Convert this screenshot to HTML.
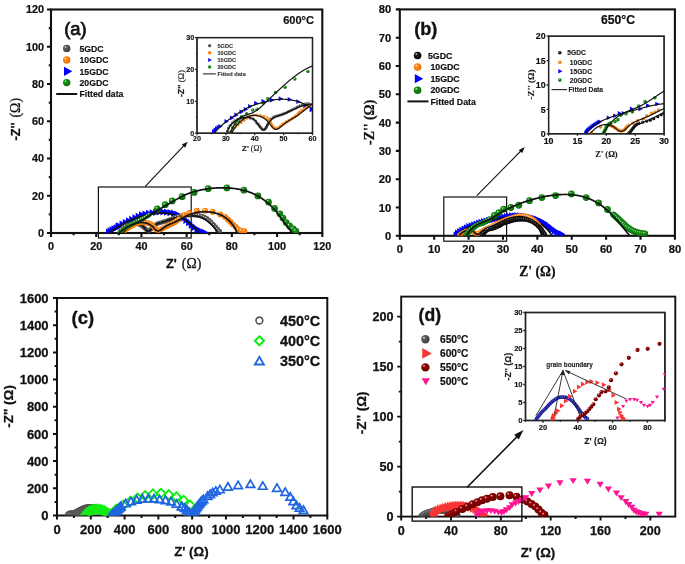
<!DOCTYPE html>
<html><head><meta charset="utf-8"><title>Figure</title>
<style>html,body{margin:0;padding:0;background:#fff;}svg{display:block;will-change:transform;}text{stroke:currentColor;}</style>
</head><body>
<svg width="685" height="564" viewBox="0 0 685 564">
<defs>
<radialGradient id="gGrey" cx="0.42" cy="0.42" r="0.62" fx="0.32" fy="0.3"><stop offset="0" stop-color="#f0f0f0"/><stop offset="0.28" stop-color="#5e5e5e"/><stop offset="1" stop-color="#3a3a3a"/></radialGradient>
<radialGradient id="gOr" cx="0.42" cy="0.42" r="0.62" fx="0.32" fy="0.3"><stop offset="0" stop-color="#fff0e0"/><stop offset="0.28" stop-color="#ff8a1a"/><stop offset="1" stop-color="#ea7000"/></radialGradient>
<radialGradient id="gGr" cx="0.42" cy="0.42" r="0.62" fx="0.32" fy="0.3"><stop offset="0" stop-color="#d8f0d8"/><stop offset="0.28" stop-color="#159015"/><stop offset="1" stop-color="#0a6e0a"/></radialGradient>
<radialGradient id="gBk" cx="0.42" cy="0.42" r="0.62" fx="0.32" fy="0.3"><stop offset="0" stop-color="#e8e8e8"/><stop offset="0.28" stop-color="#1e1e1e"/><stop offset="1" stop-color="#000"/></radialGradient>
<radialGradient id="gDR" cx="0.42" cy="0.42" r="0.62" fx="0.32" fy="0.3"><stop offset="0" stop-color="#f8d8d8"/><stop offset="0.28" stop-color="#8e0000"/><stop offset="1" stop-color="#640000"/></radialGradient>
<clipPath id="cA"><rect x="51" y="9.5" width="271.3" height="223.5"/></clipPath>
<clipPath id="cB"><rect x="399.8" y="9.4" width="275.1" height="226.4"/></clipPath>
<clipPath id="cC"><rect x="57" y="298" width="270.3" height="217.5"/></clipPath>
<clipPath id="cD"><rect x="401.2" y="296.6" width="274.1" height="220"/></clipPath>
</defs>
<rect width="685" height="564" fill="#fff"/>
<rect x="51" y="9.5" width="271.3" height="223.5" fill="none" stroke="#111" stroke-width="2.1"/>
<path d="M51 233V237M96.22 233V237M141.43 233V237M186.65 233V237M231.87 233V237M277.08 233V237M322.3 233V237M73.61 233V235.2M118.83 233V235.2M164.04 233V235.2M209.26 233V235.2M254.47 233V235.2M299.69 233V235.2M51 233H47M51 195.75H47M51 158.5H47M51 121.25H47M51 84H47M51 46.75H47M51 9.5H47M51 214.38H48.8M51 177.12H48.8M51 139.88H48.8M51 102.62H48.8M51 65.38H48.8M51 28.12H48.8" stroke="#111" stroke-width="2.1" fill="none"/>
<text x="51" y="249.6" font-size="10.8" font-weight="bold" font-family='"Liberation Sans", sans-serif' text-anchor="middle" fill="#111" color="#111" stroke-width="0.22">0</text>
<text x="96.22" y="249.6" font-size="10.8" font-weight="bold" font-family='"Liberation Sans", sans-serif' text-anchor="middle" fill="#111" color="#111" stroke-width="0.22">20</text>
<text x="141.43" y="249.6" font-size="10.8" font-weight="bold" font-family='"Liberation Sans", sans-serif' text-anchor="middle" fill="#111" color="#111" stroke-width="0.22">40</text>
<text x="186.65" y="249.6" font-size="10.8" font-weight="bold" font-family='"Liberation Sans", sans-serif' text-anchor="middle" fill="#111" color="#111" stroke-width="0.22">60</text>
<text x="231.87" y="249.6" font-size="10.8" font-weight="bold" font-family='"Liberation Sans", sans-serif' text-anchor="middle" fill="#111" color="#111" stroke-width="0.22">80</text>
<text x="277.08" y="249.6" font-size="10.8" font-weight="bold" font-family='"Liberation Sans", sans-serif' text-anchor="middle" fill="#111" color="#111" stroke-width="0.22">100</text>
<text x="322.3" y="249.6" font-size="10.8" font-weight="bold" font-family='"Liberation Sans", sans-serif' text-anchor="middle" fill="#111" color="#111" stroke-width="0.22">120</text>
<text x="43.9" y="236.89" font-size="10.8" font-weight="bold" font-family='"Liberation Sans", sans-serif' text-anchor="end" fill="#111" color="#111" stroke-width="0.22">0</text>
<text x="43.9" y="199.64" font-size="10.8" font-weight="bold" font-family='"Liberation Sans", sans-serif' text-anchor="end" fill="#111" color="#111" stroke-width="0.22">20</text>
<text x="43.9" y="162.39" font-size="10.8" font-weight="bold" font-family='"Liberation Sans", sans-serif' text-anchor="end" fill="#111" color="#111" stroke-width="0.22">40</text>
<text x="43.9" y="125.14" font-size="10.8" font-weight="bold" font-family='"Liberation Sans", sans-serif' text-anchor="end" fill="#111" color="#111" stroke-width="0.22">60</text>
<text x="43.9" y="87.89" font-size="10.8" font-weight="bold" font-family='"Liberation Sans", sans-serif' text-anchor="end" fill="#111" color="#111" stroke-width="0.22">80</text>
<text x="43.9" y="50.64" font-size="10.8" font-weight="bold" font-family='"Liberation Sans", sans-serif' text-anchor="end" fill="#111" color="#111" stroke-width="0.22">100</text>
<text x="43.9" y="13.39" font-size="10.8" font-weight="bold" font-family='"Liberation Sans", sans-serif' text-anchor="end" fill="#111" color="#111" stroke-width="0.22">120</text>
<rect x="98.4" y="187" width="92.8" height="51" fill="none" stroke="#111" stroke-width="1.2"/>
<g clip-path="url(#cA)">
<path d="M105.91 228.6L112.51 232.23L105.91 235.86Z" fill="#0000ff"/>
<path d="M107.6 227.19L114.2 230.82L107.6 234.45Z" fill="#0000ff"/>
<path d="M109.52 226.13L116.12 229.76L109.52 233.39Z" fill="#0000ff"/>
<path d="M111.53 225.23L118.13 228.86L111.53 232.49Z" fill="#0000ff"/>
<path d="M113.51 224.29L120.11 227.92L113.51 231.55Z" fill="#0000ff"/>
<path d="M115.36 223.09L121.96 226.72L115.36 230.35Z" fill="#0000ff"/>
</g>
<g clip-path="url(#cA)">
<path d="M116.31 222.2L122.91 225.83L116.31 229.46Z" fill="#0000ff"/>
<path d="M119.54 220.62L126.14 224.25L119.54 227.88Z" fill="#0000ff"/>
<path d="M122.74 218.97L129.34 222.6L122.74 226.23Z" fill="#0000ff"/>
<path d="M125.96 217.37L132.56 221L125.96 224.63Z" fill="#0000ff"/>
<path d="M129.24 215.87L135.84 219.5L129.24 223.13Z" fill="#0000ff"/>
<path d="M132.49 214.32L139.09 217.95L132.49 221.58Z" fill="#0000ff"/>
<path d="M135.69 212.69L142.29 216.32L135.69 219.95Z" fill="#0000ff"/>
<path d="M139.03 211.34L145.63 214.97L139.03 218.6Z" fill="#0000ff"/>
<path d="M142.52 210.48L149.12 214.11L142.52 217.74Z" fill="#0000ff"/>
<path d="M146.07 209.86L152.67 213.49L146.07 217.12Z" fill="#0000ff"/>
<path d="M149.61 209.23L156.21 212.86L149.61 216.49Z" fill="#0000ff"/>
<path d="M153.17 208.68L159.77 212.31L153.17 215.94Z" fill="#0000ff"/>
<path d="M156.75 208.33L163.35 211.96L156.75 215.59Z" fill="#0000ff"/>
<path d="M160.35 208.27L166.95 211.9L160.35 215.53Z" fill="#0000ff"/>
<path d="M163.94 208.52L170.54 212.15L163.94 215.78Z" fill="#0000ff"/>
<path d="M167.52 208.94L174.12 212.57L167.52 216.2Z" fill="#0000ff"/>
<path d="M171.07 209.53L177.67 213.16L171.07 216.79Z" fill="#0000ff"/>
<path d="M174.46 210.71L181.06 214.34L174.46 217.97Z" fill="#0000ff"/>
<path d="M177.56 212.52L184.16 216.15L177.56 219.78Z" fill="#0000ff"/>
<path d="M180.53 214.56L187.13 218.19L180.53 221.82Z" fill="#0000ff"/>
<path d="M183.4 216.73L190 220.36L183.4 223.99Z" fill="#0000ff"/>
<path d="M186.1 219.11L192.7 222.74L186.1 226.37Z" fill="#0000ff"/>
<path d="M188.76 221.54L195.36 225.17L188.76 228.8Z" fill="#0000ff"/>
<path d="M191.55 223.81L198.15 227.44L191.55 231.07Z" fill="#0000ff"/>
<path d="M194.56 225.79L201.16 229.42L194.56 233.05Z" fill="#0000ff"/>
<path d="M197.79 227.37L204.39 231L197.79 234.63Z" fill="#0000ff"/>
<path d="M201.21 228.47L207.81 232.1L201.21 235.73Z" fill="#0000ff"/>
</g>
<path d="M109.78 233 L109.96 232.82 L110.14 232.63 L110.32 232.45 L110.5 232.28 L110.68 232.1 L110.87 231.93 L111.06 231.76 L111.24 231.6 L111.43 231.43 L111.63 231.27 L111.82 231.11 L112.01 230.95 L112.21 230.79 L112.41 230.64 L112.6 230.48 L112.8 230.33 L113.01 230.18 L113.21 230.03 L113.41 229.89 L113.62 229.74 L113.82 229.6 L114.03 229.46 L114.24 229.32 L114.44 229.18 L114.65 229.04 L114.87 228.91 L115.08 228.77 L115.29 228.64 L115.5 228.51 L115.72 228.38 L115.93 228.25 L116.15 228.12 L116.36 227.99 L116.58 227.86 L116.79 227.74 L117.01 227.61 L117.23 227.49 L117.45 227.36 L117.67 227.24 L117.89 227.12 L118.11 226.99 L118.33 226.87 L118.55 226.75 L118.77 226.63 L118.99 226.51 L119.21 226.39 L119.43 226.27 L119.65 226.15 L119.87 226.03 L120.09 225.9 L120.31 225.78 L120.54 225.66 L120.76 225.54 L120.98 225.42 L121.2 225.3 L121.42 225.18 L121.64 225.06 L121.86 224.94 L122.08 224.82 L122.3 224.69 L122.52 224.57 L122.74 224.45 L122.96 224.33 L123.18 224.21 L123.4 224.08 L123.62 223.96 L123.84 223.84 L124.06 223.72 L124.28 223.6 L124.5 223.48 L124.72 223.35 L124.94 223.23 L125.16 223.11 L125.38 222.99 L125.6 222.87 L125.82 222.75 L126.04 222.63 L126.26 222.51 L126.48 222.39 L126.7 222.27 L126.92 222.16 L127.14 222.04 L127.37 221.92 L127.59 221.8 L127.81 221.69 L128.03 221.57 L128.26 221.46 L128.48 221.34 L128.7 221.23 L128.93 221.12 L129.15 221 L129.38 220.89 L129.6 220.78 L129.83 220.67 L130.06 220.56 L130.28 220.45 L130.51 220.34 L130.74 220.24 L130.97 220.13 L131.2 220.03 L131.42 219.92 L131.65 219.82 L131.88 219.71 L132.11 219.61 L132.34 219.51 L132.57 219.41 L132.81 219.31 L133.04 219.21 L133.27 219.11 L133.5 219.02 L133.73 218.92 L133.97 218.83 L134.2 218.73 L134.43 218.64 L134.67 218.55 L134.9 218.45 L135.14 218.36 L135.37 218.27 L135.61 218.19 L135.84 218.1 L136.08 218.01 L136.32 217.93 L136.55 217.84 L136.79 217.76 L137.03 217.68 L137.27 217.59 L137.5 217.51 L137.74 217.43 L137.98 217.36 L138.22 217.28 L138.46 217.2 L138.7 217.13 L138.94 217.05 L139.18 216.98 L139.42 216.91 L139.66 216.84 L139.9 216.77 L140.14 216.7 L140.38 216.63 L140.63 216.57 L140.87 216.5 L141.11 216.44 L141.35 216.37 L141.6 216.31 L141.84 216.25 L142.08 216.19 L142.33 216.13 L142.57 216.07 L142.81 216.01 L143.06 215.95 L143.3 215.89 L143.55 215.83 L143.79 215.78 L144.04 215.72 L144.28 215.67 L144.53 215.61 L144.77 215.56 L145.02 215.5 L145.26 215.45 L145.51 215.4 L145.75 215.35 L146 215.29 L146.25 215.24 L146.49 215.19 L146.74 215.14 L146.98 215.09 L147.23 215.04 L147.48 214.99 L147.72 214.94 L147.97 214.89 L148.22 214.84 L148.47 214.79 L148.71 214.74 L148.96 214.69 L149.21 214.64 L149.45 214.59 L149.7 214.54 L149.95 214.49 L150.19 214.43 L150.44 214.38 L150.69 214.33 L150.94 214.28 L151.18 214.24 L151.43 214.19 L151.68 214.14 L151.92 214.09 L152.17 214.04 L152.42 213.99 L152.67 213.94 L152.91 213.9 L153.16 213.85 L153.41 213.81 L153.66 213.76 L153.91 213.72 L154.15 213.67 L154.4 213.63 L154.65 213.59 L154.9 213.55 L155.15 213.51 L155.39 213.47 L155.64 213.44 L155.89 213.4 L156.14 213.37 L156.39 213.33 L156.64 213.3 L156.89 213.27 L157.14 213.24 L157.38 213.21 L157.63 213.19 L157.88 213.16 L158.13 213.14 L158.38 213.12 L158.63 213.1 L158.88 213.08 L159.13 213.07 L159.38 213.05 L159.63 213.04 L159.88 213.03 L160.13 213.02 L160.38 213.02 L160.63 213.01 L160.88 213.01 L161.13 213.01 L161.39 213.01 L161.64 213.01 L161.89 213.02 L162.14 213.02 L162.39 213.03 L162.64 213.04 L162.89 213.05 L163.14 213.06 L163.39 213.07 L163.65 213.09 L163.9 213.11 L164.15 213.12 L164.4 213.14 L164.65 213.16 L164.9 213.18 L165.15 213.21 L165.4 213.23 L165.65 213.26 L165.91 213.28 L166.16 213.31 L166.41 213.34 L166.66 213.37 L166.91 213.4 L167.16 213.43 L167.41 213.47 L167.66 213.5 L167.91 213.53 L168.16 213.57 L168.41 213.61 L168.66 213.64 L168.91 213.68 L169.16 213.72 L169.41 213.76 L169.66 213.8 L169.91 213.85 L170.16 213.89 L170.4 213.94 L170.65 213.98 L170.9 214.03 L171.15 214.08 L171.39 214.13 L171.64 214.18 L171.89 214.23 L172.13 214.28 L172.38 214.34 L172.63 214.39 L172.87 214.45 L173.12 214.51 L173.36 214.57 L173.6 214.63 L173.85 214.7 L174.09 214.76 L174.33 214.83 L174.57 214.9 L174.81 214.97 L175.05 215.04 L175.29 215.12 L175.53 215.19 L175.77 215.27 L176.01 215.35 L176.25 215.43 L176.48 215.51 L176.72 215.6 L176.95 215.69 L177.19 215.78 L177.42 215.87 L177.65 215.96 L177.88 216.06 L178.12 216.16 L178.35 216.26 L178.58 216.36 L178.8 216.46 L179.03 216.57 L179.26 216.67 L179.49 216.78 L179.71 216.89 L179.94 217 L180.16 217.12 L180.39 217.23 L180.61 217.35 L180.83 217.47 L181.06 217.59 L181.28 217.71 L181.5 217.83 L181.72 217.95 L181.94 218.08 L182.15 218.21 L182.37 218.33 L182.59 218.46 L182.8 218.59 L183.02 218.72 L183.23 218.86 L183.45 218.99 L183.66 219.12 L183.87 219.26 L184.09 219.39 L184.3 219.53 L184.51 219.67 L184.72 219.81 L184.93 219.95 L185.14 220.09 L185.34 220.23 L185.55 220.37 L185.76 220.51 L185.96 220.65 L186.17 220.8 L186.38 220.94 L186.58 221.09 L186.78 221.24 L186.99 221.38 L187.19 221.53 L187.39 221.68 L187.6 221.83 L187.8 221.98 L188 222.13 L188.2 222.28 L188.4 222.43 L188.6 222.58 L188.8 222.73 L189 222.89 L189.2 223.04 L189.39 223.2 L189.59 223.35 L189.79 223.51 L189.99 223.66 L190.18 223.82 L190.38 223.98 L190.58 224.14 L190.77 224.29 L190.97 224.45 L191.16 224.61 L191.36 224.77 L191.55 224.93 L191.75 225.09 L191.94 225.25 L192.13 225.41 L192.33 225.58 L192.52 225.74 L192.71 225.9 L192.9 226.07 L193.09 226.24 L193.28 226.4 L193.47 226.57 L193.66 226.74 L193.84 226.91 L194.03 227.08 L194.21 227.25 L194.39 227.43 L194.57 227.6 L194.75 227.78 L194.93 227.96 L195.1 228.13 L195.28 228.32 L195.45 228.5 L195.62 228.68 L195.79 228.87 L195.95 229.05 L196.12 229.24 L196.28 229.43 L196.44 229.63 L196.6 229.82 L196.75 230.02 L196.9 230.22 L197.05 230.42 L197.2 230.62 L197.35 230.82 L197.49 231.03 L197.63 231.24 L197.76 231.45 L197.9 231.66 L198.03 231.88 L198.16 232.1 L198.28 232.32 L198.4 232.54 L198.52 232.77 L198.63 233" fill="none" stroke="#111" stroke-width="1.7" stroke-linejoin="round" clip-path="url(#cA)"/>
<g clip-path="url(#cA)">
<circle cx="119.96" cy="231.7" r="2.4" fill="url(#gGrey)"/>
<circle cx="121.44" cy="229.57" r="2.4" fill="url(#gGrey)"/>
<circle cx="123.28" cy="227.73" r="2.4" fill="url(#gGrey)"/>
<circle cx="125.39" cy="226.23" r="2.4" fill="url(#gGrey)"/>
<circle cx="127.73" cy="225.09" r="2.4" fill="url(#gGrey)"/>
<circle cx="130.22" cy="224.34" r="2.4" fill="url(#gGrey)"/>
<circle cx="132.78" cy="223.94" r="2.4" fill="url(#gGrey)"/>
<circle cx="135.38" cy="223.86" r="2.4" fill="url(#gGrey)"/>
<circle cx="137.97" cy="224.08" r="2.4" fill="url(#gGrey)"/>
<circle cx="140.42" cy="224.9" r="2.4" fill="url(#gGrey)"/>
<circle cx="142.53" cy="226.42" r="2.4" fill="url(#gGrey)"/>
<circle cx="144.5" cy="228.11" r="2.4" fill="url(#gGrey)"/>
<circle cx="146.54" cy="229.73" r="2.4" fill="url(#gGrey)"/>
<circle cx="148.86" cy="230.75" r="2.4" fill="url(#gGrey)"/>
<circle cx="150.89" cy="229.23" r="2.4" fill="url(#gGrey)"/>
<circle cx="152.49" cy="227.18" r="2.4" fill="url(#gGrey)"/>
<circle cx="154.4" cy="225.43" r="2.4" fill="url(#gGrey)"/>
<circle cx="156.64" cy="224.1" r="2.4" fill="url(#gGrey)"/>
<circle cx="159.01" cy="223.05" r="2.4" fill="url(#gGrey)"/>
<circle cx="161.49" cy="222.28" r="2.4" fill="url(#gGrey)"/>
<circle cx="164.02" cy="221.65" r="2.4" fill="url(#gGrey)"/>
<circle cx="166.49" cy="220.85" r="2.4" fill="url(#gGrey)"/>
<circle cx="168.94" cy="219.99" r="2.4" fill="url(#gGrey)"/>
<circle cx="171.38" cy="219.08" r="2.4" fill="url(#gGrey)"/>
<circle cx="173.77" cy="218.06" r="2.4" fill="url(#gGrey)"/>
<circle cx="176.2" cy="217.14" r="2.4" fill="url(#gGrey)"/>
<circle cx="178.72" cy="216.49" r="2.4" fill="url(#gGrey)"/>
<circle cx="181.27" cy="216" r="2.4" fill="url(#gGrey)"/>
<circle cx="183.84" cy="215.61" r="2.4" fill="url(#gGrey)"/>
<circle cx="186.43" cy="215.33" r="2.4" fill="url(#gGrey)"/>
<circle cx="189.02" cy="215.16" r="2.4" fill="url(#gGrey)"/>
<circle cx="191.62" cy="215.11" r="2.4" fill="url(#gGrey)"/>
<circle cx="194.22" cy="215.13" r="2.4" fill="url(#gGrey)"/>
<circle cx="196.82" cy="215.26" r="2.4" fill="url(#gGrey)"/>
<circle cx="199.4" cy="215.57" r="2.4" fill="url(#gGrey)"/>
<circle cx="201.93" cy="216.16" r="2.4" fill="url(#gGrey)"/>
<circle cx="204.36" cy="217.07" r="2.4" fill="url(#gGrey)"/>
<circle cx="206.63" cy="218.34" r="2.4" fill="url(#gGrey)"/>
<circle cx="208.67" cy="219.95" r="2.4" fill="url(#gGrey)"/>
<circle cx="210.55" cy="221.74" r="2.4" fill="url(#gGrey)"/>
<circle cx="212.39" cy="223.58" r="2.4" fill="url(#gGrey)"/>
<circle cx="214.23" cy="225.41" r="2.4" fill="url(#gGrey)"/>
<circle cx="216" cy="227.32" r="2.4" fill="url(#gGrey)"/>
<circle cx="217.69" cy="229.29" r="2.4" fill="url(#gGrey)"/>
<circle cx="219.56" cy="231.1" r="2.4" fill="url(#gGrey)"/>
</g>
<path d="M119.96 233 L120.08 232.74 L120.22 232.48 L120.36 232.23 L120.5 231.98 L120.65 231.73 L120.8 231.49 L120.96 231.24 L121.12 231.01 L121.28 230.77 L121.45 230.54 L121.62 230.31 L121.8 230.08 L121.98 229.86 L122.16 229.64 L122.35 229.42 L122.54 229.21 L122.74 229 L122.94 228.8 L123.14 228.59 L123.35 228.39 L123.56 228.2 L123.77 228.01 L123.98 227.82 L124.2 227.63 L124.43 227.45 L124.65 227.28 L124.88 227.1 L125.11 226.93 L125.34 226.77 L125.58 226.61 L125.82 226.45 L126.06 226.29 L126.3 226.14 L126.55 226 L126.8 225.86 L127.05 225.72 L127.31 225.59 L127.56 225.46 L127.82 225.33 L128.08 225.21 L128.34 225.09 L128.6 224.98 L128.87 224.87 L129.14 224.77 L129.41 224.67 L129.68 224.58 L129.95 224.49 L130.22 224.4 L130.5 224.32 L130.78 224.25 L131.05 224.18 L131.33 224.11 L131.61 224.05 L131.89 223.99 L132.18 223.94 L132.46 223.89 L132.74 223.84 L133.03 223.8 L133.31 223.77 L133.6 223.74 L133.88 223.71 L134.17 223.69 L134.45 223.68 L134.74 223.66 L135.02 223.66 L135.31 223.65 L135.6 223.65 L135.88 223.66 L136.17 223.67 L136.45 223.69 L136.74 223.71 L137.02 223.73 L137.3 223.76 L137.59 223.8 L137.87 223.84 L138.15 223.89 L138.42 223.94 L138.7 224 L138.98 224.07 L139.25 224.14 L139.52 224.23 L139.79 224.32 L140.06 224.42 L140.33 224.53 L140.59 224.64 L140.85 224.77 L141.11 224.91 L141.37 225.06 L141.62 225.21 L141.87 225.38 L142.12 225.56 L142.36 225.75 L142.6 225.96 L142.84 226.17 L143.07 226.39 L143.3 226.63 L143.53 226.87 L143.76 227.12 L143.98 227.37 L144.2 227.62 L144.41 227.88 L144.63 228.14 L144.84 228.39 L145.05 228.65 L145.26 228.89 L145.47 229.14 L145.67 229.37 L145.87 229.6 L146.08 229.82 L146.28 230.02 L146.48 230.22 L146.68 230.4 L146.87 230.56 L147.07 230.71 L147.27 230.83 L147.46 230.94 L147.66 231.03 L147.86 231.09 L148.05 231.13 L148.25 231.14 L148.44 231.12 L148.64 231.08 L148.84 231.02 L149.04 230.93 L149.23 230.82 L149.43 230.69 L149.63 230.55 L149.83 230.38 L150.03 230.2 L150.24 230.01 L150.44 229.8 L150.64 229.58 L150.85 229.36 L151.06 229.12 L151.27 228.87 L151.48 228.62 L151.69 228.37 L151.9 228.11 L152.12 227.85 L152.33 227.59 L152.55 227.33 L152.77 227.08 L153 226.82 L153.22 226.58 L153.45 226.34 L153.68 226.11 L153.91 225.88 L154.14 225.67 L154.38 225.47 L154.62 225.28 L154.86 225.1 L155.1 224.92 L155.35 224.76 L155.6 224.6 L155.85 224.45 L156.1 224.31 L156.35 224.18 L156.6 224.05 L156.86 223.93 L157.12 223.81 L157.37 223.7 L157.63 223.59 L157.89 223.49 L158.16 223.39 L158.42 223.29 L158.68 223.2 L158.95 223.11 L159.21 223.02 L159.48 222.94 L159.75 222.85 L160.01 222.77 L160.28 222.69 L160.55 222.6 L160.82 222.52 L161.08 222.43 L161.35 222.35 L161.62 222.26 L161.89 222.18 L162.16 222.09 L162.43 222 L162.7 221.91 L162.97 221.83 L163.24 221.74 L163.51 221.65 L163.78 221.56 L164.05 221.47 L164.32 221.38 L164.59 221.29 L164.86 221.2 L165.13 221.11 L165.4 221.02 L165.67 220.93 L165.94 220.84 L166.21 220.75 L166.48 220.66 L166.75 220.57 L167.02 220.48 L167.3 220.39 L167.57 220.29 L167.84 220.2 L168.11 220.11 L168.38 220.02 L168.65 219.93 L168.93 219.84 L169.2 219.75 L169.47 219.66 L169.74 219.57 L170.01 219.48 L170.29 219.39 L170.56 219.3 L170.83 219.22 L171.1 219.13 L171.38 219.04 L171.65 218.95 L171.92 218.86 L172.19 218.78 L172.47 218.69 L172.74 218.61 L173.01 218.52 L173.29 218.44 L173.56 218.35 L173.83 218.27 L174.11 218.19 L174.38 218.11 L174.65 218.03 L174.93 217.95 L175.2 217.87 L175.47 217.79 L175.75 217.71 L176.02 217.63 L176.3 217.56 L176.57 217.48 L176.85 217.41 L177.12 217.34 L177.4 217.27 L177.68 217.2 L177.95 217.13 L178.23 217.06 L178.5 216.99 L178.78 216.92 L179.06 216.86 L179.34 216.8 L179.61 216.73 L179.89 216.67 L180.17 216.61 L180.45 216.56 L180.73 216.5 L181.01 216.44 L181.29 216.39 L181.57 216.34 L181.85 216.29 L182.13 216.24 L182.41 216.19 L182.69 216.14 L182.97 216.1 L183.25 216.06 L183.53 216.02 L183.82 215.98 L184.1 215.94 L184.38 215.9 L184.67 215.87 L184.95 215.84 L185.23 215.81 L185.52 215.78 L185.8 215.75 L186.08 215.73 L186.37 215.7 L186.65 215.68 L186.94 215.66 L187.22 215.64 L187.51 215.63 L187.79 215.62 L188.08 215.6 L188.37 215.59 L188.65 215.59 L188.94 215.58 L189.22 215.58 L189.51 215.58 L189.79 215.58 L190.08 215.58 L190.37 215.59 L190.65 215.59 L190.94 215.6 L191.22 215.61 L191.51 215.63 L191.8 215.64 L192.08 215.66 L192.37 215.68 L192.65 215.71 L192.94 215.73 L193.23 215.76 L193.51 215.79 L193.8 215.82 L194.08 215.86 L194.37 215.9 L194.65 215.94 L194.93 215.98 L195.22 216.02 L195.5 216.07 L195.78 216.12 L196.06 216.17 L196.34 216.23 L196.63 216.29 L196.91 216.35 L197.18 216.41 L197.46 216.48 L197.74 216.54 L198.02 216.62 L198.29 216.69 L198.57 216.77 L198.84 216.85 L199.12 216.93 L199.39 217.01 L199.66 217.1 L199.93 217.19 L200.2 217.29 L200.47 217.38 L200.73 217.48 L201 217.59 L201.26 217.69 L201.53 217.8 L201.79 217.91 L202.05 218.03 L202.31 218.15 L202.56 218.27 L202.82 218.39 L203.07 218.52 L203.33 218.65 L203.58 218.78 L203.83 218.91 L204.08 219.05 L204.33 219.19 L204.58 219.33 L204.82 219.47 L205.07 219.62 L205.31 219.77 L205.55 219.92 L205.8 220.07 L206.04 220.23 L206.28 220.39 L206.51 220.55 L206.75 220.71 L206.99 220.87 L207.22 221.03 L207.45 221.2 L207.69 221.37 L207.92 221.54 L208.15 221.71 L208.38 221.88 L208.61 222.06 L208.83 222.24 L209.06 222.41 L209.29 222.59 L209.51 222.77 L209.73 222.95 L209.96 223.14 L210.18 223.32 L210.4 223.51 L210.62 223.7 L210.83 223.89 L211.05 224.08 L211.26 224.27 L211.47 224.46 L211.68 224.66 L211.89 224.86 L212.09 225.06 L212.29 225.26 L212.49 225.46 L212.69 225.67 L212.88 225.88 L213.08 226.09 L213.27 226.3 L213.45 226.51 L213.64 226.73 L213.82 226.95 L213.99 227.17 L214.17 227.39 L214.34 227.62 L214.5 227.85 L214.67 228.08 L214.83 228.31 L214.98 228.55 L215.13 228.79 L215.28 229.03 L215.43 229.27 L215.56 229.52 L215.7 229.77 L215.83 230.02 L215.96 230.28 L216.08 230.54 L216.19 230.8 L216.31 231.06 L216.41 231.33 L216.51 231.6 L216.61 231.87 L216.7 232.15 L216.79 232.43 L216.87 232.71 L216.95 233" fill="none" stroke="#111" stroke-width="1.7" stroke-linejoin="round" clip-path="url(#cA)"/>
<g clip-path="url(#cA)">
<circle cx="122.67" cy="232.44" r="2.8" fill="url(#gOr)"/>
<circle cx="124.46" cy="230.56" r="2.8" fill="url(#gOr)"/>
<circle cx="126.53" cy="229" r="2.8" fill="url(#gOr)"/>
<circle cx="128.72" cy="227.59" r="2.8" fill="url(#gOr)"/>
<circle cx="130.92" cy="226.2" r="2.8" fill="url(#gOr)"/>
<circle cx="133.2" cy="224.96" r="2.8" fill="url(#gOr)"/>
<circle cx="135.55" cy="223.86" r="2.8" fill="url(#gOr)"/>
<circle cx="137.97" cy="222.9" r="2.8" fill="url(#gOr)"/>
<circle cx="140.52" cy="222.42" r="2.8" fill="url(#gOr)"/>
<circle cx="143.12" cy="222.41" r="2.8" fill="url(#gOr)"/>
<circle cx="145.7" cy="222.69" r="2.8" fill="url(#gOr)"/>
<circle cx="148.27" cy="223.1" r="2.8" fill="url(#gOr)"/>
<circle cx="150.72" cy="223.94" r="2.8" fill="url(#gOr)"/>
<circle cx="152.73" cy="225.57" r="2.8" fill="url(#gOr)"/>
<circle cx="154.35" cy="227.61" r="2.8" fill="url(#gOr)"/>
<circle cx="156.15" cy="229.47" r="2.8" fill="url(#gOr)"/>
<circle cx="158.58" cy="230.18" r="2.8" fill="url(#gOr)"/>
<circle cx="160.99" cy="229.25" r="2.8" fill="url(#gOr)"/>
<circle cx="163.26" cy="227.97" r="2.8" fill="url(#gOr)"/>
<circle cx="165.58" cy="226.8" r="2.8" fill="url(#gOr)"/>
<circle cx="167.92" cy="225.67" r="2.8" fill="url(#gOr)"/>
<circle cx="170.27" cy="224.56" r="2.8" fill="url(#gOr)"/>
<circle cx="172.63" cy="223.47" r="2.8" fill="url(#gOr)"/>
<circle cx="174.85" cy="222.13" r="2.8" fill="url(#gOr)"/>
<circle cx="176.91" cy="220.54" r="2.8" fill="url(#gOr)"/>
<circle cx="179.09" cy="219.12" r="2.8" fill="url(#gOr)"/>
</g>
<g clip-path="url(#cA)">
<circle cx="184.39" cy="215.12" r="3" fill="url(#gOr)"/>
<circle cx="189.14" cy="213.07" r="3" fill="url(#gOr)"/>
<circle cx="196.82" cy="210.84" r="3" fill="url(#gOr)"/>
<circle cx="204.96" cy="210.65" r="3" fill="url(#gOr)"/>
<circle cx="212.65" cy="211.77" r="3" fill="url(#gOr)"/>
<circle cx="220.34" cy="214.38" r="3" fill="url(#gOr)"/>
<circle cx="225.08" cy="216.98" r="3" fill="url(#gOr)"/>
<circle cx="228.02" cy="219.4" r="3" fill="url(#gOr)"/>
<circle cx="230.51" cy="222.01" r="3" fill="url(#gOr)"/>
<circle cx="233" cy="224.43" r="3" fill="url(#gOr)"/>
<circle cx="235.71" cy="227.04" r="3" fill="url(#gOr)"/>
<circle cx="238.2" cy="229.46" r="3" fill="url(#gOr)"/>
<circle cx="241.59" cy="230.76" r="3" fill="url(#gOr)"/>
<circle cx="244.3" cy="231.32" r="3" fill="url(#gOr)"/>
</g>
<path d="M123.35 233 L123.52 232.7 L123.7 232.41 L123.88 232.13 L124.07 231.84 L124.26 231.57 L124.46 231.29 L124.66 231.03 L124.87 230.76 L125.08 230.5 L125.29 230.25 L125.51 230 L125.74 229.75 L125.97 229.51 L126.2 229.27 L126.44 229.04 L126.68 228.81 L126.92 228.59 L127.17 228.37 L127.42 228.15 L127.68 227.94 L127.93 227.73 L128.2 227.53 L128.46 227.33 L128.73 227.13 L129 226.94 L129.28 226.75 L129.55 226.57 L129.83 226.39 L130.11 226.21 L130.4 226.04 L130.69 225.87 L130.98 225.7 L131.27 225.54 L131.56 225.38 L131.86 225.22 L132.16 225.07 L132.46 224.92 L132.76 224.78 L133.06 224.64 L133.37 224.5 L133.68 224.36 L133.98 224.23 L134.29 224.11 L134.6 223.98 L134.92 223.86 L135.23 223.74 L135.55 223.63 L135.86 223.52 L136.18 223.42 L136.5 223.32 L136.82 223.23 L137.14 223.14 L137.47 223.06 L137.79 222.98 L138.11 222.9 L138.44 222.84 L138.77 222.78 L139.1 222.72 L139.43 222.67 L139.76 222.63 L140.09 222.59 L140.43 222.56 L140.76 222.54 L141.1 222.52 L141.43 222.51 L141.77 222.5 L142.1 222.51 L142.44 222.52 L142.78 222.53 L143.11 222.55 L143.45 222.58 L143.78 222.62 L144.12 222.66 L144.45 222.7 L144.78 222.76 L145.11 222.82 L145.44 222.88 L145.76 222.95 L146.09 223.03 L146.41 223.12 L146.73 223.21 L147.04 223.3 L147.35 223.4 L147.66 223.51 L147.97 223.63 L148.27 223.75 L148.58 223.87 L148.87 224.01 L149.17 224.15 L149.46 224.3 L149.75 224.45 L150.04 224.62 L150.32 224.79 L150.6 224.96 L150.88 225.15 L151.16 225.35 L151.43 225.55 L151.7 225.76 L151.97 225.98 L152.24 226.21 L152.5 226.45 L152.77 226.7 L153.03 226.95 L153.28 227.22 L153.54 227.48 L153.79 227.75 L154.05 228.03 L154.3 228.3 L154.55 228.56 L154.8 228.83 L155.06 229.08 L155.31 229.33 L155.56 229.56 L155.81 229.78 L156.07 229.98 L156.33 230.17 L156.58 230.33 L156.85 230.48 L157.11 230.6 L157.37 230.69 L157.64 230.75 L157.91 230.79 L158.19 230.79 L158.47 230.77 L158.75 230.72 L159.03 230.65 L159.32 230.55 L159.61 230.43 L159.9 230.3 L160.19 230.14 L160.49 229.97 L160.78 229.79 L161.08 229.6 L161.38 229.39 L161.68 229.18 L161.98 228.96 L162.28 228.73 L162.59 228.5 L162.89 228.27 L163.19 228.04 L163.5 227.81 L163.8 227.59 L164.11 227.37 L164.41 227.15 L164.71 226.95 L165.02 226.75 L165.32 226.55 L165.62 226.36 L165.93 226.18 L166.23 226 L166.53 225.83 L166.83 225.66 L167.13 225.5 L167.43 225.34 L167.73 225.19 L168.03 225.04 L168.33 224.89 L168.63 224.75 L168.93 224.61 L169.23 224.47 L169.53 224.33 L169.83 224.2 L170.13 224.07 L170.42 223.94 L170.72 223.81 L171.02 223.69 L171.31 223.56 L171.61 223.44 L171.91 223.31 L172.2 223.19 L172.5 223.07 L172.79 222.94 L173.09 222.82 L173.38 222.69 L173.68 222.57 L173.97 222.44 L174.27 222.31 L174.56 222.18 L174.85 222.05 L175.15 221.92 L175.44 221.78 L175.73 221.64 L176.02 221.5 L176.32 221.36 L176.61 221.21 L176.9 221.06 L177.19 220.91 L177.48 220.76 L177.77 220.61 L178.06 220.46 L178.35 220.3 L178.65 220.14 L178.94 219.98 L179.23 219.82 L179.52 219.66 L179.81 219.5 L180.1 219.34 L180.39 219.18 L180.69 219.02 L180.98 218.85 L181.27 218.69 L181.56 218.53 L181.86 218.37 L182.15 218.2 L182.45 218.04 L182.74 217.88 L183.04 217.72 L183.33 217.56 L183.63 217.4 L183.92 217.24 L184.22 217.08 L184.52 216.93 L184.82 216.77 L185.12 216.62 L185.42 216.47 L185.72 216.32 L186.02 216.17 L186.32 216.02 L186.62 215.88 L186.93 215.74 L187.23 215.6 L187.54 215.46 L187.84 215.32 L188.15 215.19 L188.46 215.06 L188.77 214.93 L189.08 214.81 L189.39 214.69 L189.7 214.56 L190.01 214.45 L190.33 214.33 L190.64 214.22 L190.95 214.11 L191.27 214 L191.59 213.89 L191.9 213.79 L192.22 213.69 L192.54 213.59 L192.86 213.49 L193.18 213.4 L193.5 213.3 L193.82 213.22 L194.14 213.13 L194.46 213.05 L194.78 212.96 L195.11 212.89 L195.43 212.81 L195.75 212.74 L196.08 212.66 L196.41 212.6 L196.73 212.53 L197.06 212.47 L197.39 212.41 L197.72 212.35 L198.04 212.29 L198.37 212.24 L198.7 212.19 L199.03 212.14 L199.36 212.1 L199.69 212.06 L200.02 212.02 L200.36 211.98 L200.69 211.94 L201.02 211.91 L201.35 211.88 L201.68 211.86 L202.02 211.83 L202.35 211.81 L202.68 211.79 L203.02 211.78 L203.35 211.76 L203.68 211.75 L204.02 211.74 L204.35 211.74 L204.68 211.74 L205.02 211.74 L205.35 211.74 L205.68 211.74 L206.02 211.75 L206.35 211.76 L206.68 211.77 L207.02 211.79 L207.35 211.81 L207.68 211.83 L208.02 211.85 L208.35 211.88 L208.68 211.9 L209.01 211.94 L209.34 211.97 L209.67 212.01 L210 212.04 L210.33 212.09 L210.67 212.13 L210.99 212.18 L211.32 212.23 L211.65 212.28 L211.98 212.34 L212.31 212.39 L212.64 212.45 L212.97 212.52 L213.29 212.58 L213.62 212.65 L213.95 212.73 L214.27 212.8 L214.6 212.88 L214.92 212.96 L215.24 213.04 L215.57 213.13 L215.89 213.22 L216.21 213.31 L216.53 213.4 L216.85 213.5 L217.17 213.6 L217.49 213.7 L217.81 213.81 L218.13 213.92 L218.44 214.03 L218.76 214.14 L219.07 214.26 L219.39 214.38 L219.7 214.5 L220.01 214.63 L220.32 214.76 L220.62 214.9 L220.93 215.03 L221.23 215.17 L221.53 215.32 L221.83 215.46 L222.13 215.61 L222.43 215.76 L222.72 215.92 L223.02 216.08 L223.31 216.24 L223.59 216.41 L223.88 216.58 L224.16 216.76 L224.45 216.93 L224.72 217.11 L225 217.3 L225.27 217.49 L225.54 217.68 L225.81 217.87 L226.08 218.07 L226.34 218.27 L226.6 218.48 L226.86 218.69 L227.12 218.9 L227.37 219.11 L227.62 219.33 L227.87 219.55 L228.12 219.77 L228.37 220 L228.61 220.22 L228.85 220.46 L229.09 220.69 L229.33 220.92 L229.56 221.16 L229.8 221.4 L230.03 221.64 L230.26 221.88 L230.49 222.13 L230.72 222.38 L230.94 222.63 L231.16 222.88 L231.39 223.13 L231.61 223.38 L231.82 223.64 L232.04 223.89 L232.26 224.15 L232.47 224.41 L232.68 224.67 L232.89 224.93 L233.1 225.2 L233.3 225.46 L233.5 225.73 L233.7 226 L233.89 226.28 L234.08 226.55 L234.26 226.83 L234.44 227.11 L234.62 227.39 L234.79 227.67 L234.95 227.96 L235.11 228.25 L235.26 228.54 L235.41 228.84 L235.55 229.14 L235.68 229.44 L235.81 229.74 L235.93 230.05 L236.04 230.36 L236.14 230.68 L236.23 231 L236.32 231.32 L236.4 231.65 L236.47 231.98 L236.53 232.32 L236.57 232.66 L236.61 233" fill="none" stroke="#111" stroke-width="1.7" stroke-linejoin="round" clip-path="url(#cA)"/>
<g clip-path="url(#cA)">
<circle cx="119.73" cy="232.44" r="2.4" fill="url(#gGr)"/>
<circle cx="121.4" cy="230.87" r="2.4" fill="url(#gGr)"/>
<circle cx="123.21" cy="229.44" r="2.4" fill="url(#gGr)"/>
<circle cx="125.09" cy="228.13" r="2.4" fill="url(#gGr)"/>
<circle cx="127.02" cy="226.87" r="2.4" fill="url(#gGr)"/>
<circle cx="128.98" cy="225.67" r="2.4" fill="url(#gGr)"/>
<circle cx="130.97" cy="224.51" r="2.4" fill="url(#gGr)"/>
<circle cx="132.99" cy="223.41" r="2.4" fill="url(#gGr)"/>
<circle cx="135.04" cy="222.37" r="2.4" fill="url(#gGr)"/>
<circle cx="137.12" cy="221.38" r="2.4" fill="url(#gGr)"/>
<circle cx="139.21" cy="220.42" r="2.4" fill="url(#gGr)"/>
<circle cx="141.29" cy="219.45" r="2.4" fill="url(#gGr)"/>
<circle cx="143.36" cy="218.45" r="2.4" fill="url(#gGr)"/>
<circle cx="145.39" cy="217.36" r="2.4" fill="url(#gGr)"/>
<circle cx="147.36" cy="216.17" r="2.4" fill="url(#gGr)"/>
<circle cx="149.23" cy="214.84" r="2.4" fill="url(#gGr)"/>
</g>
<g clip-path="url(#cA)">
<circle cx="157.26" cy="208.79" r="3.4" fill="url(#gGr)"/>
<circle cx="165.17" cy="204.69" r="3.4" fill="url(#gGr)"/>
<circle cx="172.18" cy="200.97" r="3.4" fill="url(#gGr)"/>
<circle cx="182.13" cy="196.68" r="3.4" fill="url(#gGr)"/>
<circle cx="194.11" cy="192.4" r="3.4" fill="url(#gGr)"/>
<circle cx="208.13" cy="188.67" r="3.4" fill="url(#gGr)"/>
<circle cx="226.89" cy="187.93" r="3.4" fill="url(#gGr)"/>
<circle cx="243.85" cy="190.16" r="3.4" fill="url(#gGr)"/>
<circle cx="257.87" cy="195.94" r="3.4" fill="url(#gGr)"/>
<circle cx="268.49" cy="202.08" r="3.4" fill="url(#gGr)"/>
<circle cx="274.6" cy="208.41" r="3.4" fill="url(#gGr)"/>
<circle cx="279.8" cy="213.82" r="3.4" fill="url(#gGr)"/>
<circle cx="282.96" cy="218.1" r="3.4" fill="url(#gGr)"/>
<circle cx="286.13" cy="222.57" r="3.4" fill="url(#gGr)"/>
<circle cx="289.52" cy="225.92" r="3.4" fill="url(#gGr)"/>
<circle cx="293.14" cy="228.9" r="3.4" fill="url(#gGr)"/>
<circle cx="295.85" cy="231.14" r="3.4" fill="url(#gGr)"/>
</g>
<path d="M118.83 233 L119.2 232.66 L119.58 232.32 L119.97 231.99 L120.35 231.66 L120.75 231.34 L121.14 231.03 L121.54 230.71 L121.95 230.41 L122.35 230.11 L122.76 229.81 L123.18 229.52 L123.6 229.23 L124.02 228.95 L124.44 228.67 L124.87 228.39 L125.3 228.13 L125.74 227.86 L126.18 227.6 L126.62 227.35 L127.06 227.1 L127.51 226.86 L127.95 226.62 L128.41 226.39 L128.86 226.16 L129.32 225.93 L129.77 225.72 L130.24 225.5 L130.7 225.29 L131.16 225.09 L131.63 224.89 L132.1 224.69 L132.57 224.49 L133.04 224.3 L133.51 224.11 L133.99 223.92 L134.46 223.73 L134.93 223.55 L135.4 223.36 L135.88 223.17 L136.35 222.98 L136.82 222.79 L137.29 222.6 L137.76 222.41 L138.22 222.21 L138.69 222.01 L139.15 221.81 L139.61 221.6 L140.07 221.38 L140.52 221.17 L140.98 220.94 L141.42 220.71 L141.87 220.48 L142.31 220.23 L142.75 219.98 L143.19 219.73 L143.62 219.47 L144.05 219.21 L144.48 218.94 L144.91 218.66 L145.33 218.39 L145.75 218.11 L146.17 217.83 L146.59 217.54 L147.01 217.25 L147.43 216.96 L147.85 216.67 L148.26 216.38 L148.68 216.08 L149.09 215.79 L149.51 215.49 L149.93 215.2 L150.34 214.91 L150.76 214.61 L151.18 214.32 L151.59 214.03 L152.01 213.75 L152.44 213.46 L152.86 213.18 L153.28 212.9 L153.71 212.62 L154.14 212.35 L154.56 212.07 L154.99 211.81 L155.43 211.54 L155.86 211.27 L156.29 211.01 L156.73 210.75 L157.16 210.49 L157.6 210.23 L158.04 209.98 L158.48 209.72 L158.91 209.47 L159.35 209.21 L159.79 208.96 L160.23 208.71 L160.67 208.46 L161.12 208.21 L161.56 207.96 L162 207.71 L162.44 207.46 L162.88 207.21 L163.32 206.96 L163.76 206.71 L164.2 206.46 L164.64 206.21 L165.08 205.96 L165.52 205.71 L165.96 205.45 L166.4 205.2 L166.84 204.95 L167.28 204.69 L167.72 204.44 L168.16 204.19 L168.6 203.93 L169.03 203.68 L169.47 203.42 L169.91 203.17 L170.35 202.91 L170.79 202.66 L171.23 202.41 L171.67 202.15 L172.11 201.9 L172.54 201.64 L172.98 201.39 L173.42 201.14 L173.86 200.88 L174.3 200.63 L174.74 200.38 L175.19 200.13 L175.63 199.87 L176.07 199.62 L176.51 199.37 L176.95 199.12 L177.4 198.87 L177.84 198.63 L178.28 198.38 L178.73 198.14 L179.18 197.89 L179.62 197.65 L180.07 197.41 L180.52 197.18 L180.97 196.94 L181.42 196.71 L181.87 196.48 L182.33 196.25 L182.78 196.02 L183.24 195.8 L183.69 195.58 L184.15 195.37 L184.61 195.15 L185.07 194.94 L185.54 194.74 L186 194.54 L186.47 194.34 L186.93 194.14 L187.4 193.95 L187.87 193.77 L188.35 193.58 L188.82 193.41 L189.3 193.23 L189.77 193.06 L190.25 192.89 L190.73 192.73 L191.21 192.57 L191.7 192.41 L192.18 192.26 L192.67 192.11 L193.15 191.96 L193.64 191.82 L194.13 191.67 L194.62 191.54 L195.11 191.4 L195.6 191.27 L196.09 191.14 L196.58 191.01 L197.08 190.89 L197.57 190.77 L198.06 190.65 L198.56 190.53 L199.05 190.42 L199.55 190.31 L200.05 190.2 L200.54 190.09 L201.04 189.99 L201.54 189.88 L202.04 189.78 L202.54 189.69 L203.04 189.59 L203.53 189.5 L204.03 189.4 L204.53 189.31 L205.03 189.23 L205.53 189.14 L206.04 189.06 L206.54 188.98 L207.04 188.9 L207.54 188.83 L208.04 188.76 L208.54 188.69 L209.05 188.62 L209.55 188.56 L210.05 188.49 L210.56 188.43 L211.06 188.38 L211.56 188.32 L212.07 188.27 L212.57 188.22 L213.08 188.17 L213.58 188.13 L214.09 188.09 L214.59 188.05 L215.1 188.01 L215.61 187.98 L216.11 187.95 L216.62 187.92 L217.12 187.9 L217.63 187.88 L218.14 187.86 L218.65 187.84 L219.15 187.82 L219.66 187.81 L220.17 187.8 L220.67 187.79 L221.18 187.79 L221.69 187.79 L222.2 187.79 L222.7 187.79 L223.21 187.8 L223.72 187.8 L224.23 187.81 L224.74 187.83 L225.24 187.84 L225.75 187.86 L226.26 187.88 L226.77 187.9 L227.27 187.92 L227.78 187.95 L228.29 187.98 L228.8 188.01 L229.3 188.04 L229.81 188.08 L230.32 188.12 L230.82 188.16 L231.33 188.21 L231.84 188.25 L232.34 188.3 L232.85 188.36 L233.35 188.41 L233.86 188.47 L234.36 188.53 L234.86 188.59 L235.37 188.66 L235.87 188.73 L236.37 188.81 L236.87 188.88 L237.38 188.96 L237.88 189.05 L238.38 189.14 L238.88 189.23 L239.38 189.32 L239.87 189.42 L240.37 189.52 L240.87 189.62 L241.36 189.73 L241.86 189.84 L242.35 189.96 L242.85 190.08 L243.34 190.21 L243.83 190.33 L244.32 190.47 L244.81 190.6 L245.3 190.74 L245.79 190.89 L246.27 191.03 L246.76 191.19 L247.24 191.34 L247.73 191.5 L248.21 191.66 L248.69 191.83 L249.17 192 L249.64 192.18 L250.12 192.36 L250.59 192.54 L251.07 192.73 L251.54 192.92 L252.01 193.12 L252.47 193.32 L252.94 193.52 L253.4 193.73 L253.87 193.94 L254.33 194.16 L254.78 194.38 L255.24 194.6 L255.69 194.83 L256.14 195.07 L256.59 195.3 L257.04 195.54 L257.49 195.79 L257.93 196.04 L258.37 196.29 L258.81 196.54 L259.24 196.8 L259.68 197.07 L260.11 197.34 L260.54 197.61 L260.97 197.88 L261.39 198.16 L261.81 198.44 L262.23 198.73 L262.65 199.02 L263.07 199.31 L263.48 199.61 L263.89 199.9 L264.3 200.21 L264.71 200.51 L265.11 200.82 L265.51 201.13 L265.91 201.45 L266.31 201.76 L266.71 202.08 L267.1 202.41 L267.49 202.73 L267.88 203.06 L268.26 203.39 L268.65 203.73 L269.03 204.06 L269.41 204.4 L269.78 204.74 L270.16 205.09 L270.53 205.43 L270.9 205.78 L271.26 206.14 L271.63 206.49 L271.99 206.85 L272.35 207.21 L272.7 207.57 L273.06 207.93 L273.41 208.3 L273.75 208.67 L274.1 209.04 L274.44 209.42 L274.78 209.8 L275.12 210.18 L275.45 210.56 L275.78 210.94 L276.11 211.33 L276.44 211.72 L276.76 212.11 L277.08 212.5 L277.39 212.9 L277.71 213.3 L278.02 213.7 L278.32 214.1 L278.63 214.51 L278.93 214.91 L279.23 215.32 L279.53 215.73 L279.83 216.14 L280.13 216.55 L280.42 216.96 L280.72 217.38 L281.01 217.79 L281.31 218.2 L281.6 218.62 L281.89 219.03 L282.18 219.45 L282.48 219.86 L282.77 220.28 L283.06 220.69 L283.35 221.11 L283.65 221.52 L283.94 221.93 L284.24 222.34 L284.54 222.76 L284.83 223.17 L285.13 223.58 L285.43 223.98 L285.73 224.39 L286.03 224.8 L286.34 225.21 L286.64 225.62 L286.94 226.02 L287.24 226.43 L287.54 226.84 L287.84 227.25 L288.15 227.66 L288.45 228.06 L288.75 228.47 L289.05 228.88 L289.35 229.29 L289.65 229.7 L289.95 230.11 L290.24 230.52 L290.54 230.93 L290.84 231.34 L291.13 231.75 L291.42 232.17 L291.71 232.58 L292 233" fill="none" stroke="#111" stroke-width="1.7" stroke-linejoin="round" clip-path="url(#cA)"/>
<path d="M145.3 186.4L184.6 144.8" stroke="#111" stroke-width="1.1" fill="none"/>
<path d="M187.6 141.8L181.8 144.6L185.2 147.7Z" fill="#111"/>
<rect x="197" y="37.6" width="115.5" height="95.6" fill="#fff" stroke="#222" stroke-width="1.3"/>
<rect x="197" y="37.6" width="115.5" height="95.6" fill="none" stroke="#222" stroke-width="1.3"/>
<path d="M197 133.2V135.2M225.88 133.2V135.2M254.75 133.2V135.2M283.62 133.2V135.2M312.5 133.2V135.2M211.44 133.2V134.3M240.31 133.2V134.3M269.19 133.2V134.3M298.06 133.2V134.3M197 133.2H195M197 101.33H195M197 69.47H195M197 37.6H195M197 117.27H195.9M197 85.4H195.9M197 53.53H195.9" stroke="#222" stroke-width="1.3" fill="none"/>
<text x="197" y="141.4" font-size="7.2" font-weight="bold" font-family='"Liberation Sans", sans-serif' text-anchor="middle" fill="#111" color="#111" stroke-width="0.14">20</text>
<text x="225.88" y="141.4" font-size="7.2" font-weight="bold" font-family='"Liberation Sans", sans-serif' text-anchor="middle" fill="#111" color="#111" stroke-width="0.14">30</text>
<text x="254.75" y="141.4" font-size="7.2" font-weight="bold" font-family='"Liberation Sans", sans-serif' text-anchor="middle" fill="#111" color="#111" stroke-width="0.14">40</text>
<text x="283.62" y="141.4" font-size="7.2" font-weight="bold" font-family='"Liberation Sans", sans-serif' text-anchor="middle" fill="#111" color="#111" stroke-width="0.14">50</text>
<text x="312.5" y="141.4" font-size="7.2" font-weight="bold" font-family='"Liberation Sans", sans-serif' text-anchor="middle" fill="#111" color="#111" stroke-width="0.14">60</text>
<text x="194.2" y="135.79" font-size="7.2" font-weight="bold" font-family='"Liberation Sans", sans-serif' text-anchor="end" fill="#111" color="#111" stroke-width="0.14">0</text>
<text x="194.2" y="103.93" font-size="7.2" font-weight="bold" font-family='"Liberation Sans", sans-serif' text-anchor="end" fill="#111" color="#111" stroke-width="0.14">10</text>
<text x="194.2" y="72.06" font-size="7.2" font-weight="bold" font-family='"Liberation Sans", sans-serif' text-anchor="end" fill="#111" color="#111" stroke-width="0.14">20</text>
<text x="194.2" y="40.19" font-size="7.2" font-weight="bold" font-family='"Liberation Sans", sans-serif' text-anchor="end" fill="#111" color="#111" stroke-width="0.14">30</text>
<clipPath id="cIA"><rect x="197" y="37.6" width="115.5" height="95.6"/></clipPath>
<g clip-path="url(#cIA)">
<path d="M212.15 128.98L216.35 131.29L212.15 133.6Z" fill="#0000ff"/>
<path d="M213.48 127.49L217.68 129.8L213.48 132.11Z" fill="#0000ff"/>
<path d="M214.97 126.16L219.17 128.47L214.97 130.78Z" fill="#0000ff"/>
<path d="M216.6 125L220.8 127.31L216.6 129.62Z" fill="#0000ff"/>
<path d="M218.35 124.02L222.55 126.33L218.35 128.64Z" fill="#0000ff"/>
<path d="M224.47 118.99L228.87 121.41L224.47 123.83Z" fill="#0000ff"/>
<path d="M229.96 115.48L234.36 117.9L229.96 120.32Z" fill="#0000ff"/>
<path d="M234.29 112.62L238.69 115.04L234.29 117.46Z" fill="#0000ff"/>
<path d="M239.49 109.43L243.89 111.85L239.49 114.27Z" fill="#0000ff"/>
<path d="M243.82 106.88L248.22 109.3L243.82 111.72Z" fill="#0000ff"/>
<path d="M248.15 104.01L252.55 106.43L248.15 108.85Z" fill="#0000ff"/>
<path d="M254.21 100.83L258.61 103.25L254.21 105.67Z" fill="#0000ff"/>
<path d="M261.43 98.91L265.83 101.33L261.43 103.75Z" fill="#0000ff"/>
<path d="M270.09 97.64L274.5 100.06L270.09 102.48Z" fill="#0000ff"/>
<path d="M278.76 96.36L283.16 98.78L278.76 101.2Z" fill="#0000ff"/>
<path d="M287.71 97L292.11 99.42L287.71 101.84Z" fill="#0000ff"/>
<path d="M296.37 99.23L300.77 101.65L296.37 104.07Z" fill="#0000ff"/>
<path d="M303.3 103.69L307.7 106.11L303.3 108.53Z" fill="#0000ff"/>
<path d="M309.65 107.52L314.05 109.94L309.65 112.36Z" fill="#0000ff"/>
<circle cx="227.32" cy="130.97" r="1.5" fill="url(#gGrey)"/>
<circle cx="228.5" cy="128" r="1.5" fill="url(#gGrey)"/>
<circle cx="230.17" cy="125.28" r="1.5" fill="url(#gGrey)"/>
<circle cx="232.28" cy="122.87" r="1.5" fill="url(#gGrey)"/>
<circle cx="234.76" cy="120.86" r="1.5" fill="url(#gGrey)"/>
<circle cx="237.57" cy="119.33" r="1.5" fill="url(#gGrey)"/>
<circle cx="240.59" cy="118.29" r="1.5" fill="url(#gGrey)"/>
<circle cx="243.73" cy="117.69" r="1.5" fill="url(#gGrey)"/>
<circle cx="246.93" cy="117.55" r="1.5" fill="url(#gGrey)"/>
<circle cx="250.1" cy="117.95" r="1.5" fill="url(#gGrey)"/>
<circle cx="253.1" cy="119.05" r="1.5" fill="url(#gGrey)"/>
<circle cx="255.6" cy="121" r="1.5" fill="url(#gGrey)"/>
<circle cx="257.06" cy="123.32" r="1.5" fill="url(#gGrey)"/>
<circle cx="258.57" cy="124.58" r="1.5" fill="url(#gGrey)"/>
<circle cx="259.8" cy="126.16" r="1.5" fill="url(#gGrey)"/>
<circle cx="261.03" cy="127.73" r="1.5" fill="url(#gGrey)"/>
<circle cx="262.43" cy="129.16" r="1.5" fill="url(#gGrey)"/>
<circle cx="264.27" cy="129.62" r="1.5" fill="url(#gGrey)"/>
<circle cx="265.68" cy="128.24" r="1.5" fill="url(#gGrey)"/>
<circle cx="266.65" cy="126.49" r="1.5" fill="url(#gGrey)"/>
<circle cx="267.5" cy="124.68" r="1.5" fill="url(#gGrey)"/>
<circle cx="268.35" cy="122.87" r="1.5" fill="url(#gGrey)"/>
<circle cx="269.32" cy="121.12" r="1.5" fill="url(#gGrey)"/>
<circle cx="270.49" cy="119.51" r="1.5" fill="url(#gGrey)"/>
<circle cx="271.92" cy="118.11" r="1.5" fill="url(#gGrey)"/>
<circle cx="273.61" cy="117.04" r="1.5" fill="url(#gGrey)"/>
<circle cx="275.47" cy="116.31" r="1.5" fill="url(#gGrey)"/>
<circle cx="277.4" cy="115.78" r="1.5" fill="url(#gGrey)"/>
<circle cx="279.33" cy="115.26" r="1.5" fill="url(#gGrey)"/>
<circle cx="281.24" cy="114.66" r="1.5" fill="url(#gGrey)"/>
<circle cx="283.11" cy="113.97" r="1.5" fill="url(#gGrey)"/>
<circle cx="284.96" cy="113.2" r="1.5" fill="url(#gGrey)"/>
<circle cx="286.79" cy="112.39" r="1.5" fill="url(#gGrey)"/>
<circle cx="288.6" cy="111.55" r="1.5" fill="url(#gGrey)"/>
<circle cx="290.41" cy="110.69" r="1.5" fill="url(#gGrey)"/>
<circle cx="292.2" cy="109.8" r="1.5" fill="url(#gGrey)"/>
<circle cx="293.96" cy="108.86" r="1.5" fill="url(#gGrey)"/>
<circle cx="295.71" cy="107.88" r="1.5" fill="url(#gGrey)"/>
<circle cx="297.45" cy="106.91" r="1.5" fill="url(#gGrey)"/>
<circle cx="299.23" cy="105.99" r="1.5" fill="url(#gGrey)"/>
<circle cx="301.05" cy="105.17" r="1.5" fill="url(#gGrey)"/>
<circle cx="302.93" cy="104.48" r="1.5" fill="url(#gGrey)"/>
<circle cx="304.86" cy="103.96" r="1.5" fill="url(#gGrey)"/>
<circle cx="306.84" cy="103.68" r="1.5" fill="url(#gGrey)"/>
<circle cx="308.84" cy="103.67" r="1.5" fill="url(#gGrey)"/>
<circle cx="230.78" cy="132.56" r="1.6" fill="url(#gOr)"/>
<circle cx="232.67" cy="129.51" r="1.6" fill="url(#gOr)"/>
<circle cx="235.15" cy="126.9" r="1.6" fill="url(#gOr)"/>
<circle cx="237.95" cy="124.64" r="1.6" fill="url(#gOr)"/>
<circle cx="240.86" cy="122.52" r="1.6" fill="url(#gOr)"/>
<circle cx="243.71" cy="120.32" r="1.6" fill="url(#gOr)"/>
<circle cx="246.55" cy="118.12" r="1.6" fill="url(#gOr)"/>
<circle cx="249.62" cy="116.24" r="1.6" fill="url(#gOr)"/>
<circle cx="253.04" cy="115.17" r="1.6" fill="url(#gOr)"/>
<circle cx="256.63" cy="115.01" r="1.6" fill="url(#gOr)"/>
<circle cx="260.19" cy="115.53" r="1.6" fill="url(#gOr)"/>
<circle cx="263.65" cy="116.54" r="1.6" fill="url(#gOr)"/>
<circle cx="266.88" cy="117.9" r="1.6" fill="url(#gOr)"/>
<circle cx="268.27" cy="119.04" r="1.6" fill="url(#gOr)"/>
<circle cx="269.36" cy="120.47" r="1.6" fill="url(#gOr)"/>
<circle cx="270.2" cy="122.06" r="1.6" fill="url(#gOr)"/>
<circle cx="270.95" cy="123.69" r="1.6" fill="url(#gOr)"/>
<circle cx="271.79" cy="125.29" r="1.6" fill="url(#gOr)"/>
<circle cx="272.85" cy="126.73" r="1.6" fill="url(#gOr)"/>
<circle cx="274.22" cy="127.89" r="1.6" fill="url(#gOr)"/>
<circle cx="275.91" cy="128.45" r="1.6" fill="url(#gOr)"/>
<circle cx="277.64" cy="128.02" r="1.6" fill="url(#gOr)"/>
<circle cx="279.17" cy="127.07" r="1.6" fill="url(#gOr)"/>
<circle cx="280.6" cy="125.98" r="1.6" fill="url(#gOr)"/>
<circle cx="282.05" cy="124.91" r="1.6" fill="url(#gOr)"/>
<circle cx="283.54" cy="123.9" r="1.6" fill="url(#gOr)"/>
<circle cx="285.05" cy="122.93" r="1.6" fill="url(#gOr)"/>
<circle cx="286.57" cy="121.96" r="1.6" fill="url(#gOr)"/>
<circle cx="288.08" cy="120.98" r="1.6" fill="url(#gOr)"/>
<circle cx="289.59" cy="120" r="1.6" fill="url(#gOr)"/>
<circle cx="291.11" cy="119.05" r="1.6" fill="url(#gOr)"/>
<circle cx="292.65" cy="118.12" r="1.6" fill="url(#gOr)"/>
<circle cx="294.19" cy="117.17" r="1.6" fill="url(#gOr)"/>
<circle cx="295.66" cy="116.14" r="1.6" fill="url(#gOr)"/>
<circle cx="297.03" cy="114.97" r="1.6" fill="url(#gOr)"/>
<circle cx="298.28" cy="113.68" r="1.6" fill="url(#gOr)"/>
<circle cx="299.52" cy="112.38" r="1.6" fill="url(#gOr)"/>
<circle cx="300.87" cy="111.19" r="1.6" fill="url(#gOr)"/>
<circle cx="302.34" cy="110.15" r="1.6" fill="url(#gOr)"/>
<circle cx="303.87" cy="109.2" r="1.6" fill="url(#gOr)"/>
<circle cx="305.41" cy="108.27" r="1.6" fill="url(#gOr)"/>
<circle cx="306.92" cy="107.29" r="1.6" fill="url(#gOr)"/>
<circle cx="308.35" cy="106.2" r="1.6" fill="url(#gOr)"/>
<circle cx="309.64" cy="104.95" r="1.6" fill="url(#gOr)"/>
<circle cx="230.78" cy="131.93" r="1.7" fill="url(#gGr)"/>
<circle cx="232.81" cy="127.46" r="1.7" fill="url(#gGr)"/>
<circle cx="235.4" cy="123.96" r="1.7" fill="url(#gGr)"/>
<circle cx="238.87" cy="121.41" r="1.7" fill="url(#gGr)"/>
<circle cx="241.47" cy="116.63" r="1.7" fill="url(#gGr)"/>
<circle cx="246.67" cy="113.76" r="1.7" fill="url(#gGr)"/>
<circle cx="252.73" cy="109.94" r="1.7" fill="url(#gGr)"/>
<circle cx="257.06" cy="109.3" r="1.7" fill="url(#gGr)"/>
<circle cx="263.41" cy="102.93" r="1.7" fill="url(#gGr)"/>
<circle cx="267.74" cy="98.78" r="1.7" fill="url(#gGr)"/>
<circle cx="275.54" cy="92.41" r="1.7" fill="url(#gGr)"/>
<circle cx="285.07" cy="87.31" r="1.7" fill="url(#gGr)"/>
<circle cx="294.89" cy="79.03" r="1.7" fill="url(#gGr)"/>
<circle cx="307.88" cy="71.38" r="1.7" fill="url(#gGr)"/>
<path d="M214.32 133.2 L214.5 132.98 L214.67 132.75 L214.84 132.53 L215.02 132.31 L215.2 132.09 L215.37 131.87 L215.55 131.65 L215.73 131.44 L215.92 131.22 L216.1 131.01 L216.28 130.8 L216.47 130.58 L216.65 130.37 L216.84 130.16 L217.03 129.96 L217.22 129.75 L217.41 129.54 L217.6 129.34 L217.79 129.13 L217.99 128.93 L218.18 128.73 L218.38 128.52 L218.57 128.32 L218.77 128.12 L218.97 127.93 L219.17 127.73 L219.37 127.53 L219.57 127.33 L219.77 127.14 L219.98 126.95 L220.18 126.75 L220.38 126.56 L220.59 126.37 L220.8 126.18 L221 125.99 L221.21 125.8 L221.42 125.61 L221.63 125.42 L221.84 125.24 L222.05 125.05 L222.26 124.87 L222.47 124.68 L222.69 124.5 L222.9 124.31 L223.11 124.13 L223.33 123.95 L223.54 123.77 L223.76 123.59 L223.98 123.41 L224.19 123.23 L224.41 123.05 L224.63 122.88 L224.85 122.7 L225.07 122.52 L225.29 122.35 L225.51 122.17 L225.73 122 L225.95 121.83 L226.17 121.65 L226.39 121.48 L226.62 121.31 L226.84 121.14 L227.06 120.97 L227.29 120.8 L227.51 120.63 L227.73 120.46 L227.96 120.29 L228.18 120.12 L228.41 119.95 L228.63 119.79 L228.86 119.62 L229.09 119.45 L229.31 119.29 L229.54 119.12 L229.77 118.96 L229.99 118.79 L230.22 118.63 L230.45 118.47 L230.68 118.3 L230.91 118.14 L231.14 117.98 L231.36 117.82 L231.59 117.65 L231.82 117.49 L232.05 117.33 L232.28 117.17 L232.52 117.01 L232.75 116.85 L232.98 116.69 L233.21 116.54 L233.44 116.38 L233.67 116.22 L233.91 116.06 L234.14 115.9 L234.37 115.75 L234.6 115.59 L234.84 115.43 L235.07 115.28 L235.31 115.12 L235.54 114.97 L235.78 114.81 L236.01 114.66 L236.25 114.5 L236.48 114.35 L236.72 114.19 L236.95 114.04 L237.19 113.89 L237.42 113.73 L237.66 113.58 L237.9 113.43 L238.13 113.28 L238.37 113.12 L238.61 112.97 L238.85 112.82 L239.08 112.67 L239.32 112.52 L239.56 112.37 L239.8 112.21 L240.04 112.06 L240.28 111.91 L240.52 111.76 L240.76 111.62 L241 111.47 L241.24 111.32 L241.48 111.17 L241.72 111.02 L241.96 110.88 L242.2 110.73 L242.44 110.58 L242.69 110.44 L242.93 110.29 L243.17 110.15 L243.41 110.01 L243.66 109.87 L243.9 109.72 L244.15 109.58 L244.39 109.44 L244.64 109.3 L244.88 109.17 L245.13 109.03 L245.37 108.89 L245.62 108.76 L245.87 108.62 L246.12 108.49 L246.36 108.36 L246.61 108.22 L246.86 108.09 L247.11 107.96 L247.36 107.84 L247.61 107.71 L247.86 107.58 L248.11 107.46 L248.37 107.34 L248.62 107.21 L248.87 107.09 L249.13 106.97 L249.38 106.86 L249.64 106.74 L249.89 106.63 L250.15 106.51 L250.4 106.4 L250.66 106.29 L250.92 106.18 L251.18 106.07 L251.43 105.97 L251.69 105.86 L251.95 105.76 L252.22 105.66 L252.48 105.56 L252.74 105.46 L253 105.36 L253.26 105.27 L253.53 105.17 L253.79 105.08 L254.06 104.99 L254.32 104.9 L254.59 104.81 L254.85 104.73 L255.12 104.64 L255.39 104.56 L255.66 104.47 L255.92 104.39 L256.19 104.31 L256.46 104.23 L256.73 104.15 L257 104.07 L257.27 103.99 L257.54 103.92 L257.81 103.84 L258.08 103.77 L258.35 103.69 L258.62 103.62 L258.9 103.55 L259.17 103.47 L259.44 103.4 L259.71 103.33 L259.99 103.26 L260.26 103.19 L260.53 103.12 L260.8 103.05 L261.08 102.98 L261.35 102.91 L261.62 102.84 L261.9 102.78 L262.17 102.71 L262.45 102.64 L262.72 102.57 L262.99 102.5 L263.27 102.44 L263.54 102.37 L263.82 102.3 L264.09 102.23 L264.37 102.17 L264.64 102.1 L264.91 102.03 L265.19 101.96 L265.46 101.89 L265.74 101.82 L266.01 101.75 L266.28 101.68 L266.56 101.61 L266.83 101.54 L267.1 101.48 L267.38 101.41 L267.65 101.34 L267.93 101.27 L268.2 101.2 L268.47 101.13 L268.75 101.06 L269.02 101 L269.29 100.93 L269.57 100.86 L269.84 100.8 L270.12 100.73 L270.39 100.67 L270.66 100.6 L270.94 100.54 L271.21 100.48 L271.49 100.41 L271.76 100.35 L272.04 100.29 L272.31 100.24 L272.59 100.18 L272.86 100.12 L273.14 100.07 L273.41 100.01 L273.69 99.96 L273.96 99.91 L274.24 99.86 L274.51 99.81 L274.79 99.76 L275.07 99.72 L275.34 99.68 L275.62 99.63 L275.9 99.59 L276.17 99.56 L276.45 99.52 L276.73 99.48 L277.01 99.45 L277.28 99.42 L277.56 99.39 L277.84 99.36 L278.12 99.34 L278.4 99.32 L278.68 99.3 L278.96 99.28 L279.24 99.26 L279.52 99.24 L279.8 99.23 L280.08 99.22 L280.36 99.21 L280.64 99.2 L280.92 99.2 L281.2 99.19 L281.48 99.19 L281.77 99.19 L282.05 99.19 L282.33 99.19 L282.61 99.19 L282.89 99.2 L283.17 99.21 L283.45 99.22 L283.74 99.23 L284.02 99.24 L284.3 99.25 L284.58 99.27 L284.86 99.28 L285.14 99.3 L285.43 99.32 L285.71 99.34 L285.99 99.36 L286.27 99.39 L286.55 99.41 L286.83 99.44 L287.12 99.47 L287.4 99.5 L287.68 99.53 L287.96 99.56 L288.24 99.59 L288.52 99.63 L288.8 99.66 L289.08 99.7 L289.36 99.73 L289.64 99.77 L289.92 99.81 L290.2 99.85 L290.48 99.9 L290.76 99.94 L291.04 99.98 L291.32 100.03 L291.6 100.08 L291.87 100.13 L292.15 100.18 L292.43 100.23 L292.71 100.28 L292.98 100.33 L293.26 100.39 L293.54 100.44 L293.81 100.5 L294.09 100.56 L294.36 100.62 L294.64 100.68 L294.91 100.75 L295.18 100.81 L295.46 100.88 L295.73 100.95 L296 101.02 L296.27 101.09 L296.55 101.16 L296.82 101.24 L297.09 101.31 L297.36 101.39 L297.63 101.47 L297.89 101.55 L298.16 101.64 L298.43 101.72 L298.7 101.81 L298.96 101.9 L299.23 101.99 L299.49 102.08 L299.76 102.17 L300.02 102.27 L300.28 102.36 L300.55 102.46 L300.81 102.56 L301.07 102.67 L301.33 102.77 L301.59 102.88 L301.85 102.99 L302.11 103.1 L302.37 103.21 L302.62 103.32 L302.88 103.43 L303.13 103.55 L303.39 103.67 L303.65 103.78 L303.9 103.9 L304.15 104.02 L304.41 104.15 L304.66 104.27 L304.91 104.39 L305.16 104.52 L305.42 104.65 L305.67 104.78 L305.92 104.9 L306.17 105.03 L306.42 105.16 L306.67 105.3 L306.91 105.43 L307.16 105.56 L307.41 105.7 L307.66 105.83 L307.9 105.97 L308.15 106.1 L308.4 106.24 L308.64 106.38 L308.89 106.52 L309.14 106.66 L309.38 106.79 L309.63 106.93 L309.87 107.07 L310.11 107.21 L310.36 107.36 L310.6 107.5 L310.84 107.64 L311.09 107.78 L311.33 107.92 L311.57 108.06 L311.82 108.2 L312.06 108.35 L312.3 108.49 L312.54 108.63 L312.78 108.77 L313.03 108.91 L313.27 109.05 L313.51 109.2 L313.75 109.34 L313.99 109.48 L314.23 109.62" fill="none" stroke="#111" stroke-width="1.2" stroke-linejoin="round"/>
<path d="M227.32 132.56 L227.38 132.27 L227.44 131.99 L227.51 131.71 L227.58 131.43 L227.65 131.15 L227.73 130.88 L227.81 130.61 L227.9 130.34 L227.99 130.07 L228.09 129.81 L228.19 129.55 L228.29 129.29 L228.39 129.04 L228.5 128.79 L228.62 128.54 L228.74 128.29 L228.86 128.05 L228.98 127.81 L229.11 127.57 L229.24 127.33 L229.38 127.1 L229.51 126.87 L229.66 126.64 L229.8 126.42 L229.95 126.2 L230.1 125.98 L230.25 125.76 L230.41 125.55 L230.57 125.34 L230.74 125.13 L230.9 124.92 L231.07 124.72 L231.25 124.52 L231.42 124.32 L231.6 124.13 L231.78 123.93 L231.96 123.74 L232.15 123.56 L232.34 123.37 L232.53 123.19 L232.73 123.01 L232.92 122.83 L233.12 122.66 L233.32 122.49 L233.53 122.32 L233.74 122.15 L233.94 121.99 L234.16 121.83 L234.37 121.67 L234.58 121.51 L234.8 121.36 L235.02 121.21 L235.24 121.06 L235.47 120.92 L235.69 120.77 L235.92 120.63 L236.15 120.5 L236.38 120.36 L236.62 120.23 L236.85 120.1 L237.09 119.97 L237.33 119.85 L237.57 119.72 L237.81 119.6 L238.05 119.49 L238.3 119.37 L238.54 119.26 L238.79 119.15 L239.04 119.04 L239.29 118.94 L239.54 118.84 L239.8 118.74 L240.05 118.64 L240.31 118.54 L240.56 118.45 L240.82 118.36 L241.08 118.28 L241.34 118.19 L241.6 118.11 L241.86 118.03 L242.12 117.96 L242.38 117.89 L242.65 117.82 L242.91 117.75 L243.17 117.69 L243.44 117.63 L243.7 117.58 L243.97 117.53 L244.23 117.48 L244.5 117.44 L244.76 117.4 L245.03 117.37 L245.29 117.34 L245.56 117.31 L245.82 117.29 L246.09 117.27 L246.35 117.26 L246.62 117.25 L246.88 117.25 L247.14 117.25 L247.41 117.26 L247.67 117.27 L247.93 117.29 L248.19 117.32 L248.45 117.35 L248.71 117.38 L248.96 117.42 L249.22 117.47 L249.48 117.52 L249.73 117.57 L249.98 117.64 L250.24 117.71 L250.49 117.78 L250.74 117.86 L250.98 117.95 L251.23 118.04 L251.48 118.14 L251.72 118.25 L251.97 118.36 L252.21 118.48 L252.45 118.61 L252.69 118.74 L252.92 118.88 L253.16 119.02 L253.39 119.18 L253.62 119.34 L253.85 119.5 L254.08 119.68 L254.31 119.86 L254.53 120.05 L254.75 120.24 L254.97 120.44 L255.19 120.65 L255.41 120.87 L255.62 121.1 L255.83 121.33 L256.04 121.57 L256.25 121.82 L256.46 122.07 L256.66 122.33 L256.86 122.59 L257.06 122.85 L257.26 123.12 L257.45 123.4 L257.65 123.67 L257.84 123.95 L258.03 124.22 L258.22 124.5 L258.4 124.78 L258.59 125.06 L258.77 125.33 L258.95 125.6 L259.13 125.87 L259.31 126.14 L259.49 126.41 L259.66 126.66 L259.84 126.92 L260.01 127.17 L260.18 127.41 L260.35 127.65 L260.52 127.87 L260.69 128.09 L260.85 128.3 L261.02 128.51 L261.18 128.7 L261.34 128.88 L261.5 129.05 L261.66 129.21 L261.82 129.36 L261.98 129.49 L262.14 129.61 L262.29 129.72 L262.45 129.81 L262.6 129.89 L262.75 129.95 L262.91 129.99 L263.06 130.02 L263.21 130.03 L263.36 130.02 L263.51 129.99 L263.66 129.95 L263.81 129.88 L263.96 129.8 L264.1 129.7 L264.25 129.59 L264.4 129.46 L264.54 129.32 L264.69 129.16 L264.84 128.99 L264.99 128.81 L265.13 128.62 L265.28 128.41 L265.43 128.2 L265.58 127.97 L265.73 127.74 L265.88 127.5 L266.03 127.25 L266.18 127 L266.33 126.74 L266.49 126.47 L266.64 126.2 L266.8 125.93 L266.95 125.65 L267.11 125.37 L267.27 125.09 L267.43 124.81 L267.6 124.53 L267.76 124.24 L267.93 123.96 L268.1 123.69 L268.27 123.41 L268.44 123.14 L268.61 122.87 L268.79 122.61 L268.97 122.35 L269.15 122.1 L269.33 121.85 L269.52 121.61 L269.71 121.38 L269.9 121.16 L270.09 120.94 L270.29 120.73 L270.49 120.52 L270.69 120.32 L270.89 120.12 L271.09 119.93 L271.3 119.75 L271.51 119.57 L271.72 119.4 L271.93 119.23 L272.14 119.06 L272.36 118.9 L272.57 118.75 L272.79 118.6 L273.01 118.45 L273.23 118.31 L273.46 118.17 L273.68 118.03 L273.91 117.9 L274.13 117.77 L274.36 117.64 L274.59 117.52 L274.82 117.39 L275.05 117.27 L275.29 117.16 L275.52 117.04 L275.76 116.93 L275.99 116.82 L276.23 116.71 L276.46 116.6 L276.7 116.49 L276.94 116.39 L277.18 116.28 L277.42 116.18 L277.66 116.07 L277.9 115.97 L278.14 115.87 L278.39 115.76 L278.63 115.66 L278.87 115.56 L279.11 115.46 L279.36 115.35 L279.6 115.25 L279.85 115.15 L280.09 115.05 L280.34 114.95 L280.58 114.84 L280.83 114.74 L281.07 114.64 L281.32 114.54 L281.56 114.44 L281.81 114.34 L282.06 114.24 L282.3 114.14 L282.55 114.03 L282.8 113.93 L283.05 113.83 L283.29 113.73 L283.54 113.63 L283.79 113.53 L284.04 113.43 L284.29 113.33 L284.54 113.23 L284.78 113.13 L285.03 113.02 L285.28 112.92 L285.53 112.82 L285.78 112.72 L286.03 112.62 L286.28 112.52 L286.52 112.41 L286.77 112.31 L287.02 112.21 L287.27 112.11 L287.52 112 L287.77 111.9 L288.01 111.8 L288.26 111.69 L288.51 111.59 L288.76 111.48 L289.01 111.38 L289.25 111.27 L289.5 111.17 L289.75 111.06 L289.99 110.96 L290.24 110.85 L290.49 110.75 L290.73 110.64 L290.98 110.53 L291.23 110.43 L291.47 110.32 L291.72 110.21 L291.96 110.11 L292.21 110 L292.46 109.89 L292.7 109.79 L292.95 109.68 L293.19 109.57 L293.44 109.47 L293.68 109.36 L293.93 109.25 L294.18 109.15 L294.42 109.04 L294.67 108.94 L294.91 108.83 L295.16 108.73 L295.4 108.62 L295.65 108.52 L295.9 108.41 L296.14 108.31 L296.39 108.21 L296.63 108.1 L296.88 108 L297.13 107.9 L297.37 107.8 L297.62 107.7 L297.87 107.6 L298.11 107.5 L298.36 107.4 L298.61 107.31 L298.86 107.21 L299.11 107.11 L299.35 107.02 L299.6 106.93 L299.85 106.83 L300.1 106.74 L300.35 106.65 L300.6 106.56 L300.85 106.47 L301.1 106.38 L301.35 106.29 L301.6 106.21 L301.85 106.12 L302.1 106.04 L302.35 105.95 L302.61 105.87 L302.86 105.79 L303.11 105.71 L303.36 105.63 L303.62 105.56 L303.87 105.48 L304.13 105.41 L304.38 105.33 L304.64 105.26 L304.89 105.19 L305.15 105.13 L305.41 105.06 L305.66 104.99 L305.92 104.93 L306.18 104.87 L306.44 104.81 L306.7 104.75 L306.96 104.69 L307.22 104.63 L307.48 104.58 L307.74 104.53 L308 104.48 L308.27 104.43 L308.53 104.38 L308.79 104.34 L309.06 104.3 L309.32 104.25 L309.59 104.22 L309.86 104.18 L310.12 104.14 L310.39 104.11 L310.66 104.08 L310.93 104.05 L311.2 104.03 L311.47 104 L311.74 103.98 L312.02 103.96 L312.29 103.94 L312.56 103.93 L312.84 103.91 L313.11 103.9 L313.39 103.89 L313.67 103.89 L313.94 103.88" fill="none" stroke="#111" stroke-width="1.2" stroke-linejoin="round"/>
<path d="M231.65 133.2 L231.77 132.97 L231.88 132.74 L232 132.51 L232.12 132.29 L232.25 132.06 L232.37 131.83 L232.49 131.61 L232.62 131.38 L232.75 131.16 L232.88 130.93 L233.01 130.71 L233.14 130.49 L233.27 130.26 L233.41 130.04 L233.54 129.82 L233.68 129.6 L233.82 129.38 L233.96 129.17 L234.1 128.95 L234.24 128.73 L234.38 128.52 L234.53 128.3 L234.68 128.09 L234.82 127.87 L234.97 127.66 L235.12 127.45 L235.27 127.24 L235.43 127.03 L235.58 126.82 L235.74 126.62 L235.9 126.41 L236.06 126.21 L236.22 126 L236.38 125.8 L236.54 125.6 L236.7 125.4 L236.87 125.2 L237.04 125 L237.21 124.8 L237.37 124.61 L237.55 124.41 L237.72 124.22 L237.89 124.03 L238.07 123.84 L238.24 123.65 L238.42 123.46 L238.6 123.28 L238.78 123.09 L238.96 122.91 L239.15 122.72 L239.33 122.54 L239.52 122.36 L239.71 122.19 L239.9 122.01 L240.09 121.84 L240.28 121.66 L240.47 121.49 L240.66 121.32 L240.86 121.15 L241.06 120.99 L241.26 120.82 L241.46 120.66 L241.66 120.5 L241.86 120.34 L242.06 120.18 L242.27 120.02 L242.48 119.87 L242.68 119.71 L242.89 119.56 L243.11 119.41 L243.32 119.27 L243.53 119.12 L243.75 118.98 L243.96 118.83 L244.18 118.69 L244.4 118.56 L244.62 118.42 L244.84 118.29 L245.07 118.15 L245.29 118.02 L245.52 117.9 L245.74 117.77 L245.97 117.65 L246.2 117.52 L246.44 117.4 L246.67 117.29 L246.9 117.17 L247.14 117.06 L247.38 116.95 L247.61 116.84 L247.85 116.74 L248.09 116.64 L248.33 116.54 L248.58 116.44 L248.82 116.35 L249.07 116.26 L249.31 116.18 L249.56 116.09 L249.81 116.02 L250.05 115.94 L250.3 115.87 L250.55 115.8 L250.8 115.74 L251.06 115.68 L251.31 115.63 L251.56 115.58 L251.82 115.53 L252.07 115.49 L252.33 115.45 L252.58 115.42 L252.84 115.39 L253.1 115.37 L253.35 115.35 L253.61 115.34 L253.87 115.33 L254.13 115.33 L254.39 115.33 L254.65 115.34 L254.91 115.35 L255.17 115.37 L255.43 115.39 L255.69 115.42 L255.95 115.45 L256.2 115.48 L256.46 115.52 L256.72 115.56 L256.98 115.61 L257.24 115.66 L257.49 115.71 L257.75 115.77 L258 115.83 L258.26 115.9 L258.51 115.96 L258.76 116.04 L259.01 116.11 L259.26 116.19 L259.51 116.27 L259.76 116.36 L260.01 116.44 L260.25 116.53 L260.49 116.63 L260.73 116.72 L260.97 116.82 L261.21 116.92 L261.45 117.03 L261.68 117.13 L261.91 117.24 L262.15 117.35 L262.37 117.46 L262.6 117.58 L262.82 117.7 L263.05 117.82 L263.27 117.94 L263.49 118.06 L263.7 118.19 L263.92 118.32 L264.13 118.45 L264.34 118.59 L264.55 118.72 L264.76 118.86 L264.97 119.01 L265.17 119.15 L265.38 119.3 L265.58 119.45 L265.78 119.61 L265.98 119.77 L266.18 119.93 L266.37 120.1 L266.57 120.26 L266.76 120.44 L266.96 120.61 L267.15 120.79 L267.34 120.97 L267.53 121.16 L267.71 121.35 L267.9 121.54 L268.09 121.74 L268.27 121.94 L268.46 122.14 L268.64 122.35 L268.82 122.56 L269.01 122.78 L269.19 123 L269.37 123.23 L269.55 123.45 L269.72 123.69 L269.9 123.92 L270.08 124.16 L270.26 124.39 L270.43 124.63 L270.61 124.87 L270.79 125.11 L270.96 125.34 L271.14 125.58 L271.32 125.81 L271.49 126.05 L271.67 126.27 L271.85 126.5 L272.03 126.72 L272.2 126.93 L272.38 127.15 L272.56 127.35 L272.74 127.55 L272.92 127.74 L273.1 127.92 L273.28 128.1 L273.47 128.27 L273.65 128.42 L273.83 128.57 L274.02 128.71 L274.21 128.84 L274.39 128.95 L274.58 129.06 L274.78 129.15 L274.97 129.23 L275.16 129.29 L275.36 129.34 L275.56 129.38 L275.75 129.4 L275.96 129.4 L276.16 129.4 L276.36 129.37 L276.57 129.34 L276.77 129.29 L276.98 129.23 L277.19 129.16 L277.4 129.08 L277.62 128.98 L277.83 128.88 L278.05 128.77 L278.26 128.65 L278.48 128.51 L278.7 128.37 L278.92 128.23 L279.13 128.07 L279.36 127.91 L279.58 127.75 L279.8 127.58 L280.02 127.4 L280.24 127.22 L280.47 127.03 L280.69 126.84 L280.92 126.65 L281.14 126.45 L281.37 126.26 L281.59 126.06 L281.82 125.86 L282.04 125.66 L282.27 125.46 L282.5 125.26 L282.72 125.06 L282.95 124.86 L283.17 124.66 L283.4 124.47 L283.62 124.28 L283.85 124.09 L284.07 123.91 L284.3 123.73 L284.52 123.55 L284.74 123.38 L284.97 123.21 L285.19 123.04 L285.41 122.87 L285.63 122.71 L285.86 122.55 L286.08 122.4 L286.3 122.24 L286.52 122.09 L286.74 121.94 L286.96 121.79 L287.18 121.65 L287.4 121.5 L287.62 121.36 L287.84 121.22 L288.06 121.09 L288.28 120.95 L288.49 120.82 L288.71 120.68 L288.93 120.55 L289.15 120.42 L289.37 120.29 L289.58 120.17 L289.8 120.04 L290.02 119.91 L290.23 119.79 L290.45 119.67 L290.67 119.54 L290.88 119.42 L291.1 119.3 L291.31 119.18 L291.53 119.06 L291.74 118.93 L291.96 118.81 L292.17 118.69 L292.39 118.57 L292.6 118.45 L292.81 118.33 L293.03 118.21 L293.24 118.09 L293.46 117.96 L293.67 117.84 L293.88 117.72 L294.09 117.59 L294.31 117.47 L294.52 117.34 L294.73 117.22 L294.94 117.09 L295.16 116.96 L295.37 116.83 L295.58 116.7 L295.79 116.56 L296 116.43 L296.21 116.29 L296.43 116.16 L296.64 116.02 L296.85 115.88 L297.06 115.74 L297.27 115.6 L297.48 115.46 L297.69 115.32 L297.9 115.17 L298.11 115.03 L298.32 114.88 L298.53 114.74 L298.74 114.59 L298.95 114.44 L299.16 114.29 L299.37 114.14 L299.58 113.99 L299.78 113.84 L299.99 113.68 L300.2 113.53 L300.41 113.38 L300.62 113.22 L300.83 113.07 L301.03 112.91 L301.24 112.76 L301.45 112.6 L301.66 112.44 L301.87 112.28 L302.07 112.12 L302.28 111.97 L302.49 111.81 L302.7 111.65 L302.9 111.49 L303.11 111.33 L303.32 111.16 L303.52 111 L303.73 110.84 L303.94 110.68 L304.14 110.52 L304.35 110.36 L304.55 110.19 L304.76 110.03 L304.97 109.87 L305.17 109.7 L305.38 109.54 L305.58 109.38 L305.79 109.22 L306 109.05 L306.2 108.89 L306.41 108.73 L306.61 108.56 L306.82 108.4 L307.02 108.24 L307.23 108.07 L307.43 107.91 L307.64 107.75 L307.84 107.59 L308.04 107.42 L308.25 107.26 L308.45 107.1 L308.66 106.94 L308.86 106.78 L309.07 106.62 L309.27 106.46 L309.47 106.3 L309.68 106.14 L309.88 105.98 L310.09 105.82 L310.29 105.66 L310.49 105.5 L310.7 105.35 L310.9 105.19 L311.1 105.03 L311.31 104.88 L311.51 104.72 L311.71 104.57 L311.92 104.42 L312.12 104.26 L312.32 104.11 L312.53 103.96 L312.73 103.81 L312.93 103.66 L313.13 103.51 L313.34 103.36 L313.54 103.22 L313.74 103.07 L313.94 102.93" fill="none" stroke="#111" stroke-width="1.2" stroke-linejoin="round"/>
<path d="M229.92 133.2 L230.04 132.97 L230.16 132.75 L230.28 132.51 L230.4 132.28 L230.52 132.05 L230.64 131.81 L230.76 131.57 L230.88 131.33 L231 131.08 L231.12 130.84 L231.24 130.59 L231.36 130.34 L231.48 130.1 L231.6 129.84 L231.73 129.59 L231.85 129.34 L231.97 129.09 L232.1 128.83 L232.22 128.58 L232.35 128.32 L232.47 128.07 L232.6 127.81 L232.73 127.56 L232.85 127.3 L232.98 127.04 L233.11 126.79 L233.25 126.53 L233.38 126.27 L233.51 126.02 L233.65 125.76 L233.78 125.51 L233.92 125.26 L234.06 125 L234.2 124.75 L234.34 124.5 L234.48 124.25 L234.63 124.01 L234.78 123.76 L234.92 123.51 L235.07 123.27 L235.22 123.03 L235.38 122.79 L235.53 122.55 L235.69 122.31 L235.85 122.08 L236.01 121.85 L236.17 121.62 L236.34 121.39 L236.51 121.17 L236.68 120.95 L236.85 120.73 L237.02 120.51 L237.2 120.3 L237.38 120.09 L237.56 119.89 L237.74 119.68 L237.93 119.49 L238.12 119.29 L238.31 119.1 L238.5 118.91 L238.7 118.73 L238.9 118.55 L239.1 118.37 L239.31 118.2 L239.52 118.03 L239.73 117.87 L239.95 117.71 L240.16 117.55 L240.39 117.41 L240.61 117.26 L240.84 117.12 L241.07 116.99 L241.3 116.86 L241.54 116.73 L241.78 116.61 L242.02 116.49 L242.27 116.38 L242.51 116.27 L242.76 116.16 L243.01 116.06 L243.27 115.96 L243.52 115.86 L243.78 115.77 L244.04 115.68 L244.3 115.58 L244.56 115.5 L244.83 115.41 L245.09 115.33 L245.36 115.24 L245.62 115.16 L245.89 115.08 L246.16 115 L246.43 114.92 L246.69 114.84 L246.96 114.76 L247.23 114.68 L247.5 114.6 L247.77 114.52 L248.04 114.44 L248.31 114.36 L248.58 114.28 L248.85 114.19 L249.11 114.11 L249.38 114.02 L249.65 113.93 L249.91 113.84 L250.17 113.75 L250.44 113.66 L250.7 113.56 L250.95 113.46 L251.21 113.36 L251.47 113.25 L251.72 113.14 L251.97 113.03 L252.23 112.91 L252.47 112.8 L252.72 112.68 L252.97 112.55 L253.21 112.43 L253.46 112.3 L253.7 112.17 L253.94 112.04 L254.18 111.9 L254.42 111.76 L254.65 111.62 L254.89 111.48 L255.12 111.34 L255.35 111.19 L255.59 111.04 L255.82 110.89 L256.04 110.74 L256.27 110.58 L256.5 110.43 L256.72 110.27 L256.95 110.11 L257.17 109.95 L257.39 109.78 L257.61 109.62 L257.84 109.45 L258.05 109.28 L258.27 109.11 L258.49 108.94 L258.71 108.76 L258.92 108.59 L259.14 108.41 L259.35 108.24 L259.56 108.06 L259.78 107.88 L259.99 107.7 L260.2 107.52 L260.41 107.33 L260.62 107.15 L260.83 106.96 L261.04 106.78 L261.25 106.59 L261.45 106.4 L261.66 106.22 L261.87 106.03 L262.07 105.84 L262.28 105.65 L262.48 105.46 L262.69 105.27 L262.89 105.07 L263.09 104.88 L263.3 104.69 L263.5 104.5 L263.7 104.31 L263.91 104.11 L264.11 103.92 L264.31 103.73 L264.51 103.53 L264.71 103.34 L264.92 103.15 L265.12 102.95 L265.32 102.76 L265.52 102.57 L265.72 102.38 L265.92 102.18 L266.12 101.99 L266.32 101.8 L266.52 101.61 L266.73 101.42 L266.93 101.22 L267.13 101.03 L267.33 100.84 L267.53 100.65 L267.73 100.46 L267.93 100.27 L268.13 100.08 L268.33 99.89 L268.53 99.7 L268.73 99.51 L268.93 99.32 L269.13 99.13 L269.33 98.94 L269.53 98.75 L269.73 98.56 L269.93 98.37 L270.13 98.18 L270.33 97.99 L270.53 97.8 L270.73 97.61 L270.93 97.42 L271.13 97.23 L271.33 97.04 L271.53 96.85 L271.73 96.67 L271.93 96.48 L272.13 96.29 L272.33 96.1 L272.53 95.91 L272.73 95.72 L272.93 95.54 L273.13 95.35 L273.33 95.16 L273.53 94.97 L273.73 94.78 L273.93 94.6 L274.13 94.41 L274.33 94.22 L274.53 94.03 L274.73 93.84 L274.93 93.66 L275.13 93.47 L275.33 93.28 L275.53 93.09 L275.74 92.91 L275.94 92.72 L276.14 92.53 L276.34 92.34 L276.54 92.16 L276.74 91.97 L276.94 91.78 L277.14 91.6 L277.34 91.41 L277.54 91.22 L277.74 91.03 L277.94 90.85 L278.14 90.66 L278.35 90.47 L278.55 90.29 L278.75 90.1 L278.95 89.91 L279.15 89.72 L279.35 89.54 L279.56 89.35 L279.76 89.16 L279.96 88.98 L280.16 88.79 L280.36 88.6 L280.57 88.42 L280.77 88.23 L280.97 88.04 L281.17 87.86 L281.38 87.67 L281.58 87.48 L281.78 87.3 L281.99 87.11 L282.19 86.92 L282.39 86.74 L282.6 86.55 L282.8 86.37 L283 86.18 L283.21 85.99 L283.41 85.81 L283.62 85.62 L283.82 85.44 L284.03 85.25 L284.23 85.07 L284.44 84.88 L284.64 84.7 L284.85 84.52 L285.05 84.33 L285.26 84.15 L285.47 83.97 L285.67 83.78 L285.88 83.6 L286.09 83.42 L286.29 83.23 L286.5 83.05 L286.71 82.87 L286.92 82.69 L287.12 82.51 L287.33 82.33 L287.54 82.14 L287.75 81.96 L287.96 81.78 L288.17 81.6 L288.38 81.42 L288.59 81.24 L288.8 81.07 L289.01 80.89 L289.22 80.71 L289.43 80.53 L289.64 80.35 L289.85 80.18 L290.06 80 L290.28 79.82 L290.49 79.65 L290.7 79.47 L290.92 79.3 L291.13 79.12 L291.34 78.95 L291.56 78.77 L291.77 78.6 L291.99 78.43 L292.2 78.26 L292.42 78.08 L292.63 77.91 L292.85 77.74 L293.06 77.57 L293.28 77.4 L293.5 77.23 L293.72 77.06 L293.93 76.89 L294.15 76.73 L294.37 76.56 L294.59 76.39 L294.81 76.22 L295.03 76.06 L295.25 75.89 L295.47 75.73 L295.69 75.56 L295.91 75.4 L296.13 75.24 L296.36 75.08 L296.58 74.91 L296.8 74.75 L297.02 74.59 L297.25 74.43 L297.47 74.27 L297.7 74.11 L297.92 73.96 L298.15 73.8 L298.37 73.64 L298.6 73.49 L298.83 73.33 L299.05 73.18 L299.28 73.02 L299.51 72.87 L299.74 72.72 L299.97 72.56 L300.2 72.41 L300.43 72.26 L300.66 72.11 L300.89 71.96 L301.12 71.82 L301.35 71.67 L301.59 71.52 L301.82 71.38 L302.05 71.23 L302.29 71.09 L302.52 70.94 L302.76 70.8 L302.99 70.66 L303.23 70.52 L303.47 70.38 L303.7 70.24 L303.94 70.1 L304.18 69.96 L304.42 69.82 L304.66 69.69 L304.9 69.55 L305.14 69.42 L305.38 69.29 L305.62 69.15 L305.86 69.02 L306.11 68.89 L306.35 68.76 L306.59 68.63 L306.84 68.5 L307.08 68.38 L307.33 68.25 L307.58 68.13 L307.82 68 L308.07 67.88 L308.32 67.76 L308.57 67.63 L308.82 67.51 L309.07 67.39 L309.32 67.28 L309.57 67.16 L309.82 67.04 L310.08 66.93 L310.33 66.81 L310.58 66.7 L310.84 66.59 L311.09 66.48 L311.35 66.37 L311.6 66.26 L311.86 66.15 L312.12 66.04 L312.38 65.94 L312.64 65.83 L312.9 65.73 L313.16 65.62 L313.42 65.52 L313.68 65.42 L313.94 65.32" fill="none" stroke="#111" stroke-width="1.2" stroke-linejoin="round"/>
</g>
<circle cx="209.6" cy="45.7" r="1.6" fill="url(#gGrey)"/>
<circle cx="209.6" cy="52.8" r="1.7" fill="url(#gOr)"/>
<path d="M208.18 57.92L211.78 59.9L208.18 61.88Z" fill="#0000ff"/>
<circle cx="209.6" cy="66.9" r="1.7" fill="url(#gGr)"/>
<path d="M203 73.9H215.8" stroke="#222" stroke-width="1.1"/>
<text x="217.5" y="47.7" font-size="5.6" font-weight="bold" font-family='"Liberation Sans", sans-serif' text-anchor="start" fill="#333" color="#333" stroke-width="0.11">5GDC</text>
<text x="217.5" y="54.8" font-size="5.6" font-weight="bold" font-family='"Liberation Sans", sans-serif' text-anchor="start" fill="#333" color="#333" stroke-width="0.11">10GDC</text>
<text x="217.5" y="61.9" font-size="5.6" font-weight="bold" font-family='"Liberation Sans", sans-serif' text-anchor="start" fill="#333" color="#333" stroke-width="0.11">15GDC</text>
<text x="217.5" y="68.9" font-size="5.6" font-weight="bold" font-family='"Liberation Sans", sans-serif' text-anchor="start" fill="#333" color="#333" stroke-width="0.11">20GDC</text>
<text x="217.5" y="75.9" font-size="5.6" font-weight="bold" font-family='"Liberation Sans", sans-serif' text-anchor="start" fill="#333" color="#333" stroke-width="0.11">Fitted data</text>
<text x="252" y="150.8" font-size="7.9" font-weight="bold" font-family='"Liberation Sans", sans-serif' text-anchor="middle" fill="#222" color="#222" stroke-width="0.16">Z'<tspan font-family='"Liberation Serif", serif' font-weight='normal'> (&#937;)</tspan></text>
<text x="183.8" y="83.5" font-size="8.8" font-weight="bold" font-family='"Liberation Sans", sans-serif' text-anchor="middle" fill="#222" color="#222" stroke-width="0.18" transform="rotate(-90 183.8 83.5)">-Z''<tspan font-family='"Liberation Serif", serif' font-weight='normal'> (&#937;)</tspan></text>
<text x="64.2" y="34.9" font-size="18.4" font-weight="normal" font-family='"Liberation Sans", sans-serif' text-anchor="start" fill="#111" color="#111" stroke-width="0.75">(a)</text>
<text x="283.2" y="23.8" font-size="11" font-weight="bold" font-family='"Liberation Sans", sans-serif' text-anchor="start" fill="#111" color="#111" stroke-width="0.22">600&#176;C</text>
<circle cx="66.7" cy="48.4" r="3.7" fill="url(#gGrey)"/>
<circle cx="66.7" cy="59.9" r="3.7" fill="url(#gOr)"/>
<path d="M64.02 66.68L72.42 71.3L64.02 75.92Z" fill="#0000ff"/>
<circle cx="66.7" cy="82.6" r="3.7" fill="url(#gGr)"/>
<path d="M56.2 94H77.2" stroke="#111" stroke-width="2"/>
<text x="79.5" y="51.6" font-size="8.7" font-weight="bold" font-family='"Liberation Sans", sans-serif' text-anchor="start" fill="#111" color="#111" stroke-width="0.17">5GDC</text>
<text x="79.5" y="63.1" font-size="8.7" font-weight="bold" font-family='"Liberation Sans", sans-serif' text-anchor="start" fill="#111" color="#111" stroke-width="0.17">10GDC</text>
<text x="79.5" y="74.5" font-size="8.7" font-weight="bold" font-family='"Liberation Sans", sans-serif' text-anchor="start" fill="#111" color="#111" stroke-width="0.17">15GDC</text>
<text x="79.5" y="85.8" font-size="8.7" font-weight="bold" font-family='"Liberation Sans", sans-serif' text-anchor="start" fill="#111" color="#111" stroke-width="0.17">20GDC</text>
<text x="79.5" y="97.2" font-size="8.7" font-weight="bold" font-family='"Liberation Sans", sans-serif' text-anchor="start" fill="#111" color="#111" stroke-width="0.17">Fitted data</text>
<text x="166" y="267.8" font-size="12.8" font-weight="bold" font-family='"Liberation Sans", sans-serif' text-anchor="start" fill="#111" color="#111" stroke-width="0.26">Z'<tspan font-family='"Liberation Serif", serif' font-weight='normal' font-size='13.8' dx='1.5'> (&#937;)</tspan></text>
<text x="20.2" y="119.3" font-size="12.8" font-weight="bold" font-family='"Liberation Sans", sans-serif' text-anchor="middle" fill="#111" color="#111" stroke-width="0.26" transform="rotate(-90 20.2 119.3)">-Z''<tspan font-family='"Liberation Serif", serif' font-weight='normal' font-size='13.8' dx='1.5'> (&#937;)</tspan></text>
<rect x="399.8" y="9.4" width="275.1" height="226.4" fill="none" stroke="#111" stroke-width="2.1"/>
<path d="M399.8 235.8V239.8M434.19 235.8V239.8M468.57 235.8V239.8M502.96 235.8V239.8M537.35 235.8V239.8M571.74 235.8V239.8M606.12 235.8V239.8M640.51 235.8V239.8M674.9 235.8V239.8M399.8 235.8H395.8M399.8 207.5H395.8M399.8 179.2H395.8M399.8 150.9H395.8M399.8 122.6H395.8M399.8 94.3H395.8M399.8 66H395.8M399.8 37.7H395.8M399.8 9.4H395.8" stroke="#111" stroke-width="2.1" fill="none"/>
<text x="399.8" y="253.4" font-size="11.2" font-weight="bold" font-family='"Liberation Sans", sans-serif' text-anchor="middle" fill="#111" color="#111" stroke-width="0.22">0</text>
<text x="434.19" y="253.4" font-size="11.2" font-weight="bold" font-family='"Liberation Sans", sans-serif' text-anchor="middle" fill="#111" color="#111" stroke-width="0.22">10</text>
<text x="468.57" y="253.4" font-size="11.2" font-weight="bold" font-family='"Liberation Sans", sans-serif' text-anchor="middle" fill="#111" color="#111" stroke-width="0.22">20</text>
<text x="502.96" y="253.4" font-size="11.2" font-weight="bold" font-family='"Liberation Sans", sans-serif' text-anchor="middle" fill="#111" color="#111" stroke-width="0.22">30</text>
<text x="537.35" y="253.4" font-size="11.2" font-weight="bold" font-family='"Liberation Sans", sans-serif' text-anchor="middle" fill="#111" color="#111" stroke-width="0.22">40</text>
<text x="571.74" y="253.4" font-size="11.2" font-weight="bold" font-family='"Liberation Sans", sans-serif' text-anchor="middle" fill="#111" color="#111" stroke-width="0.22">50</text>
<text x="606.12" y="253.4" font-size="11.2" font-weight="bold" font-family='"Liberation Sans", sans-serif' text-anchor="middle" fill="#111" color="#111" stroke-width="0.22">60</text>
<text x="640.51" y="253.4" font-size="11.2" font-weight="bold" font-family='"Liberation Sans", sans-serif' text-anchor="middle" fill="#111" color="#111" stroke-width="0.22">70</text>
<text x="674.9" y="253.4" font-size="11.2" font-weight="bold" font-family='"Liberation Sans", sans-serif' text-anchor="middle" fill="#111" color="#111" stroke-width="0.22">80</text>
<text x="391.2" y="239.83" font-size="11.2" font-weight="bold" font-family='"Liberation Sans", sans-serif' text-anchor="end" fill="#111" color="#111" stroke-width="0.22">0</text>
<text x="391.2" y="211.53" font-size="11.2" font-weight="bold" font-family='"Liberation Sans", sans-serif' text-anchor="end" fill="#111" color="#111" stroke-width="0.22">10</text>
<text x="391.2" y="183.23" font-size="11.2" font-weight="bold" font-family='"Liberation Sans", sans-serif' text-anchor="end" fill="#111" color="#111" stroke-width="0.22">20</text>
<text x="391.2" y="154.93" font-size="11.2" font-weight="bold" font-family='"Liberation Sans", sans-serif' text-anchor="end" fill="#111" color="#111" stroke-width="0.22">30</text>
<text x="391.2" y="126.63" font-size="11.2" font-weight="bold" font-family='"Liberation Sans", sans-serif' text-anchor="end" fill="#111" color="#111" stroke-width="0.22">40</text>
<text x="391.2" y="98.33" font-size="11.2" font-weight="bold" font-family='"Liberation Sans", sans-serif' text-anchor="end" fill="#111" color="#111" stroke-width="0.22">50</text>
<text x="391.2" y="70.03" font-size="11.2" font-weight="bold" font-family='"Liberation Sans", sans-serif' text-anchor="end" fill="#111" color="#111" stroke-width="0.22">60</text>
<text x="391.2" y="41.73" font-size="11.2" font-weight="bold" font-family='"Liberation Sans", sans-serif' text-anchor="end" fill="#111" color="#111" stroke-width="0.22">70</text>
<text x="391.2" y="13.43" font-size="11.2" font-weight="bold" font-family='"Liberation Sans", sans-serif' text-anchor="end" fill="#111" color="#111" stroke-width="0.22">80</text>
<rect x="443.8" y="197" width="62.8" height="44.2" fill="none" stroke="#111" stroke-width="1.2"/>
<g clip-path="url(#cB)">
<path d="M453.57 231.6L460.17 235.23L453.57 238.86Z" fill="#0000ff"/>
<path d="M455.03 229.48L461.63 233.11L455.03 236.74Z" fill="#0000ff"/>
<path d="M457.14 227.98L463.74 231.61L457.14 235.24Z" fill="#0000ff"/>
<path d="M459.4 226.69L466 230.32L459.4 233.95Z" fill="#0000ff"/>
<path d="M461.65 225.38L468.25 229.01L461.65 232.64Z" fill="#0000ff"/>
<path d="M463.95 224.17L470.55 227.8L463.95 231.43Z" fill="#0000ff"/>
<path d="M466.32 223.1L472.92 226.73L466.32 230.36Z" fill="#0000ff"/>
<path d="M468.74 222.16L475.34 225.79L468.74 229.42Z" fill="#0000ff"/>
<path d="M471.19 221.29L477.79 224.92L471.19 228.55Z" fill="#0000ff"/>
<path d="M473.65 220.45L480.25 224.08L473.65 227.71Z" fill="#0000ff"/>
<path d="M476.11 219.6L482.71 223.23L476.11 226.86Z" fill="#0000ff"/>
<path d="M478.59 218.81L485.19 222.44L478.59 226.07Z" fill="#0000ff"/>
<path d="M481.09 218.12L487.69 221.75L481.09 225.38Z" fill="#0000ff"/>
<path d="M483.62 217.51L490.22 221.14L483.62 224.77Z" fill="#0000ff"/>
<path d="M486.15 216.91L492.75 220.54L486.15 224.17Z" fill="#0000ff"/>
<path d="M488.67 216.29L495.27 219.92L488.67 223.55Z" fill="#0000ff"/>
<path d="M491.19 215.65L497.79 219.28L491.19 222.91Z" fill="#0000ff"/>
<path d="M493.72 215.05L500.32 218.68L493.72 222.31Z" fill="#0000ff"/>
<path d="M496.26 214.5L502.86 218.13L496.26 221.76Z" fill="#0000ff"/>
<path d="M498.81 214L505.41 217.63L498.81 221.26Z" fill="#0000ff"/>
<path d="M501.37 213.52L507.97 217.15L501.37 220.78Z" fill="#0000ff"/>
<path d="M503.93 213.09L510.53 216.72L503.93 220.35Z" fill="#0000ff"/>
<path d="M506.5 212.69L513.1 216.32L506.5 219.95Z" fill="#0000ff"/>
<path d="M509.08 212.36L515.68 215.99L509.08 219.62Z" fill="#0000ff"/>
<path d="M511.67 212.14L518.27 215.77L511.67 219.4Z" fill="#0000ff"/>
<path d="M514.27 212.08L520.87 215.71L514.27 219.34Z" fill="#0000ff"/>
<path d="M516.87 212.22L523.47 215.85L516.87 219.48Z" fill="#0000ff"/>
<path d="M519.45 212.49L526.05 216.12L519.45 219.75Z" fill="#0000ff"/>
<path d="M522.03 212.84L528.63 216.47L522.03 220.1Z" fill="#0000ff"/>
<path d="M524.6 213.23L531.2 216.86L524.6 220.49Z" fill="#0000ff"/>
<path d="M527.16 213.7L533.76 217.33L527.16 220.96Z" fill="#0000ff"/>
<path d="M529.69 214.28L536.29 217.91L529.69 221.54Z" fill="#0000ff"/>
<path d="M532.19 214.99L538.79 218.62L532.19 222.25Z" fill="#0000ff"/>
<path d="M534.64 215.86L541.24 219.49L534.64 223.12Z" fill="#0000ff"/>
<path d="M537.02 216.91L543.62 220.54L537.02 224.17Z" fill="#0000ff"/>
<path d="M539.32 218.12L545.92 221.75L539.32 225.38Z" fill="#0000ff"/>
<path d="M541.53 219.49L548.13 223.12L541.53 226.75Z" fill="#0000ff"/>
<path d="M543.66 220.98L550.26 224.61L543.66 228.24Z" fill="#0000ff"/>
<path d="M545.73 222.55L552.33 226.18L545.73 229.81Z" fill="#0000ff"/>
<path d="M547.77 224.16L554.37 227.79L547.77 231.42Z" fill="#0000ff"/>
<path d="M549.83 225.75L556.43 229.38L549.83 233.01Z" fill="#0000ff"/>
<path d="M551.96 227.24L558.56 230.87L551.96 234.5Z" fill="#0000ff"/>
<path d="M554.19 228.57L560.79 232.2L554.19 235.83Z" fill="#0000ff"/>
<path d="M556.53 229.71L563.13 233.34L556.53 236.97Z" fill="#0000ff"/>
<path d="M558.97 230.61L565.57 234.24L558.97 237.87Z" fill="#0000ff"/>
</g>
<path d="M456.2 235.8 L456.39 235.61 L456.58 235.43 L456.77 235.24 L456.97 235.06 L457.16 234.88 L457.36 234.7 L457.56 234.52 L457.76 234.34 L457.96 234.16 L458.16 233.99 L458.36 233.82 L458.57 233.64 L458.77 233.47 L458.98 233.3 L459.19 233.14 L459.4 232.97 L459.61 232.81 L459.82 232.64 L460.03 232.48 L460.24 232.32 L460.45 232.16 L460.67 232 L460.88 231.85 L461.1 231.69 L461.32 231.54 L461.54 231.38 L461.76 231.23 L461.98 231.08 L462.2 230.93 L462.42 230.78 L462.64 230.64 L462.87 230.49 L463.09 230.35 L463.32 230.21 L463.54 230.06 L463.77 229.92 L464 229.79 L464.23 229.65 L464.46 229.51 L464.69 229.38 L464.92 229.24 L465.15 229.11 L465.38 228.98 L465.61 228.85 L465.85 228.72 L466.08 228.59 L466.32 228.46 L466.55 228.34 L466.79 228.21 L467.02 228.09 L467.26 227.97 L467.5 227.84 L467.74 227.72 L467.97 227.6 L468.21 227.49 L468.45 227.37 L468.69 227.25 L468.93 227.14 L469.18 227.02 L469.42 226.91 L469.66 226.8 L469.9 226.69 L470.15 226.58 L470.39 226.47 L470.63 226.36 L470.88 226.26 L471.12 226.15 L471.37 226.05 L471.61 225.94 L471.86 225.84 L472.1 225.74 L472.35 225.64 L472.6 225.54 L472.85 225.44 L473.09 225.34 L473.34 225.24 L473.59 225.14 L473.84 225.05 L474.09 224.95 L474.34 224.86 L474.59 224.77 L474.84 224.67 L475.09 224.58 L475.34 224.49 L475.59 224.4 L475.84 224.31 L476.1 224.23 L476.35 224.14 L476.6 224.05 L476.85 223.97 L477.11 223.88 L477.36 223.8 L477.61 223.71 L477.87 223.63 L478.12 223.55 L478.38 223.46 L478.63 223.38 L478.89 223.3 L479.14 223.22 L479.4 223.14 L479.65 223.07 L479.91 222.99 L480.16 222.91 L480.42 222.83 L480.68 222.76 L480.93 222.68 L481.19 222.61 L481.45 222.53 L481.7 222.46 L481.96 222.39 L482.22 222.32 L482.48 222.24 L482.73 222.17 L482.99 222.1 L483.25 222.03 L483.51 221.96 L483.76 221.89 L484.02 221.82 L484.28 221.75 L484.54 221.68 L484.8 221.62 L485.06 221.55 L485.32 221.48 L485.57 221.42 L485.83 221.35 L486.09 221.28 L486.35 221.22 L486.61 221.15 L486.87 221.09 L487.13 221.03 L487.39 220.96 L487.65 220.9 L487.91 220.84 L488.17 220.77 L488.43 220.71 L488.69 220.65 L488.95 220.59 L489.21 220.53 L489.47 220.47 L489.73 220.41 L489.99 220.35 L490.25 220.29 L490.51 220.23 L490.77 220.17 L491.03 220.11 L491.29 220.06 L491.55 220 L491.81 219.94 L492.07 219.89 L492.33 219.83 L492.59 219.78 L492.85 219.72 L493.11 219.67 L493.37 219.61 L493.63 219.56 L493.9 219.51 L494.16 219.46 L494.42 219.4 L494.68 219.35 L494.94 219.3 L495.2 219.25 L495.46 219.2 L495.73 219.15 L495.99 219.1 L496.25 219.05 L496.51 219 L496.77 218.96 L497.04 218.91 L497.3 218.86 L497.56 218.81 L497.82 218.77 L498.09 218.72 L498.35 218.68 L498.61 218.63 L498.88 218.59 L499.14 218.55 L499.4 218.5 L499.66 218.46 L499.93 218.42 L500.19 218.38 L500.46 218.34 L500.72 218.3 L500.98 218.26 L501.25 218.22 L501.51 218.18 L501.77 218.14 L502.04 218.1 L502.3 218.06 L502.57 218.03 L502.83 217.99 L503.1 217.95 L503.36 217.92 L503.63 217.88 L503.89 217.85 L504.16 217.81 L504.42 217.78 L504.69 217.75 L504.95 217.72 L505.22 217.69 L505.48 217.65 L505.75 217.62 L506.01 217.59 L506.28 217.57 L506.54 217.54 L506.81 217.51 L507.08 217.48 L507.34 217.46 L507.61 217.43 L507.87 217.41 L508.14 217.38 L508.41 217.36 L508.67 217.34 L508.94 217.32 L509.2 217.3 L509.47 217.28 L509.74 217.26 L510 217.24 L510.27 217.23 L510.54 217.21 L510.8 217.19 L511.07 217.18 L511.34 217.17 L511.6 217.15 L511.87 217.14 L512.13 217.13 L512.4 217.12 L512.67 217.12 L512.93 217.11 L513.2 217.1 L513.47 217.1 L513.73 217.09 L514 217.09 L514.27 217.09 L514.53 217.09 L514.8 217.09 L515.07 217.09 L515.33 217.09 L515.6 217.09 L515.87 217.1 L516.13 217.1 L516.4 217.11 L516.67 217.12 L516.93 217.13 L517.2 217.14 L517.46 217.15 L517.73 217.17 L518 217.18 L518.26 217.2 L518.53 217.21 L518.8 217.23 L519.06 217.25 L519.33 217.27 L519.59 217.29 L519.86 217.32 L520.12 217.34 L520.39 217.37 L520.66 217.39 L520.92 217.42 L521.19 217.45 L521.45 217.48 L521.72 217.51 L521.98 217.55 L522.25 217.58 L522.51 217.62 L522.77 217.65 L523.04 217.69 L523.3 217.73 L523.57 217.77 L523.83 217.81 L524.09 217.86 L524.36 217.9 L524.62 217.94 L524.88 217.99 L525.15 218.04 L525.41 218.09 L525.67 218.14 L525.94 218.19 L526.2 218.24 L526.46 218.3 L526.72 218.35 L526.98 218.41 L527.24 218.46 L527.51 218.52 L527.77 218.58 L528.03 218.64 L528.29 218.71 L528.55 218.77 L528.81 218.83 L529.07 218.9 L529.33 218.97 L529.59 219.04 L529.84 219.1 L530.1 219.18 L530.36 219.25 L530.62 219.32 L530.88 219.4 L531.13 219.47 L531.39 219.55 L531.65 219.63 L531.9 219.71 L532.16 219.79 L532.41 219.88 L532.66 219.96 L532.92 220.05 L533.17 220.14 L533.42 220.22 L533.67 220.32 L533.93 220.41 L534.18 220.5 L534.43 220.6 L534.67 220.7 L534.92 220.79 L535.17 220.9 L535.42 221 L535.66 221.1 L535.91 221.21 L536.15 221.32 L536.4 221.42 L536.64 221.54 L536.88 221.65 L537.12 221.76 L537.36 221.88 L537.6 222 L537.84 222.12 L538.07 222.24 L538.31 222.37 L538.55 222.49 L538.78 222.62 L539.01 222.75 L539.24 222.88 L539.47 223.02 L539.7 223.15 L539.93 223.29 L540.16 223.43 L540.39 223.57 L540.61 223.71 L540.83 223.86 L541.06 224.01 L541.28 224.16 L541.5 224.31 L541.72 224.46 L541.94 224.61 L542.15 224.77 L542.37 224.93 L542.58 225.09 L542.8 225.25 L543.01 225.41 L543.22 225.58 L543.43 225.75 L543.64 225.91 L543.84 226.08 L544.05 226.25 L544.25 226.43 L544.46 226.6 L544.66 226.78 L544.86 226.96 L545.06 227.14 L545.26 227.32 L545.45 227.5 L545.65 227.68 L545.84 227.87 L546.04 228.05 L546.23 228.24 L546.42 228.43 L546.6 228.62 L546.79 228.81 L546.98 229.01 L547.16 229.2 L547.34 229.4 L547.53 229.59 L547.71 229.79 L547.88 229.99 L548.06 230.19 L548.24 230.4 L548.41 230.6 L548.58 230.81 L548.76 231.01 L548.93 231.22 L549.09 231.43 L549.26 231.64 L549.43 231.85 L549.59 232.06 L549.75 232.27 L549.91 232.48 L550.07 232.7 L550.23 232.91 L550.39 233.13 L550.54 233.35 L550.69 233.57 L550.85 233.79 L551 234.01 L551.14 234.23 L551.29 234.45 L551.44 234.67 L551.58 234.9 L551.72 235.12 L551.86 235.35 L552 235.57 L552.14 235.8" fill="none" stroke="#111" stroke-width="1.7" stroke-linejoin="round" clip-path="url(#cB)"/>
<g clip-path="url(#cB)">
<circle cx="459.63" cy="234.95" r="2.5" fill="url(#gOr)"/>
<circle cx="461.55" cy="233.51" r="2.5" fill="url(#gOr)"/>
<circle cx="463.61" cy="232.27" r="2.5" fill="url(#gOr)"/>
<circle cx="465.8" cy="231.3" r="2.5" fill="url(#gOr)"/>
<circle cx="468.12" cy="230.72" r="2.5" fill="url(#gOr)"/>
<circle cx="470.5" cy="230.87" r="2.5" fill="url(#gOr)"/>
<circle cx="472.73" cy="231.74" r="2.5" fill="url(#gOr)"/>
<circle cx="474.79" cy="232.98" r="2.5" fill="url(#gOr)"/>
<circle cx="476.9" cy="234.08" r="2.5" fill="url(#gOr)"/>
<circle cx="479.12" cy="233.34" r="2.5" fill="url(#gOr)"/>
<circle cx="480.84" cy="231.67" r="2.5" fill="url(#gOr)"/>
<circle cx="482.86" cy="230.4" r="2.5" fill="url(#gOr)"/>
<circle cx="485" cy="229.33" r="2.5" fill="url(#gOr)"/>
<circle cx="487.11" cy="228.18" r="2.5" fill="url(#gOr)"/>
<circle cx="489.39" cy="227.45" r="2.5" fill="url(#gOr)"/>
<circle cx="491.58" cy="226.48" r="2.5" fill="url(#gOr)"/>
<circle cx="493.59" cy="225.17" r="2.5" fill="url(#gOr)"/>
<circle cx="495.73" cy="224.09" r="2.5" fill="url(#gOr)"/>
<circle cx="497.93" cy="223.12" r="2.5" fill="url(#gOr)"/>
<circle cx="500.11" cy="222.13" r="2.5" fill="url(#gOr)"/>
<circle cx="502.3" cy="221.14" r="2.5" fill="url(#gOr)"/>
<circle cx="504.49" cy="220.17" r="2.5" fill="url(#gOr)"/>
<circle cx="506.72" cy="219.26" r="2.5" fill="url(#gOr)"/>
<circle cx="508.97" cy="218.45" r="2.5" fill="url(#gOr)"/>
<circle cx="511.26" cy="217.72" r="2.5" fill="url(#gOr)"/>
<circle cx="513.56" cy="217.04" r="2.5" fill="url(#gOr)"/>
<circle cx="515.88" cy="216.42" r="2.5" fill="url(#gOr)"/>
<circle cx="518.23" cy="215.93" r="2.5" fill="url(#gOr)"/>
<circle cx="520.61" cy="215.68" r="2.5" fill="url(#gOr)"/>
<circle cx="523.01" cy="215.73" r="2.5" fill="url(#gOr)"/>
<circle cx="525.39" cy="216.06" r="2.5" fill="url(#gOr)"/>
<circle cx="527.71" cy="216.66" r="2.5" fill="url(#gOr)"/>
<circle cx="529.95" cy="217.53" r="2.5" fill="url(#gOr)"/>
<circle cx="532.06" cy="218.67" r="2.5" fill="url(#gOr)"/>
<circle cx="534.01" cy="220.06" r="2.5" fill="url(#gOr)"/>
<circle cx="535.79" cy="221.67" r="2.5" fill="url(#gOr)"/>
<circle cx="537.4" cy="223.44" r="2.5" fill="url(#gOr)"/>
<circle cx="538.85" cy="225.36" r="2.5" fill="url(#gOr)"/>
<circle cx="540.14" cy="227.38" r="2.5" fill="url(#gOr)"/>
<circle cx="541.28" cy="229.49" r="2.5" fill="url(#gOr)"/>
<circle cx="542.34" cy="231.64" r="2.5" fill="url(#gOr)"/>
<circle cx="543.39" cy="233.8" r="2.5" fill="url(#gOr)"/>
</g>
<path d="M458.95 235.8 L459.09 235.59 L459.24 235.39 L459.39 235.19 L459.54 235 L459.7 234.81 L459.87 234.62 L460.03 234.43 L460.2 234.25 L460.38 234.07 L460.56 233.9 L460.74 233.73 L460.92 233.56 L461.11 233.39 L461.31 233.23 L461.5 233.08 L461.7 232.93 L461.9 232.78 L462.11 232.63 L462.31 232.49 L462.52 232.36 L462.74 232.22 L462.95 232.1 L463.17 231.97 L463.39 231.85 L463.61 231.74 L463.84 231.63 L464.06 231.52 L464.29 231.42 L464.52 231.32 L464.75 231.23 L464.99 231.14 L465.22 231.06 L465.46 230.98 L465.7 230.91 L465.94 230.84 L466.18 230.78 L466.42 230.72 L466.67 230.66 L466.91 230.61 L467.16 230.57 L467.4 230.53 L467.65 230.5 L467.9 230.47 L468.14 230.45 L468.39 230.43 L468.64 230.42 L468.89 230.41 L469.14 230.41 L469.39 230.42 L469.64 230.43 L469.89 230.45 L470.13 230.47 L470.38 230.51 L470.63 230.54 L470.87 230.59 L471.12 230.64 L471.36 230.71 L471.6 230.77 L471.84 230.85 L472.07 230.94 L472.31 231.03 L472.54 231.13 L472.77 231.25 L473 231.37 L473.22 231.5 L473.44 231.64 L473.66 231.79 L473.88 231.95 L474.09 232.11 L474.3 232.29 L474.5 232.47 L474.71 232.65 L474.91 232.84 L475.11 233.02 L475.3 233.2 L475.5 233.37 L475.7 233.54 L475.89 233.7 L476.08 233.85 L476.28 233.98 L476.47 234.1 L476.66 234.21 L476.86 234.29 L477.05 234.36 L477.25 234.4 L477.44 234.42 L477.64 234.41 L477.84 234.39 L478.04 234.34 L478.24 234.28 L478.44 234.2 L478.64 234.1 L478.85 233.98 L479.05 233.86 L479.26 233.72 L479.46 233.57 L479.67 233.4 L479.88 233.23 L480.09 233.06 L480.3 232.87 L480.51 232.68 L480.72 232.48 L480.93 232.29 L481.14 232.08 L481.35 231.88 L481.57 231.68 L481.78 231.48 L481.99 231.29 L482.21 231.09 L482.42 230.91 L482.64 230.73 L482.86 230.55 L483.07 230.38 L483.29 230.21 L483.51 230.05 L483.73 229.9 L483.95 229.75 L484.17 229.6 L484.39 229.46 L484.61 229.33 L484.83 229.19 L485.05 229.06 L485.27 228.94 L485.49 228.82 L485.71 228.7 L485.93 228.59 L486.16 228.47 L486.38 228.37 L486.6 228.26 L486.83 228.16 L487.05 228.06 L487.27 227.96 L487.49 227.86 L487.72 227.77 L487.94 227.68 L488.17 227.59 L488.39 227.5 L488.61 227.41 L488.84 227.33 L489.06 227.24 L489.29 227.16 L489.51 227.08 L489.73 226.99 L489.96 226.91 L490.18 226.83 L490.41 226.75 L490.63 226.67 L490.85 226.58 L491.08 226.5 L491.3 226.42 L491.52 226.33 L491.75 226.25 L491.97 226.16 L492.19 226.08 L492.42 225.99 L492.64 225.9 L492.86 225.81 L493.08 225.71 L493.31 225.62 L493.53 225.52 L493.75 225.42 L493.97 225.32 L494.19 225.22 L494.41 225.12 L494.63 225.02 L494.85 224.91 L495.08 224.81 L495.3 224.7 L495.52 224.59 L495.74 224.48 L495.96 224.37 L496.18 224.26 L496.4 224.15 L496.62 224.04 L496.84 223.93 L497.06 223.81 L497.28 223.7 L497.5 223.59 L497.72 223.47 L497.94 223.36 L498.16 223.24 L498.38 223.12 L498.61 223.01 L498.83 222.89 L499.05 222.78 L499.27 222.66 L499.49 222.55 L499.71 222.43 L499.94 222.31 L500.16 222.2 L500.38 222.08 L500.6 221.97 L500.83 221.85 L501.05 221.74 L501.27 221.63 L501.5 221.51 L501.72 221.4 L501.95 221.29 L502.17 221.18 L502.4 221.07 L502.62 220.96 L502.85 220.85 L503.08 220.75 L503.3 220.64 L503.53 220.54 L503.76 220.43 L503.99 220.33 L504.21 220.23 L504.44 220.13 L504.67 220.03 L504.9 219.93 L505.13 219.83 L505.36 219.74 L505.59 219.64 L505.83 219.55 L506.06 219.46 L506.29 219.37 L506.52 219.28 L506.76 219.19 L506.99 219.1 L507.22 219.02 L507.46 218.93 L507.69 218.85 L507.93 218.77 L508.16 218.69 L508.4 218.61 L508.63 218.53 L508.87 218.45 L509.11 218.38 L509.34 218.31 L509.58 218.23 L509.82 218.16 L510.06 218.1 L510.3 218.03 L510.54 217.96 L510.78 217.9 L511.02 217.83 L511.26 217.77 L511.5 217.71 L511.74 217.66 L511.98 217.6 L512.22 217.54 L512.46 217.49 L512.71 217.44 L512.95 217.39 L513.19 217.34 L513.44 217.29 L513.68 217.25 L513.93 217.2 L514.17 217.16 L514.42 217.12 L514.66 217.09 L514.91 217.05 L515.15 217.01 L515.4 216.98 L515.65 216.95 L515.89 216.92 L516.14 216.89 L516.39 216.87 L516.64 216.85 L516.89 216.82 L517.14 216.8 L517.39 216.79 L517.64 216.77 L517.89 216.76 L518.14 216.75 L518.39 216.74 L518.64 216.73 L518.89 216.72 L519.14 216.72 L519.39 216.72 L519.64 216.72 L519.89 216.72 L520.14 216.73 L520.39 216.74 L520.64 216.75 L520.89 216.76 L521.14 216.78 L521.39 216.8 L521.64 216.82 L521.89 216.84 L522.14 216.86 L522.39 216.89 L522.64 216.92 L522.88 216.96 L523.13 216.99 L523.38 217.03 L523.62 217.07 L523.87 217.11 L524.11 217.16 L524.35 217.21 L524.6 217.26 L524.84 217.32 L525.08 217.38 L525.32 217.44 L525.56 217.5 L525.8 217.57 L526.04 217.64 L526.28 217.71 L526.51 217.79 L526.75 217.87 L526.98 217.95 L527.21 218.04 L527.44 218.13 L527.67 218.22 L527.9 218.31 L528.13 218.41 L528.36 218.51 L528.58 218.62 L528.81 218.72 L529.03 218.83 L529.25 218.95 L529.47 219.06 L529.69 219.18 L529.91 219.3 L530.13 219.43 L530.34 219.55 L530.56 219.68 L530.77 219.81 L530.98 219.95 L531.19 220.09 L531.4 220.23 L531.6 220.37 L531.81 220.51 L532.01 220.66 L532.21 220.81 L532.41 220.96 L532.61 221.11 L532.81 221.27 L533 221.42 L533.2 221.58 L533.39 221.75 L533.58 221.91 L533.77 222.07 L533.95 222.24 L534.14 222.41 L534.32 222.58 L534.5 222.76 L534.68 222.93 L534.86 223.11 L535.04 223.29 L535.21 223.47 L535.39 223.65 L535.56 223.83 L535.72 224.02 L535.89 224.2 L536.06 224.39 L536.22 224.58 L536.38 224.77 L536.54 224.96 L536.7 225.16 L536.85 225.35 L537 225.55 L537.15 225.75 L537.3 225.95 L537.45 226.15 L537.6 226.35 L537.74 226.55 L537.88 226.76 L538.02 226.96 L538.16 227.17 L538.29 227.38 L538.42 227.59 L538.56 227.8 L538.68 228.01 L538.81 228.22 L538.94 228.44 L539.06 228.65 L539.18 228.87 L539.3 229.09 L539.42 229.31 L539.53 229.53 L539.64 229.75 L539.75 229.97 L539.86 230.19 L539.97 230.42 L540.07 230.64 L540.17 230.87 L540.27 231.09 L540.37 231.32 L540.47 231.55 L540.56 231.78 L540.65 232.01 L540.74 232.24 L540.83 232.47 L540.91 232.71 L541 232.94 L541.08 233.17 L541.16 233.41 L541.23 233.65 L541.31 233.88 L541.38 234.12 L541.45 234.36 L541.52 234.6 L541.58 234.84 L541.64 235.08 L541.71 235.32 L541.76 235.56 L541.82 235.8" fill="none" stroke="#111" stroke-width="1.7" stroke-linejoin="round" clip-path="url(#cB)"/>
<g clip-path="url(#cB)">
<circle cx="481.99" cy="235.23" r="2.3" fill="url(#gBk)"/>
<circle cx="483.56" cy="233.7" r="2.3" fill="url(#gBk)"/>
<circle cx="485.01" cy="232.05" r="2.3" fill="url(#gBk)"/>
<circle cx="486.61" cy="230.54" r="2.3" fill="url(#gBk)"/>
<circle cx="488.5" cy="229.43" r="2.3" fill="url(#gBk)"/>
<circle cx="490.62" cy="228.84" r="2.3" fill="url(#gBk)"/>
<circle cx="492.79" cy="228.48" r="2.3" fill="url(#gBk)"/>
<circle cx="494.87" cy="227.8" r="2.3" fill="url(#gBk)"/>
<circle cx="496.86" cy="226.85" r="2.3" fill="url(#gBk)"/>
<circle cx="498.9" cy="226.03" r="2.3" fill="url(#gBk)"/>
<circle cx="500.77" cy="224.88" r="2.3" fill="url(#gBk)"/>
<circle cx="502.64" cy="223.73" r="2.3" fill="url(#gBk)"/>
<circle cx="504.71" cy="222.98" r="2.3" fill="url(#gBk)"/>
<circle cx="506.82" cy="222.37" r="2.3" fill="url(#gBk)"/>
<circle cx="508.91" cy="221.68" r="2.3" fill="url(#gBk)"/>
<circle cx="510.99" cy="220.98" r="2.3" fill="url(#gBk)"/>
<circle cx="513.11" cy="220.37" r="2.3" fill="url(#gBk)"/>
<circle cx="515.26" cy="219.9" r="2.3" fill="url(#gBk)"/>
<circle cx="517.43" cy="219.58" r="2.3" fill="url(#gBk)"/>
<circle cx="519.63" cy="219.41" r="2.3" fill="url(#gBk)"/>
<circle cx="521.83" cy="219.38" r="2.3" fill="url(#gBk)"/>
<circle cx="524.02" cy="219.51" r="2.3" fill="url(#gBk)"/>
<circle cx="526.2" cy="219.8" r="2.3" fill="url(#gBk)"/>
<circle cx="528.36" cy="220.25" r="2.3" fill="url(#gBk)"/>
<circle cx="530.46" cy="220.89" r="2.3" fill="url(#gBk)"/>
<circle cx="532.46" cy="221.79" r="2.3" fill="url(#gBk)"/>
<circle cx="534.32" cy="222.96" r="2.3" fill="url(#gBk)"/>
<circle cx="536.08" cy="224.29" r="2.3" fill="url(#gBk)"/>
<circle cx="537.79" cy="225.68" r="2.3" fill="url(#gBk)"/>
<circle cx="539.41" cy="227.16" r="2.3" fill="url(#gBk)"/>
<circle cx="540.88" cy="228.8" r="2.3" fill="url(#gBk)"/>
<circle cx="542.18" cy="230.57" r="2.3" fill="url(#gBk)"/>
<circle cx="543.42" cy="232.38" r="2.3" fill="url(#gBk)"/>
<circle cx="544.73" cy="234.15" r="2.3" fill="url(#gBk)"/>
</g>
<path d="M482.33 235.8 L482.43 235.63 L482.53 235.46 L482.64 235.29 L482.74 235.13 L482.85 234.97 L482.96 234.81 L483.07 234.65 L483.18 234.5 L483.3 234.35 L483.42 234.2 L483.53 234.05 L483.65 233.91 L483.77 233.77 L483.9 233.63 L484.02 233.49 L484.15 233.35 L484.27 233.22 L484.4 233.09 L484.53 232.96 L484.66 232.84 L484.8 232.71 L484.93 232.59 L485.06 232.47 L485.2 232.35 L485.34 232.23 L485.48 232.12 L485.62 232 L485.76 231.89 L485.9 231.78 L486.05 231.67 L486.19 231.57 L486.34 231.46 L486.48 231.36 L486.63 231.26 L486.78 231.15 L486.93 231.06 L487.08 230.96 L487.24 230.86 L487.39 230.77 L487.54 230.67 L487.7 230.58 L487.85 230.49 L488.01 230.4 L488.17 230.31 L488.32 230.22 L488.48 230.14 L488.64 230.05 L488.8 229.97 L488.96 229.88 L489.13 229.8 L489.29 229.72 L489.45 229.64 L489.61 229.56 L489.78 229.48 L489.94 229.4 L490.11 229.32 L490.27 229.25 L490.44 229.17 L490.61 229.09 L490.77 229.02 L490.94 228.95 L491.11 228.87 L491.28 228.8 L491.44 228.72 L491.61 228.65 L491.78 228.58 L491.95 228.51 L492.12 228.43 L492.29 228.36 L492.46 228.29 L492.63 228.22 L492.8 228.15 L492.97 228.08 L493.14 228.01 L493.31 227.94 L493.48 227.87 L493.65 227.79 L493.82 227.72 L493.99 227.65 L494.16 227.58 L494.33 227.51 L494.5 227.44 L494.67 227.37 L494.84 227.29 L495.01 227.22 L495.17 227.15 L495.34 227.07 L495.51 227 L495.68 226.93 L495.85 226.85 L496.02 226.78 L496.18 226.7 L496.35 226.62 L496.52 226.55 L496.68 226.47 L496.85 226.39 L497.01 226.31 L497.18 226.23 L497.34 226.15 L497.51 226.07 L497.67 225.99 L497.83 225.91 L498 225.83 L498.16 225.75 L498.33 225.67 L498.49 225.58 L498.65 225.5 L498.82 225.42 L498.98 225.34 L499.14 225.25 L499.3 225.17 L499.47 225.09 L499.63 225.01 L499.79 224.92 L499.96 224.84 L500.12 224.76 L500.28 224.67 L500.44 224.59 L500.61 224.51 L500.77 224.43 L500.93 224.34 L501.1 224.26 L501.26 224.18 L501.42 224.1 L501.59 224.02 L501.75 223.93 L501.91 223.85 L502.08 223.77 L502.24 223.69 L502.41 223.61 L502.57 223.53 L502.74 223.45 L502.9 223.38 L503.07 223.3 L503.23 223.22 L503.4 223.14 L503.57 223.07 L503.73 222.99 L503.9 222.92 L504.07 222.84 L504.24 222.77 L504.41 222.7 L504.57 222.62 L504.74 222.55 L504.91 222.48 L505.08 222.41 L505.25 222.34 L505.42 222.27 L505.59 222.2 L505.76 222.13 L505.93 222.06 L506.1 222 L506.28 221.93 L506.45 221.86 L506.62 221.8 L506.79 221.73 L506.96 221.67 L507.14 221.61 L507.31 221.54 L507.48 221.48 L507.66 221.42 L507.83 221.36 L508 221.3 L508.18 221.24 L508.35 221.18 L508.53 221.12 L508.7 221.07 L508.88 221.01 L509.05 220.96 L509.23 220.9 L509.41 220.85 L509.58 220.79 L509.76 220.74 L509.93 220.69 L510.11 220.64 L510.29 220.59 L510.47 220.54 L510.64 220.49 L510.82 220.45 L511 220.4 L511.18 220.35 L511.35 220.31 L511.53 220.26 L511.71 220.22 L511.89 220.18 L512.07 220.14 L512.25 220.1 L512.43 220.06 L512.61 220.02 L512.79 219.98 L512.97 219.94 L513.15 219.91 L513.33 219.87 L513.51 219.84 L513.69 219.8 L513.87 219.77 L514.05 219.74 L514.23 219.71 L514.41 219.68 L514.59 219.65 L514.78 219.62 L514.96 219.59 L515.14 219.57 L515.32 219.54 L515.5 219.52 L515.69 219.5 L515.87 219.47 L516.05 219.45 L516.23 219.43 L516.42 219.41 L516.6 219.4 L516.78 219.38 L516.96 219.36 L517.15 219.35 L517.33 219.34 L517.51 219.32 L517.7 219.31 L517.88 219.3 L518.07 219.29 L518.25 219.28 L518.43 219.28 L518.62 219.27 L518.8 219.26 L518.98 219.26 L519.17 219.26 L519.35 219.26 L519.54 219.26 L519.72 219.26 L519.9 219.26 L520.09 219.26 L520.27 219.26 L520.46 219.27 L520.64 219.27 L520.82 219.28 L521.01 219.29 L521.19 219.3 L521.37 219.31 L521.56 219.32 L521.74 219.33 L521.92 219.35 L522.11 219.36 L522.29 219.38 L522.47 219.4 L522.66 219.41 L522.84 219.43 L523.02 219.46 L523.2 219.48 L523.39 219.5 L523.57 219.52 L523.75 219.55 L523.93 219.58 L524.11 219.61 L524.3 219.63 L524.48 219.67 L524.66 219.7 L524.84 219.73 L525.02 219.76 L525.2 219.8 L525.38 219.84 L525.56 219.87 L525.74 219.91 L525.92 219.95 L526.1 220 L526.28 220.04 L526.45 220.08 L526.63 220.13 L526.81 220.17 L526.99 220.22 L527.16 220.27 L527.34 220.32 L527.52 220.37 L527.69 220.43 L527.87 220.48 L528.05 220.54 L528.22 220.59 L528.39 220.65 L528.57 220.71 L528.74 220.77 L528.92 220.83 L529.09 220.9 L529.26 220.96 L529.43 221.03 L529.61 221.09 L529.78 221.16 L529.95 221.23 L530.12 221.3 L530.29 221.37 L530.46 221.45 L530.62 221.52 L530.79 221.59 L530.96 221.67 L531.13 221.75 L531.29 221.83 L531.46 221.91 L531.62 221.99 L531.79 222.07 L531.95 222.16 L532.12 222.24 L532.28 222.33 L532.44 222.41 L532.6 222.5 L532.76 222.59 L532.92 222.68 L533.08 222.77 L533.24 222.87 L533.4 222.96 L533.56 223.06 L533.71 223.15 L533.87 223.25 L534.02 223.35 L534.18 223.45 L534.33 223.55 L534.48 223.65 L534.63 223.76 L534.79 223.86 L534.94 223.97 L535.09 224.08 L535.23 224.18 L535.38 224.29 L535.53 224.4 L535.67 224.51 L535.82 224.63 L535.96 224.74 L536.11 224.85 L536.25 224.97 L536.39 225.09 L536.53 225.2 L536.67 225.32 L536.81 225.44 L536.95 225.56 L537.09 225.69 L537.22 225.81 L537.36 225.93 L537.49 226.06 L537.63 226.18 L537.76 226.31 L537.89 226.44 L538.02 226.57 L538.15 226.7 L538.28 226.83 L538.41 226.96 L538.54 227.09 L538.66 227.23 L538.79 227.36 L538.91 227.49 L539.04 227.63 L539.16 227.77 L539.28 227.9 L539.4 228.04 L539.52 228.18 L539.64 228.32 L539.76 228.46 L539.88 228.61 L539.99 228.75 L540.11 228.89 L540.22 229.03 L540.34 229.18 L540.45 229.33 L540.56 229.47 L540.67 229.62 L540.78 229.77 L540.89 229.91 L541 230.06 L541.1 230.21 L541.21 230.36 L541.31 230.51 L541.42 230.67 L541.52 230.82 L541.62 230.97 L541.72 231.12 L541.82 231.28 L541.92 231.43 L542.02 231.59 L542.12 231.75 L542.22 231.9 L542.31 232.06 L542.41 232.22 L542.5 232.37 L542.59 232.53 L542.68 232.69 L542.77 232.85 L542.86 233.01 L542.95 233.17 L543.04 233.33 L543.12 233.5 L543.21 233.66 L543.29 233.82 L543.38 233.98 L543.46 234.15 L543.54 234.31 L543.62 234.47 L543.7 234.64 L543.78 234.8 L543.86 234.97 L543.93 235.13 L544.01 235.3 L544.08 235.47 L544.16 235.63 L544.23 235.8" fill="none" stroke="#111" stroke-width="1.7" stroke-linejoin="round" clip-path="url(#cB)"/>
<g clip-path="url(#cB)">
<circle cx="466.17" cy="234.95" r="2.8" fill="url(#gGr)"/>
<circle cx="467.7" cy="233.11" r="2.8" fill="url(#gGr)"/>
<circle cx="469.15" cy="231.2" r="2.8" fill="url(#gGr)"/>
<circle cx="470.79" cy="229.44" r="2.8" fill="url(#gGr)"/>
<circle cx="472.71" cy="228" r="2.8" fill="url(#gGr)"/>
<circle cx="474.68" cy="226.64" r="2.8" fill="url(#gGr)"/>
<circle cx="476.68" cy="225.32" r="2.8" fill="url(#gGr)"/>
<circle cx="478.85" cy="224.3" r="2.8" fill="url(#gGr)"/>
<circle cx="481.12" cy="223.52" r="2.8" fill="url(#gGr)"/>
<circle cx="483.38" cy="222.72" r="2.8" fill="url(#gGr)"/>
<circle cx="485.58" cy="221.75" r="2.8" fill="url(#gGr)"/>
<circle cx="487.64" cy="220.52" r="2.8" fill="url(#gGr)"/>
<circle cx="489.48" cy="218.98" r="2.8" fill="url(#gGr)"/>
</g>
<g clip-path="url(#cB)">
<circle cx="494.37" cy="215.42" r="3.4" fill="url(#gGr)"/>
<circle cx="498.84" cy="212.59" r="3.4" fill="url(#gGr)"/>
<circle cx="503.65" cy="209.2" r="3.4" fill="url(#gGr)"/>
<circle cx="510.87" cy="207.5" r="3.4" fill="url(#gGr)"/>
<circle cx="518.78" cy="205.24" r="3.4" fill="url(#gGr)"/>
<circle cx="529.44" cy="200.71" r="3.4" fill="url(#gGr)"/>
<circle cx="541.82" cy="197.6" r="3.4" fill="url(#gGr)"/>
<circle cx="555.58" cy="195.61" r="3.4" fill="url(#gGr)"/>
<circle cx="571.39" cy="193.92" r="3.4" fill="url(#gGr)"/>
<circle cx="586.18" cy="197.6" r="3.4" fill="url(#gGr)"/>
<circle cx="598.56" cy="202.97" r="3.4" fill="url(#gGr)"/>
<circle cx="607.5" cy="209.48" r="3.4" fill="url(#gGr)"/>
</g>
<g clip-path="url(#cB)">
<circle cx="613.35" cy="214.58" r="3.2" fill="url(#gGr)"/>
<circle cx="614.9" cy="215.84" r="3.2" fill="url(#gGr)"/>
<circle cx="616.4" cy="217.15" r="3.2" fill="url(#gGr)"/>
<circle cx="617.87" cy="218.51" r="3.2" fill="url(#gGr)"/>
<circle cx="619.32" cy="219.89" r="3.2" fill="url(#gGr)"/>
<circle cx="620.76" cy="221.27" r="3.2" fill="url(#gGr)"/>
<circle cx="622.21" cy="222.66" r="3.2" fill="url(#gGr)"/>
<circle cx="623.66" cy="224.03" r="3.2" fill="url(#gGr)"/>
<circle cx="625.14" cy="225.37" r="3.2" fill="url(#gGr)"/>
<circle cx="626.66" cy="226.68" r="3.2" fill="url(#gGr)"/>
<circle cx="628.23" cy="227.92" r="3.2" fill="url(#gGr)"/>
<circle cx="629.86" cy="229.07" r="3.2" fill="url(#gGr)"/>
<circle cx="631.57" cy="230.11" r="3.2" fill="url(#gGr)"/>
<circle cx="633.36" cy="231.01" r="3.2" fill="url(#gGr)"/>
<circle cx="635.21" cy="231.76" r="3.2" fill="url(#gGr)"/>
<circle cx="637.12" cy="232.35" r="3.2" fill="url(#gGr)"/>
<circle cx="639.07" cy="232.82" r="3.2" fill="url(#gGr)"/>
<circle cx="641.03" cy="233.18" r="3.2" fill="url(#gGr)"/>
<circle cx="643.01" cy="233.48" r="3.2" fill="url(#gGr)"/>
<circle cx="644.99" cy="233.74" r="3.2" fill="url(#gGr)"/>
</g>
<path d="M466.51 235.8 L466.72 235.37 L466.94 234.95 L467.17 234.53 L467.4 234.12 L467.65 233.71 L467.9 233.3 L468.16 232.9 L468.43 232.51 L468.71 232.12 L468.99 231.73 L469.28 231.36 L469.58 230.98 L469.88 230.61 L470.2 230.25 L470.52 229.89 L470.84 229.54 L471.17 229.2 L471.51 228.86 L471.86 228.53 L472.21 228.2 L472.56 227.88 L472.93 227.57 L473.29 227.27 L473.67 226.97 L474.05 226.68 L474.43 226.39 L474.82 226.12 L475.21 225.85 L475.61 225.58 L476.01 225.33 L476.42 225.08 L476.83 224.85 L477.24 224.62 L477.66 224.39 L478.09 224.18 L478.51 223.96 L478.94 223.76 L479.37 223.56 L479.8 223.37 L480.24 223.17 L480.68 222.99 L481.12 222.8 L481.56 222.62 L482 222.45 L482.44 222.27 L482.89 222.1 L483.33 221.92 L483.78 221.75 L484.22 221.58 L484.67 221.4 L485.11 221.23 L485.56 221.05 L486 220.88 L486.44 220.7 L486.88 220.51 L487.32 220.33 L487.76 220.14 L488.19 219.95 L488.62 219.75 L489.05 219.55 L489.48 219.34 L489.91 219.13 L490.33 218.91 L490.75 218.7 L491.17 218.47 L491.59 218.25 L492.01 218.02 L492.42 217.79 L492.84 217.56 L493.25 217.32 L493.66 217.08 L494.07 216.84 L494.48 216.6 L494.89 216.36 L495.3 216.11 L495.71 215.87 L496.11 215.62 L496.52 215.37 L496.93 215.12 L497.33 214.87 L497.74 214.62 L498.14 214.37 L498.55 214.12 L498.96 213.87 L499.36 213.62 L499.77 213.37 L500.18 213.12 L500.58 212.87 L500.99 212.63 L501.4 212.38 L501.81 212.14 L502.22 211.89 L502.63 211.65 L503.04 211.42 L503.46 211.18 L503.87 210.95 L504.29 210.71 L504.71 210.49 L505.12 210.26 L505.54 210.03 L505.96 209.81 L506.39 209.59 L506.81 209.37 L507.23 209.15 L507.66 208.94 L508.08 208.73 L508.51 208.52 L508.94 208.31 L509.37 208.1 L509.8 207.89 L510.23 207.69 L510.66 207.49 L511.09 207.29 L511.52 207.09 L511.96 206.9 L512.39 206.7 L512.83 206.51 L513.27 206.32 L513.7 206.13 L514.14 205.94 L514.58 205.75 L515.02 205.57 L515.46 205.39 L515.9 205.21 L516.34 205.03 L516.78 204.85 L517.22 204.67 L517.67 204.5 L518.11 204.32 L518.55 204.15 L519 203.98 L519.44 203.81 L519.89 203.64 L520.34 203.47 L520.78 203.3 L521.23 203.14 L521.68 202.98 L522.12 202.81 L522.57 202.65 L523.02 202.49 L523.47 202.33 L523.92 202.18 L524.37 202.02 L524.82 201.87 L525.27 201.71 L525.72 201.56 L526.17 201.41 L526.62 201.26 L527.08 201.12 L527.53 200.97 L527.98 200.82 L528.44 200.68 L528.89 200.54 L529.35 200.4 L529.8 200.26 L530.26 200.12 L530.71 199.98 L531.17 199.85 L531.62 199.71 L532.08 199.58 L532.54 199.45 L533 199.32 L533.45 199.19 L533.91 199.06 L534.37 198.94 L534.83 198.81 L535.29 198.69 L535.75 198.57 L536.21 198.45 L536.67 198.33 L537.14 198.21 L537.6 198.1 L538.06 197.99 L538.52 197.87 L538.99 197.76 L539.45 197.65 L539.91 197.54 L540.38 197.44 L540.84 197.33 L541.31 197.23 L541.77 197.13 L542.24 197.03 L542.7 196.93 L543.17 196.83 L543.64 196.74 L544.1 196.65 L544.57 196.55 L545.04 196.46 L545.51 196.38 L545.98 196.29 L546.44 196.21 L546.91 196.12 L547.38 196.04 L547.85 195.96 L548.32 195.89 L548.79 195.81 L549.26 195.74 L549.73 195.67 L550.2 195.6 L550.67 195.53 L551.15 195.46 L551.62 195.4 L552.09 195.34 L552.56 195.28 L553.03 195.22 L553.51 195.16 L553.98 195.11 L554.45 195.06 L554.93 195.01 L555.4 194.96 L555.87 194.92 L556.35 194.87 L556.82 194.83 L557.3 194.79 L557.77 194.76 L558.25 194.72 L558.72 194.69 L559.19 194.66 L559.67 194.63 L560.15 194.6 L560.62 194.58 L561.1 194.56 L561.57 194.54 L562.05 194.52 L562.52 194.51 L563 194.5 L563.48 194.49 L563.95 194.48 L564.43 194.48 L564.9 194.47 L565.38 194.47 L565.86 194.47 L566.33 194.48 L566.81 194.49 L567.29 194.49 L567.76 194.51 L568.24 194.52 L568.71 194.54 L569.19 194.56 L569.67 194.58 L570.14 194.61 L570.62 194.63 L571.09 194.67 L571.57 194.7 L572.04 194.74 L572.52 194.78 L572.99 194.82 L573.47 194.87 L573.94 194.92 L574.41 194.97 L574.89 195.03 L575.36 195.09 L575.83 195.15 L576.3 195.22 L576.77 195.29 L577.24 195.37 L577.71 195.45 L578.18 195.53 L578.65 195.62 L579.12 195.71 L579.58 195.81 L580.05 195.91 L580.51 196.01 L580.98 196.12 L581.44 196.23 L581.91 196.35 L582.37 196.46 L582.83 196.59 L583.29 196.72 L583.75 196.85 L584.2 196.98 L584.66 197.12 L585.12 197.26 L585.57 197.41 L586.02 197.56 L586.47 197.72 L586.92 197.87 L587.37 198.04 L587.82 198.2 L588.27 198.37 L588.71 198.55 L589.15 198.72 L589.6 198.9 L590.04 199.09 L590.47 199.28 L590.91 199.47 L591.35 199.66 L591.78 199.86 L592.21 200.07 L592.64 200.27 L593.07 200.48 L593.5 200.7 L593.92 200.91 L594.34 201.14 L594.77 201.36 L595.18 201.59 L595.6 201.82 L596.02 202.05 L596.43 202.29 L596.84 202.53 L597.25 202.78 L597.66 203.02 L598.06 203.27 L598.47 203.53 L598.87 203.78 L599.27 204.04 L599.67 204.31 L600.06 204.57 L600.46 204.84 L600.85 205.11 L601.24 205.39 L601.63 205.67 L602.01 205.95 L602.4 206.23 L602.78 206.51 L603.16 206.8 L603.53 207.09 L603.91 207.39 L604.28 207.68 L604.65 207.98 L605.02 208.28 L605.39 208.59 L605.75 208.89 L606.12 209.2 L606.48 209.51 L606.83 209.83 L607.19 210.14 L607.55 210.46 L607.9 210.78 L608.25 211.1 L608.6 211.43 L608.95 211.75 L609.29 212.08 L609.63 212.41 L609.98 212.74 L610.32 213.08 L610.66 213.41 L610.99 213.75 L611.33 214.09 L611.66 214.43 L611.99 214.77 L612.32 215.11 L612.65 215.45 L612.98 215.8 L613.31 216.15 L613.63 216.5 L613.95 216.85 L614.28 217.2 L614.6 217.55 L614.92 217.9 L615.23 218.26 L615.55 218.61 L615.87 218.97 L616.18 219.33 L616.49 219.68 L616.81 220.04 L617.12 220.4 L617.43 220.76 L617.74 221.13 L618.04 221.49 L618.35 221.85 L618.66 222.21 L618.96 222.58 L619.27 222.94 L619.57 223.31 L619.88 223.67 L620.18 224.04 L620.49 224.41 L620.79 224.78 L621.09 225.14 L621.39 225.51 L621.69 225.88 L621.99 226.25 L622.29 226.62 L622.59 226.99 L622.89 227.35 L623.19 227.72 L623.49 228.09 L623.79 228.46 L624.09 228.83 L624.39 229.2 L624.7 229.57 L625 229.94 L625.3 230.31 L625.6 230.68 L625.9 231.05 L626.2 231.41 L626.5 231.78 L626.8 232.15 L627.1 232.52 L627.41 232.88 L627.71 233.25 L628.01 233.62 L628.32 233.98 L628.62 234.35 L628.93 234.71 L629.24 235.07 L629.54 235.44 L629.85 235.8" fill="none" stroke="#111" stroke-width="1.7" stroke-linejoin="round" clip-path="url(#cB)"/>
<path d="M476.8 195.7L521.8 150.0" stroke="#111" stroke-width="1.1" fill="none"/>
<path d="M524.8 147.0L518.7 149.9L522.1 153.1Z" fill="#111"/>
<rect x="548.6" y="36.2" width="115.5" height="97.6" fill="#fff" stroke="#222" stroke-width="1.3"/>
<rect x="548.6" y="36.2" width="115.5" height="97.6" fill="none" stroke="#222" stroke-width="1.3"/>
<path d="M548.6 133.8V135.8M577.48 133.8V135.8M606.35 133.8V135.8M635.23 133.8V135.8M664.1 133.8V135.8M548.6 133.8H546.6M548.6 109.4H546.6M548.6 85H546.6M548.6 60.6H546.6M548.6 36.2H546.6" stroke="#222" stroke-width="1.3" fill="none"/>
<text x="548.6" y="143.6" font-size="8.8" font-weight="bold" font-family='"Liberation Sans", sans-serif' text-anchor="middle" fill="#111" color="#111" stroke-width="0.18">10</text>
<text x="577.48" y="143.6" font-size="8.8" font-weight="bold" font-family='"Liberation Sans", sans-serif' text-anchor="middle" fill="#111" color="#111" stroke-width="0.18">15</text>
<text x="606.35" y="143.6" font-size="8.8" font-weight="bold" font-family='"Liberation Sans", sans-serif' text-anchor="middle" fill="#111" color="#111" stroke-width="0.18">20</text>
<text x="635.23" y="143.6" font-size="8.8" font-weight="bold" font-family='"Liberation Sans", sans-serif' text-anchor="middle" fill="#111" color="#111" stroke-width="0.18">25</text>
<text x="664.1" y="143.6" font-size="8.8" font-weight="bold" font-family='"Liberation Sans", sans-serif' text-anchor="middle" fill="#111" color="#111" stroke-width="0.18">30</text>
<text x="545.6" y="136.97" font-size="8.8" font-weight="bold" font-family='"Liberation Sans", sans-serif' text-anchor="end" fill="#111" color="#111" stroke-width="0.18">0</text>
<text x="545.6" y="112.57" font-size="8.8" font-weight="bold" font-family='"Liberation Sans", sans-serif' text-anchor="end" fill="#111" color="#111" stroke-width="0.18">5</text>
<text x="545.6" y="88.17" font-size="8.8" font-weight="bold" font-family='"Liberation Sans", sans-serif' text-anchor="end" fill="#111" color="#111" stroke-width="0.18">10</text>
<text x="545.6" y="63.77" font-size="8.8" font-weight="bold" font-family='"Liberation Sans", sans-serif' text-anchor="end" fill="#111" color="#111" stroke-width="0.18">15</text>
<text x="545.6" y="39.37" font-size="8.8" font-weight="bold" font-family='"Liberation Sans", sans-serif' text-anchor="end" fill="#111" color="#111" stroke-width="0.18">20</text>
<clipPath id="cIB"><rect x="548.6" y="36.2" width="115.5" height="97.6"/></clipPath>
<g clip-path="url(#cIB)">
<path d="M584.25 130.51L588.45 132.82L584.25 135.13Z" fill="#0000ff"/>
<path d="M584.98 129.21L589.18 131.52L584.98 133.83Z" fill="#0000ff"/>
<path d="M585.97 128.08L590.17 130.39L585.97 132.7Z" fill="#0000ff"/>
<path d="M587.1 127.09L591.3 129.4L587.1 131.71Z" fill="#0000ff"/>
<path d="M588.26 126.15L592.46 128.46L588.26 130.77Z" fill="#0000ff"/>
<path d="M589.4 125.17L593.6 127.48L589.4 129.79Z" fill="#0000ff"/>
<path d="M590.55 124.21L594.75 126.52L590.55 128.83Z" fill="#0000ff"/>
<path d="M591.76 123.33L595.96 125.64L591.76 127.95Z" fill="#0000ff"/>
<path d="M593.02 122.51L597.22 124.82L593.02 127.13Z" fill="#0000ff"/>
<path d="M594.29 121.71L598.49 124.02L594.29 126.33Z" fill="#0000ff"/>
<path d="M595.55 120.91L599.75 123.22L595.55 125.53Z" fill="#0000ff"/>
<path d="M596.83 120.12L601.03 122.43L596.83 124.74Z" fill="#0000ff"/>
<path d="M598.14 119.38L602.34 121.69L598.14 124Z" fill="#0000ff"/>
<path d="M606.77 115.39L610.97 117.7L606.77 120.01Z" fill="#0000ff"/>
<path d="M613.12 113.43L617.32 115.74L613.12 118.05Z" fill="#0000ff"/>
<path d="M617.74 110.99L621.94 113.3L617.74 115.61Z" fill="#0000ff"/>
<path d="M621.79 110.99L625.99 113.3L621.79 115.61Z" fill="#0000ff"/>
<path d="M629.87 106.6L634.07 108.91L629.87 111.22Z" fill="#0000ff"/>
<path d="M638.53 106.6L642.73 108.91L638.53 111.22Z" fill="#0000ff"/>
<path d="M646.04 103.19L650.24 105.5L646.04 107.81Z" fill="#0000ff"/>
<path d="M655.28 101.72L659.48 104.03L655.28 106.34Z" fill="#0000ff"/>
<circle cx="628.87" cy="132.82" r="1.6" fill="url(#gBk)"/>
<circle cx="629.95" cy="131.93" r="1.6" fill="url(#gBk)"/>
<circle cx="630.92" cy="130.92" r="1.6" fill="url(#gBk)"/>
<circle cx="631.8" cy="129.84" r="1.6" fill="url(#gBk)"/>
<circle cx="632.64" cy="128.72" r="1.6" fill="url(#gBk)"/>
<circle cx="633.47" cy="127.59" r="1.6" fill="url(#gBk)"/>
<circle cx="634.34" cy="126.49" r="1.6" fill="url(#gBk)"/>
<circle cx="635.28" cy="125.45" r="1.6" fill="url(#gBk)"/>
<circle cx="636.32" cy="124.52" r="1.6" fill="url(#gBk)"/>
<circle cx="637.5" cy="123.76" r="1.6" fill="url(#gBk)"/>
<circle cx="638.78" cy="123.21" r="1.6" fill="url(#gBk)"/>
<circle cx="642.73" cy="122.09" r="1.6" fill="url(#gBk)"/>
<circle cx="646.77" cy="121.11" r="1.6" fill="url(#gBk)"/>
<circle cx="650.24" cy="120.14" r="1.6" fill="url(#gBk)"/>
<circle cx="653.71" cy="118.67" r="1.6" fill="url(#gBk)"/>
<circle cx="657.75" cy="116.72" r="1.6" fill="url(#gBk)"/>
<circle cx="661.21" cy="114.77" r="1.6" fill="url(#gBk)"/>
<circle cx="664.1" cy="112.82" r="1.6" fill="url(#gBk)"/>
<circle cx="591.34" cy="132.34" r="1.7" fill="url(#gOr)"/>
<circle cx="600.58" cy="126.97" r="1.7" fill="url(#gOr)"/>
<circle cx="608.08" cy="125.02" r="1.7" fill="url(#gOr)"/>
<circle cx="609.55" cy="125.31" r="1.7" fill="url(#gOr)"/>
<circle cx="610.99" cy="125.75" r="1.7" fill="url(#gOr)"/>
<circle cx="612.37" cy="126.32" r="1.7" fill="url(#gOr)"/>
<circle cx="613.71" cy="127.01" r="1.7" fill="url(#gOr)"/>
<circle cx="615" cy="127.77" r="1.7" fill="url(#gOr)"/>
<circle cx="616.25" cy="128.59" r="1.7" fill="url(#gOr)"/>
<circle cx="617.49" cy="129.43" r="1.7" fill="url(#gOr)"/>
<circle cx="618.78" cy="130.21" r="1.7" fill="url(#gOr)"/>
<circle cx="620.17" cy="130.76" r="1.7" fill="url(#gOr)"/>
<circle cx="621.66" cy="130.88" r="1.7" fill="url(#gOr)"/>
<circle cx="623.11" cy="130.53" r="1.7" fill="url(#gOr)"/>
<circle cx="624.4" cy="129.78" r="1.7" fill="url(#gOr)"/>
<circle cx="625.41" cy="128.68" r="1.7" fill="url(#gOr)"/>
<circle cx="626.25" cy="127.43" r="1.7" fill="url(#gOr)"/>
<circle cx="627.1" cy="126.2" r="1.7" fill="url(#gOr)"/>
<circle cx="628.15" cy="125.14" r="1.7" fill="url(#gOr)"/>
<circle cx="632.92" cy="123.06" r="1.7" fill="url(#gOr)"/>
<circle cx="637.53" cy="120.62" r="1.7" fill="url(#gOr)"/>
<circle cx="643.31" cy="118.67" r="1.7" fill="url(#gOr)"/>
<circle cx="646.77" cy="115.74" r="1.7" fill="url(#gOr)"/>
<circle cx="651.39" cy="113.3" r="1.7" fill="url(#gOr)"/>
<circle cx="654.86" cy="111.84" r="1.7" fill="url(#gOr)"/>
<circle cx="658.33" cy="109.89" r="1.7" fill="url(#gOr)"/>
<circle cx="603.46" cy="132.82" r="1.8" fill="url(#gGr)"/>
<circle cx="604.26" cy="131.68" r="1.8" fill="url(#gGr)"/>
<circle cx="604.9" cy="130.43" r="1.8" fill="url(#gGr)"/>
<circle cx="605.47" cy="129.15" r="1.8" fill="url(#gGr)"/>
<circle cx="606.02" cy="127.87" r="1.8" fill="url(#gGr)"/>
<circle cx="606.62" cy="126.6" r="1.8" fill="url(#gGr)"/>
<circle cx="607.35" cy="125.41" r="1.8" fill="url(#gGr)"/>
<circle cx="608.27" cy="124.35" r="1.8" fill="url(#gGr)"/>
<circle cx="609.42" cy="123.57" r="1.8" fill="url(#gGr)"/>
<circle cx="610.75" cy="123.15" r="1.8" fill="url(#gGr)"/>
<circle cx="615.01" cy="121.6" r="1.8" fill="url(#gGr)"/>
<circle cx="617.9" cy="119.65" r="1.8" fill="url(#gGr)"/>
<circle cx="620.79" cy="115.26" r="1.8" fill="url(#gGr)"/>
<circle cx="625.99" cy="113.79" r="1.8" fill="url(#gGr)"/>
<circle cx="632.34" cy="111.84" r="1.8" fill="url(#gGr)"/>
<circle cx="638.69" cy="105.98" r="1.8" fill="url(#gGr)"/>
<circle cx="645.04" cy="101.59" r="1.8" fill="url(#gGr)"/>
<circle cx="654.86" cy="97.69" r="1.8" fill="url(#gGr)"/>
<path d="M585.56 133.8 L585.69 133.62 L585.81 133.43 L585.94 133.25 L586.07 133.07 L586.2 132.89 L586.33 132.71 L586.46 132.54 L586.6 132.36 L586.73 132.19 L586.87 132.01 L587 131.84 L587.14 131.67 L587.28 131.5 L587.42 131.34 L587.56 131.17 L587.71 131 L587.85 130.84 L587.99 130.67 L588.14 130.51 L588.29 130.35 L588.44 130.19 L588.58 130.03 L588.73 129.87 L588.89 129.72 L589.04 129.56 L589.19 129.41 L589.35 129.26 L589.5 129.1 L589.66 128.95 L589.81 128.8 L589.97 128.65 L590.13 128.51 L590.29 128.36 L590.45 128.21 L590.61 128.07 L590.78 127.92 L590.94 127.78 L591.1 127.64 L591.27 127.5 L591.44 127.36 L591.6 127.22 L591.77 127.08 L591.94 126.95 L592.11 126.81 L592.28 126.68 L592.45 126.54 L592.62 126.41 L592.79 126.28 L592.97 126.15 L593.14 126.02 L593.32 125.89 L593.49 125.76 L593.67 125.63 L593.84 125.51 L594.02 125.38 L594.2 125.26 L594.38 125.13 L594.56 125.01 L594.74 124.89 L594.92 124.77 L595.1 124.65 L595.28 124.53 L595.47 124.41 L595.65 124.29 L595.83 124.18 L596.02 124.06 L596.2 123.94 L596.39 123.83 L596.58 123.72 L596.76 123.6 L596.95 123.49 L597.14 123.38 L597.33 123.27 L597.52 123.16 L597.71 123.05 L597.89 122.94 L598.09 122.83 L598.28 122.73 L598.47 122.62 L598.66 122.52 L598.85 122.41 L599.04 122.31 L599.24 122.2 L599.43 122.1 L599.62 122 L599.82 121.9 L600.01 121.8 L600.21 121.7 L600.4 121.6 L600.6 121.5 L600.79 121.4 L600.99 121.3 L601.19 121.21 L601.38 121.11 L601.58 121.01 L601.78 120.92 L601.98 120.83 L602.17 120.73 L602.37 120.64 L602.57 120.55 L602.77 120.45 L602.97 120.36 L603.17 120.27 L603.37 120.18 L603.57 120.09 L603.77 120 L603.97 119.91 L604.17 119.82 L604.37 119.73 L604.57 119.65 L604.77 119.56 L604.97 119.47 L605.17 119.39 L605.37 119.3 L605.57 119.22 L605.77 119.13 L605.97 119.05 L606.17 118.96 L606.38 118.88 L606.58 118.8 L606.78 118.72 L606.98 118.63 L607.18 118.55 L607.39 118.47 L607.59 118.39 L607.79 118.31 L607.99 118.23 L608.2 118.15 L608.4 118.07 L608.6 118 L608.81 117.92 L609.01 117.84 L609.21 117.76 L609.42 117.69 L609.62 117.61 L609.83 117.53 L610.03 117.46 L610.24 117.38 L610.44 117.31 L610.64 117.23 L610.85 117.16 L611.05 117.08 L611.26 117.01 L611.46 116.94 L611.67 116.87 L611.87 116.79 L612.08 116.72 L612.29 116.65 L612.49 116.58 L612.7 116.51 L612.9 116.44 L613.11 116.36 L613.31 116.29 L613.52 116.22 L613.73 116.16 L613.93 116.09 L614.14 116.02 L614.35 115.95 L614.55 115.88 L614.76 115.81 L614.97 115.74 L615.17 115.68 L615.38 115.61 L615.59 115.54 L615.79 115.47 L616 115.41 L616.21 115.34 L616.42 115.28 L616.62 115.21 L616.83 115.14 L617.04 115.08 L617.25 115.01 L617.45 114.95 L617.66 114.88 L617.87 114.82 L618.08 114.75 L618.29 114.69 L618.49 114.63 L618.7 114.56 L618.91 114.5 L619.12 114.44 L619.33 114.37 L619.53 114.31 L619.74 114.25 L619.95 114.18 L620.16 114.12 L620.37 114.06 L620.58 114 L620.79 113.93 L620.99 113.87 L621.2 113.81 L621.41 113.75 L621.62 113.69 L621.83 113.63 L622.04 113.57 L622.25 113.5 L622.46 113.44 L622.66 113.38 L622.87 113.32 L623.08 113.26 L623.29 113.2 L623.5 113.14 L623.71 113.08 L623.92 113.02 L624.13 112.96 L624.34 112.9 L624.55 112.84 L624.76 112.78 L624.97 112.72 L625.18 112.66 L625.38 112.6 L625.59 112.54 L625.8 112.48 L626.01 112.42 L626.22 112.37 L626.43 112.31 L626.64 112.25 L626.85 112.19 L627.06 112.13 L627.27 112.07 L627.48 112.01 L627.69 111.96 L627.9 111.9 L628.11 111.84 L628.32 111.78 L628.53 111.72 L628.74 111.66 L628.95 111.61 L629.16 111.55 L629.37 111.49 L629.58 111.43 L629.79 111.37 L630 111.32 L630.21 111.26 L630.42 111.2 L630.63 111.14 L630.84 111.09 L631.05 111.03 L631.26 110.97 L631.47 110.91 L631.68 110.86 L631.89 110.8 L632.1 110.74 L632.31 110.68 L632.52 110.63 L632.73 110.57 L632.94 110.51 L633.15 110.45 L633.36 110.4 L633.57 110.34 L633.78 110.28 L633.99 110.22 L634.2 110.17 L634.41 110.11 L634.62 110.05 L634.83 110 L635.04 109.94 L635.25 109.88 L635.46 109.82 L635.67 109.77 L635.88 109.71 L636.09 109.65 L636.3 109.59 L636.51 109.54 L636.72 109.48 L636.93 109.42 L637.14 109.36 L637.35 109.31 L637.56 109.25 L637.77 109.19 L637.98 109.13 L638.19 109.08 L638.4 109.02 L638.62 108.96 L638.83 108.91 L639.04 108.85 L639.25 108.79 L639.46 108.73 L639.67 108.68 L639.88 108.62 L640.09 108.56 L640.3 108.51 L640.51 108.45 L640.72 108.39 L640.93 108.34 L641.14 108.28 L641.35 108.23 L641.56 108.17 L641.77 108.11 L641.98 108.06 L642.19 108 L642.4 107.95 L642.61 107.89 L642.82 107.83 L643.03 107.78 L643.25 107.72 L643.46 107.67 L643.67 107.61 L643.88 107.56 L644.09 107.5 L644.3 107.45 L644.51 107.4 L644.72 107.34 L644.93 107.29 L645.14 107.23 L645.35 107.18 L645.57 107.13 L645.78 107.07 L645.99 107.02 L646.2 106.97 L646.41 106.92 L646.62 106.86 L646.83 106.81 L647.04 106.76 L647.26 106.71 L647.47 106.66 L647.68 106.6 L647.89 106.55 L648.1 106.5 L648.31 106.45 L648.53 106.4 L648.74 106.35 L648.95 106.3 L649.16 106.25 L649.37 106.2 L649.58 106.15 L649.8 106.1 L650.01 106.06 L650.22 106.01 L650.43 105.96 L650.65 105.91 L650.86 105.86 L651.07 105.82 L651.28 105.77 L651.49 105.72 L651.71 105.68 L651.92 105.63 L652.13 105.58 L652.35 105.54 L652.56 105.49 L652.77 105.45 L652.98 105.41 L653.2 105.36 L653.41 105.32 L653.62 105.27 L653.84 105.23 L654.05 105.19 L654.26 105.15 L654.48 105.1 L654.69 105.06 L654.9 105.02 L655.12 104.98 L655.33 104.94 L655.54 104.9 L655.76 104.86 L655.97 104.82 L656.19 104.78 L656.4 104.74 L656.61 104.7 L656.83 104.67 L657.04 104.63 L657.26 104.59 L657.47 104.55 L657.69 104.52 L657.9 104.48 L658.12 104.45 L658.33 104.41 L658.55 104.38 L658.76 104.34 L658.98 104.31 L659.19 104.28 L659.41 104.24 L659.62 104.21 L659.84 104.18 L660.05 104.15 L660.27 104.12 L660.48 104.09 L660.7 104.06 L660.92 104.03 L661.13 104 L661.35 103.97 L661.56 103.94 L661.78 103.91 L662 103.89 L662.21 103.86 L662.43 103.83 L662.65 103.81 L662.86 103.78 L663.08 103.76 L663.3 103.74 L663.51 103.71 L663.73 103.69 L663.95 103.67 L664.17 103.64 L664.38 103.62 L664.6 103.6 L664.82 103.58 L665.04 103.56 L665.25 103.54" fill="none" stroke="#111" stroke-width="1.2" stroke-linejoin="round"/>
<path d="M602.88 133.8 L602.98 133.63 L603.07 133.47 L603.17 133.3 L603.27 133.14 L603.36 132.97 L603.46 132.81 L603.56 132.64 L603.66 132.48 L603.75 132.31 L603.85 132.15 L603.95 131.99 L604.05 131.82 L604.15 131.66 L604.26 131.49 L604.36 131.33 L604.46 131.17 L604.56 131 L604.67 130.84 L604.77 130.68 L604.88 130.51 L604.98 130.35 L605.09 130.19 L605.19 130.03 L605.3 129.87 L605.41 129.7 L605.52 129.54 L605.63 129.38 L605.73 129.22 L605.84 129.06 L605.95 128.9 L606.06 128.74 L606.18 128.58 L606.29 128.42 L606.4 128.26 L606.51 128.1 L606.63 127.94 L606.74 127.78 L606.85 127.63 L606.97 127.47 L607.08 127.31 L607.2 127.15 L607.32 127 L607.43 126.84 L607.55 126.68 L607.67 126.53 L607.79 126.37 L607.91 126.22 L608.03 126.06 L608.15 125.91 L608.27 125.75 L608.39 125.6 L608.51 125.45 L608.64 125.29 L608.76 125.14 L608.88 124.99 L609.01 124.84 L609.13 124.69 L609.26 124.54 L609.38 124.39 L609.51 124.24 L609.63 124.09 L609.76 123.94 L609.89 123.79 L610.02 123.64 L610.15 123.49 L610.28 123.35 L610.41 123.2 L610.54 123.06 L610.67 122.91 L610.8 122.77 L610.93 122.62 L611.06 122.48 L611.2 122.33 L611.33 122.19 L611.46 122.05 L611.6 121.91 L611.73 121.77 L611.87 121.63 L612.01 121.49 L612.14 121.35 L612.28 121.21 L612.42 121.07 L612.56 120.93 L612.69 120.79 L612.83 120.66 L612.97 120.52 L613.11 120.39 L613.26 120.25 L613.4 120.12 L613.54 119.98 L613.68 119.85 L613.82 119.72 L613.97 119.59 L614.11 119.46 L614.26 119.33 L614.4 119.2 L614.55 119.07 L614.69 118.94 L614.84 118.81 L614.99 118.69 L615.14 118.56 L615.28 118.44 L615.43 118.31 L615.58 118.19 L615.73 118.07 L615.88 117.94 L616.03 117.82 L616.18 117.7 L616.34 117.58 L616.49 117.46 L616.64 117.34 L616.8 117.23 L616.95 117.11 L617.1 116.99 L617.26 116.88 L617.41 116.76 L617.57 116.65 L617.73 116.54 L617.88 116.42 L618.04 116.31 L618.2 116.2 L618.36 116.09 L618.52 115.98 L618.68 115.88 L618.84 115.77 L619 115.66 L619.16 115.56 L619.32 115.45 L619.48 115.35 L619.65 115.25 L619.81 115.15 L619.97 115.04 L620.14 114.94 L620.3 114.85 L620.47 114.75 L620.63 114.65 L620.8 114.55 L620.97 114.46 L621.13 114.36 L621.3 114.27 L621.47 114.17 L621.64 114.08 L621.81 113.99 L621.98 113.9 L622.15 113.81 L622.32 113.72 L622.49 113.63 L622.66 113.54 L622.83 113.45 L623 113.37 L623.17 113.28 L623.35 113.19 L623.52 113.11 L623.69 113.02 L623.87 112.94 L624.04 112.86 L624.21 112.77 L624.39 112.69 L624.56 112.61 L624.74 112.53 L624.91 112.45 L625.09 112.37 L625.27 112.29 L625.44 112.21 L625.62 112.13 L625.79 112.05 L625.97 111.97 L626.15 111.89 L626.33 111.82 L626.5 111.74 L626.68 111.66 L626.86 111.59 L627.04 111.51 L627.22 111.43 L627.4 111.36 L627.58 111.28 L627.75 111.21 L627.93 111.14 L628.11 111.06 L628.29 110.99 L628.47 110.91 L628.65 110.84 L628.83 110.77 L629.01 110.7 L629.19 110.62 L629.37 110.55 L629.55 110.48 L629.73 110.41 L629.92 110.33 L630.1 110.26 L630.28 110.19 L630.46 110.12 L630.64 110.05 L630.82 109.98 L631 109.91 L631.18 109.83 L631.36 109.76 L631.55 109.69 L631.73 109.62 L631.91 109.55 L632.09 109.48 L632.27 109.41 L632.45 109.34 L632.63 109.26 L632.81 109.19 L633 109.12 L633.18 109.05 L633.36 108.98 L633.54 108.91 L633.72 108.84 L633.9 108.76 L634.08 108.69 L634.26 108.62 L634.44 108.55 L634.62 108.47 L634.8 108.4 L634.98 108.33 L635.17 108.25 L635.35 108.18 L635.53 108.11 L635.71 108.03 L635.89 107.96 L636.06 107.88 L636.24 107.81 L636.42 107.73 L636.6 107.66 L636.78 107.58 L636.96 107.51 L637.14 107.43 L637.32 107.35 L637.5 107.27 L637.67 107.2 L637.85 107.12 L638.03 107.04 L638.21 106.96 L638.38 106.88 L638.56 106.8 L638.74 106.72 L638.91 106.64 L639.09 106.56 L639.26 106.47 L639.44 106.39 L639.61 106.31 L639.79 106.22 L639.96 106.14 L640.14 106.06 L640.31 105.97 L640.48 105.88 L640.66 105.8 L640.83 105.71 L641 105.62 L641.18 105.54 L641.35 105.45 L641.52 105.36 L641.69 105.27 L641.86 105.18 L642.03 105.09 L642.21 105 L642.38 104.91 L642.55 104.82 L642.72 104.72 L642.89 104.63 L643.06 104.54 L643.23 104.45 L643.4 104.35 L643.56 104.26 L643.73 104.16 L643.9 104.07 L644.07 103.97 L644.24 103.88 L644.41 103.78 L644.58 103.69 L644.74 103.59 L644.91 103.49 L645.08 103.39 L645.24 103.3 L645.41 103.2 L645.58 103.1 L645.75 103 L645.91 102.9 L646.08 102.8 L646.24 102.7 L646.41 102.6 L646.58 102.5 L646.74 102.4 L646.91 102.3 L647.07 102.2 L647.24 102.1 L647.4 102 L647.57 101.89 L647.73 101.79 L647.89 101.69 L648.06 101.59 L648.22 101.48 L648.39 101.38 L648.55 101.28 L648.71 101.17 L648.88 101.07 L649.04 100.96 L649.2 100.86 L649.37 100.75 L649.53 100.65 L649.69 100.54 L649.86 100.44 L650.02 100.33 L650.18 100.23 L650.35 100.12 L650.51 100.01 L650.67 99.91 L650.83 99.8 L650.99 99.7 L651.16 99.59 L651.32 99.48 L651.48 99.38 L651.64 99.27 L651.8 99.16 L651.97 99.05 L652.13 98.95 L652.29 98.84 L652.45 98.73 L652.61 98.62 L652.77 98.51 L652.93 98.41 L653.1 98.3 L653.26 98.19 L653.42 98.08 L653.58 97.97 L653.74 97.87 L653.9 97.76 L654.06 97.65 L654.22 97.54 L654.38 97.43 L654.55 97.32 L654.71 97.21 L654.87 97.11 L655.03 97 L655.19 96.89 L655.35 96.78 L655.51 96.67 L655.67 96.56 L655.83 96.45 L655.99 96.35 L656.15 96.24 L656.31 96.13 L656.48 96.02 L656.64 95.91 L656.8 95.8 L656.96 95.69 L657.12 95.59 L657.28 95.48 L657.44 95.37 L657.6 95.26 L657.76 95.15 L657.92 95.05 L658.09 94.94 L658.25 94.83 L658.41 94.72 L658.57 94.62 L658.73 94.51 L658.89 94.4 L659.05 94.29 L659.21 94.19 L659.38 94.08 L659.54 93.97 L659.7 93.87 L659.86 93.76 L660.02 93.65 L660.18 93.55 L660.35 93.44 L660.51 93.34 L660.67 93.23 L660.83 93.12 L660.99 93.02 L661.16 92.91 L661.32 92.81 L661.48 92.7 L661.64 92.6 L661.81 92.5 L661.97 92.39 L662.13 92.29 L662.3 92.18 L662.46 92.08 L662.62 91.98 L662.79 91.88 L662.95 91.77 L663.11 91.67 L663.28 91.57 L663.44 91.47 L663.61 91.37 L663.77 91.26 L663.93 91.16 L664.1 91.06 L664.26 90.96 L664.43 90.86 L664.59 90.76 L664.76 90.66 L664.92 90.56 L665.09 90.47 L665.25 90.37" fill="none" stroke="#111" stroke-width="1.2" stroke-linejoin="round"/>
<path d="M590.18 133.8 L590.29 133.63 L590.41 133.47 L590.53 133.3 L590.65 133.14 L590.78 132.97 L590.9 132.81 L591.03 132.64 L591.16 132.48 L591.29 132.32 L591.43 132.16 L591.56 132 L591.7 131.84 L591.84 131.68 L591.99 131.52 L592.13 131.36 L592.28 131.21 L592.43 131.05 L592.58 130.9 L592.73 130.75 L592.88 130.59 L593.04 130.44 L593.2 130.29 L593.35 130.14 L593.52 130 L593.68 129.85 L593.84 129.7 L594.01 129.56 L594.18 129.42 L594.35 129.28 L594.52 129.14 L594.69 129 L594.86 128.86 L595.04 128.73 L595.21 128.59 L595.39 128.46 L595.57 128.33 L595.75 128.2 L595.93 128.07 L596.12 127.95 L596.3 127.82 L596.49 127.7 L596.67 127.58 L596.86 127.46 L597.05 127.34 L597.24 127.23 L597.43 127.11 L597.63 127 L597.82 126.89 L598.01 126.79 L598.21 126.68 L598.41 126.58 L598.6 126.48 L598.8 126.38 L599 126.28 L599.2 126.19 L599.4 126.09 L599.6 126.01 L599.81 125.92 L600.01 125.83 L600.21 125.75 L600.42 125.67 L600.62 125.59 L600.83 125.52 L601.03 125.44 L601.24 125.37 L601.45 125.3 L601.65 125.24 L601.86 125.18 L602.07 125.12 L602.28 125.06 L602.49 125 L602.7 124.95 L602.91 124.9 L603.12 124.86 L603.33 124.81 L603.54 124.77 L603.75 124.74 L603.96 124.7 L604.18 124.67 L604.39 124.64 L604.6 124.62 L604.81 124.59 L605.02 124.57 L605.23 124.56 L605.45 124.55 L605.66 124.54 L605.87 124.53 L606.08 124.53 L606.29 124.53 L606.5 124.53 L606.71 124.54 L606.93 124.55 L607.14 124.56 L607.35 124.58 L607.56 124.6 L607.77 124.62 L607.98 124.65 L608.19 124.68 L608.4 124.72 L608.6 124.76 L608.81 124.8 L609.02 124.84 L609.23 124.89 L609.43 124.94 L609.64 125 L609.85 125.05 L610.05 125.12 L610.26 125.18 L610.46 125.25 L610.67 125.32 L610.87 125.4 L611.07 125.48 L611.28 125.56 L611.48 125.65 L611.68 125.74 L611.88 125.83 L612.08 125.93 L612.28 126.03 L612.48 126.13 L612.67 126.24 L612.87 126.35 L613.07 126.47 L613.26 126.58 L613.46 126.7 L613.65 126.83 L613.84 126.96 L614.04 127.09 L614.23 127.23 L614.42 127.36 L614.61 127.51 L614.8 127.65 L614.98 127.79 L615.17 127.94 L615.36 128.09 L615.54 128.24 L615.73 128.39 L615.91 128.53 L616.1 128.68 L616.28 128.83 L616.46 128.98 L616.65 129.13 L616.83 129.27 L617.01 129.41 L617.19 129.55 L617.37 129.69 L617.55 129.83 L617.73 129.96 L617.91 130.09 L618.09 130.21 L618.26 130.33 L618.44 130.44 L618.62 130.55 L618.8 130.66 L618.97 130.76 L619.15 130.85 L619.33 130.94 L619.5 131.02 L619.68 131.09 L619.85 131.15 L620.03 131.21 L620.21 131.26 L620.38 131.3 L620.56 131.33 L620.73 131.35 L620.91 131.37 L621.08 131.37 L621.26 131.37 L621.43 131.35 L621.61 131.33 L621.78 131.3 L621.96 131.26 L622.13 131.21 L622.31 131.15 L622.49 131.09 L622.66 131.02 L622.84 130.94 L623.01 130.86 L623.19 130.77 L623.36 130.67 L623.54 130.57 L623.72 130.46 L623.89 130.35 L624.07 130.23 L624.24 130.11 L624.42 129.98 L624.6 129.85 L624.77 129.71 L624.95 129.57 L625.13 129.43 L625.3 129.28 L625.48 129.13 L625.66 128.97 L625.84 128.82 L626.01 128.66 L626.19 128.5 L626.37 128.33 L626.55 128.17 L626.73 128 L626.91 127.84 L627.09 127.67 L627.27 127.5 L627.44 127.33 L627.62 127.16 L627.8 126.99 L627.99 126.82 L628.17 126.65 L628.35 126.49 L628.53 126.32 L628.71 126.16 L628.89 125.99 L629.07 125.83 L629.26 125.67 L629.44 125.51 L629.62 125.36 L629.81 125.21 L629.99 125.06 L630.17 124.91 L630.36 124.77 L630.54 124.62 L630.73 124.48 L630.91 124.35 L631.1 124.21 L631.28 124.08 L631.47 123.95 L631.66 123.82 L631.84 123.69 L632.03 123.57 L632.22 123.45 L632.41 123.33 L632.59 123.21 L632.78 123.09 L632.97 122.98 L633.16 122.86 L633.35 122.75 L633.54 122.64 L633.73 122.54 L633.92 122.43 L634.11 122.33 L634.3 122.22 L634.49 122.12 L634.68 122.02 L634.87 121.92 L635.06 121.83 L635.25 121.73 L635.44 121.64 L635.63 121.54 L635.83 121.45 L636.02 121.36 L636.21 121.27 L636.4 121.18 L636.59 121.1 L636.79 121.01 L636.98 120.93 L637.17 120.84 L637.36 120.76 L637.56 120.67 L637.75 120.59 L637.94 120.51 L638.14 120.43 L638.33 120.35 L638.53 120.27 L638.72 120.19 L638.91 120.12 L639.11 120.04 L639.3 119.96 L639.5 119.89 L639.69 119.81 L639.89 119.73 L640.08 119.66 L640.27 119.58 L640.47 119.51 L640.66 119.43 L640.86 119.36 L641.05 119.28 L641.25 119.21 L641.44 119.13 L641.64 119.06 L641.83 118.99 L642.03 118.91 L642.22 118.84 L642.42 118.76 L642.61 118.69 L642.81 118.61 L643.01 118.53 L643.2 118.46 L643.4 118.38 L643.59 118.3 L643.79 118.22 L643.98 118.15 L644.18 118.07 L644.37 117.99 L644.57 117.91 L644.76 117.83 L644.96 117.75 L645.15 117.66 L645.35 117.58 L645.54 117.5 L645.74 117.42 L645.93 117.33 L646.13 117.25 L646.32 117.16 L646.52 117.08 L646.71 116.99 L646.91 116.91 L647.1 116.82 L647.3 116.73 L647.49 116.65 L647.69 116.56 L647.88 116.47 L648.08 116.38 L648.27 116.29 L648.47 116.2 L648.66 116.11 L648.86 116.02 L649.05 115.93 L649.25 115.84 L649.44 115.75 L649.64 115.66 L649.83 115.57 L650.02 115.48 L650.22 115.38 L650.41 115.29 L650.61 115.2 L650.8 115.1 L651 115.01 L651.19 114.92 L651.39 114.82 L651.58 114.73 L651.77 114.63 L651.97 114.54 L652.16 114.45 L652.36 114.35 L652.55 114.25 L652.75 114.16 L652.94 114.06 L653.13 113.97 L653.33 113.87 L653.52 113.78 L653.72 113.68 L653.91 113.58 L654.1 113.49 L654.3 113.39 L654.49 113.29 L654.68 113.19 L654.88 113.1 L655.07 113 L655.26 112.9 L655.46 112.81 L655.65 112.71 L655.85 112.61 L656.04 112.51 L656.23 112.42 L656.43 112.32 L656.62 112.22 L656.81 112.12 L657 112.02 L657.2 111.93 L657.39 111.83 L657.58 111.73 L657.78 111.63 L657.97 111.54 L658.16 111.44 L658.36 111.34 L658.55 111.24 L658.74 111.15 L658.93 111.05 L659.13 110.95 L659.32 110.85 L659.51 110.76 L659.7 110.66 L659.9 110.56 L660.09 110.47 L660.28 110.37 L660.47 110.27 L660.66 110.18 L660.86 110.08 L661.05 109.99 L661.24 109.89 L661.43 109.79 L661.62 109.7 L661.82 109.6 L662.01 109.51 L662.2 109.41 L662.39 109.32 L662.58 109.23 L662.77 109.13 L662.96 109.04 L663.16 108.94 L663.35 108.85 L663.54 108.76 L663.73 108.67 L663.92 108.57 L664.11 108.48 L664.3 108.39 L664.49 108.3 L664.68 108.21 L664.87 108.12 L665.06 108.03 L665.25 107.94" fill="none" stroke="#111" stroke-width="1.2" stroke-linejoin="round"/>
<path d="M629.45 133.8 L629.49 133.69 L629.53 133.57 L629.58 133.46 L629.62 133.35 L629.67 133.24 L629.71 133.13 L629.76 133.02 L629.8 132.92 L629.85 132.81 L629.9 132.7 L629.95 132.6 L629.99 132.49 L630.04 132.39 L630.09 132.29 L630.15 132.18 L630.2 132.08 L630.25 131.98 L630.3 131.88 L630.36 131.78 L630.41 131.68 L630.46 131.58 L630.52 131.49 L630.58 131.39 L630.63 131.3 L630.69 131.2 L630.75 131.11 L630.81 131.01 L630.86 130.92 L630.92 130.83 L630.98 130.74 L631.04 130.64 L631.11 130.55 L631.17 130.46 L631.23 130.38 L631.29 130.29 L631.36 130.2 L631.42 130.11 L631.48 130.03 L631.55 129.94 L631.61 129.85 L631.68 129.77 L631.75 129.69 L631.81 129.6 L631.88 129.52 L631.95 129.44 L632.02 129.36 L632.09 129.28 L632.16 129.2 L632.23 129.12 L632.3 129.04 L632.37 128.96 L632.44 128.88 L632.51 128.8 L632.59 128.73 L632.66 128.65 L632.73 128.58 L632.81 128.5 L632.88 128.43 L632.96 128.35 L633.03 128.28 L633.11 128.21 L633.18 128.13 L633.26 128.06 L633.34 127.99 L633.41 127.92 L633.49 127.85 L633.57 127.78 L633.65 127.71 L633.73 127.64 L633.81 127.57 L633.89 127.51 L633.97 127.44 L634.05 127.37 L634.13 127.3 L634.21 127.24 L634.3 127.17 L634.38 127.11 L634.46 127.04 L634.54 126.98 L634.63 126.92 L634.71 126.85 L634.79 126.79 L634.88 126.73 L634.96 126.67 L635.05 126.6 L635.14 126.54 L635.22 126.48 L635.31 126.42 L635.39 126.36 L635.48 126.3 L635.57 126.24 L635.66 126.19 L635.74 126.13 L635.83 126.07 L635.92 126.01 L636.01 125.95 L636.1 125.9 L636.19 125.84 L636.28 125.79 L636.37 125.73 L636.46 125.67 L636.55 125.62 L636.64 125.56 L636.73 125.51 L636.82 125.46 L636.91 125.4 L637 125.35 L637.1 125.3 L637.19 125.24 L637.28 125.19 L637.37 125.14 L637.47 125.09 L637.56 125.04 L637.65 124.98 L637.75 124.93 L637.84 124.88 L637.94 124.83 L638.03 124.78 L638.12 124.73 L638.22 124.68 L638.31 124.63 L638.41 124.58 L638.5 124.53 L638.6 124.49 L638.7 124.44 L638.79 124.39 L638.89 124.34 L638.98 124.29 L639.08 124.25 L639.18 124.2 L639.27 124.15 L639.37 124.1 L639.47 124.06 L639.56 124.01 L639.66 123.96 L639.76 123.92 L639.86 123.87 L639.95 123.83 L640.05 123.78 L640.15 123.73 L640.25 123.69 L640.35 123.64 L640.44 123.6 L640.54 123.55 L640.64 123.51 L640.74 123.46 L640.84 123.42 L640.94 123.37 L641.04 123.33 L641.13 123.29 L641.23 123.24 L641.33 123.2 L641.43 123.15 L641.53 123.11 L641.63 123.07 L641.73 123.02 L641.83 122.98 L641.93 122.94 L642.03 122.89 L642.13 122.85 L642.23 122.81 L642.32 122.76 L642.42 122.72 L642.52 122.68 L642.62 122.63 L642.72 122.59 L642.82 122.55 L642.92 122.5 L643.02 122.46 L643.12 122.42 L643.22 122.38 L643.32 122.33 L643.42 122.29 L643.52 122.25 L643.62 122.2 L643.72 122.16 L643.82 122.12 L643.92 122.08 L644.01 122.03 L644.11 121.99 L644.21 121.95 L644.31 121.9 L644.41 121.86 L644.51 121.82 L644.61 121.77 L644.71 121.73 L644.81 121.69 L644.91 121.65 L645 121.6 L645.1 121.56 L645.2 121.52 L645.3 121.47 L645.4 121.43 L645.5 121.39 L645.6 121.34 L645.69 121.3 L645.79 121.26 L645.89 121.21 L645.99 121.17 L646.09 121.13 L646.19 121.08 L646.29 121.04 L646.38 121 L646.48 120.95 L646.58 120.91 L646.68 120.87 L646.78 120.82 L646.87 120.78 L646.97 120.73 L647.07 120.69 L647.17 120.65 L647.27 120.6 L647.36 120.56 L647.46 120.52 L647.56 120.47 L647.66 120.43 L647.76 120.38 L647.85 120.34 L647.95 120.3 L648.05 120.25 L648.15 120.21 L648.24 120.17 L648.34 120.12 L648.44 120.08 L648.54 120.03 L648.63 119.99 L648.73 119.95 L648.83 119.9 L648.93 119.86 L649.02 119.81 L649.12 119.77 L649.22 119.72 L649.31 119.68 L649.41 119.64 L649.51 119.59 L649.61 119.55 L649.7 119.5 L649.8 119.46 L649.9 119.41 L649.99 119.37 L650.09 119.33 L650.19 119.28 L650.29 119.24 L650.38 119.19 L650.48 119.15 L650.58 119.1 L650.67 119.06 L650.77 119.01 L650.87 118.97 L650.96 118.92 L651.06 118.88 L651.16 118.83 L651.25 118.79 L651.35 118.74 L651.45 118.7 L651.54 118.65 L651.64 118.61 L651.74 118.56 L651.83 118.52 L651.93 118.47 L652.03 118.43 L652.12 118.38 L652.22 118.34 L652.32 118.29 L652.41 118.25 L652.51 118.2 L652.61 118.16 L652.7 118.11 L652.8 118.07 L652.89 118.02 L652.99 117.98 L653.09 117.93 L653.18 117.89 L653.28 117.84 L653.38 117.79 L653.47 117.75 L653.57 117.7 L653.66 117.66 L653.76 117.61 L653.86 117.57 L653.95 117.52 L654.05 117.47 L654.15 117.43 L654.24 117.38 L654.34 117.34 L654.43 117.29 L654.53 117.25 L654.63 117.2 L654.72 117.15 L654.82 117.11 L654.91 117.06 L655.01 117.01 L655.11 116.97 L655.2 116.92 L655.3 116.88 L655.39 116.83 L655.49 116.78 L655.59 116.74 L655.68 116.69 L655.78 116.64 L655.87 116.6 L655.97 116.55 L656.06 116.5 L656.16 116.46 L656.26 116.41 L656.35 116.36 L656.45 116.32 L656.54 116.27 L656.64 116.22 L656.74 116.18 L656.83 116.13 L656.93 116.08 L657.02 116.04 L657.12 115.99 L657.21 115.94 L657.31 115.9 L657.41 115.85 L657.5 115.8 L657.6 115.75 L657.69 115.71 L657.79 115.66 L657.88 115.61 L657.98 115.57 L658.08 115.52 L658.17 115.47 L658.27 115.42 L658.36 115.38 L658.46 115.33 L658.55 115.28 L658.65 115.23 L658.74 115.19 L658.84 115.14 L658.94 115.09 L659.03 115.04 L659.13 114.99 L659.22 114.95 L659.32 114.9 L659.41 114.85 L659.51 114.8 L659.61 114.75 L659.7 114.71 L659.8 114.66 L659.89 114.61 L659.99 114.56 L660.08 114.51 L660.18 114.47 L660.28 114.42 L660.37 114.37 L660.47 114.32 L660.56 114.27 L660.66 114.22 L660.75 114.17 L660.85 114.13 L660.94 114.08 L661.04 114.03 L661.14 113.98 L661.23 113.93 L661.33 113.88 L661.42 113.83 L661.52 113.78 L661.61 113.74 L661.71 113.69 L661.81 113.64 L661.9 113.59 L662 113.54 L662.09 113.49 L662.19 113.44 L662.28 113.39 L662.38 113.34 L662.48 113.29 L662.57 113.24 L662.67 113.19 L662.76 113.14 L662.86 113.09 L662.95 113.05 L663.05 113 L663.15 112.95 L663.24 112.9 L663.34 112.85 L663.43 112.8 L663.53 112.75 L663.62 112.7 L663.72 112.65 L663.82 112.6 L663.91 112.55 L664.01 112.5 L664.1 112.45 L664.2 112.4 L664.3 112.35 L664.39 112.3 L664.49 112.24 L664.58 112.19 L664.68 112.14 L664.78 112.09 L664.87 112.04 L664.97 111.99 L665.06 111.94 L665.16 111.89 L665.25 111.84" fill="none" stroke="#111" stroke-width="1.2" stroke-linejoin="round"/>
</g>
<circle cx="559.8" cy="52.8" r="1.8" fill="url(#gBk)"/>
<circle cx="559.8" cy="62.3" r="1.8" fill="url(#gOr)"/>
<path d="M558.31 68.89L562.51 71.2L558.31 73.51Z" fill="#0000ff"/>
<circle cx="559.8" cy="80.1" r="1.8" fill="url(#gGr)"/>
<path d="M551.5 89.6H567" stroke="#222" stroke-width="1.1"/>
<text x="567.3" y="55.4" font-size="6.7" font-weight="bold" font-family='"Liberation Sans", sans-serif' text-anchor="start" fill="#222" color="#222" stroke-width="0.13">5GDC</text>
<text x="569.7" y="64.8" font-size="6.7" font-weight="bold" font-family='"Liberation Sans", sans-serif' text-anchor="start" fill="#222" color="#222" stroke-width="0.13">10GDC</text>
<text x="569.7" y="73.7" font-size="6.7" font-weight="bold" font-family='"Liberation Sans", sans-serif' text-anchor="start" fill="#222" color="#222" stroke-width="0.13">15GDC</text>
<text x="569.7" y="82.6" font-size="6.7" font-weight="bold" font-family='"Liberation Sans", sans-serif' text-anchor="start" fill="#222" color="#222" stroke-width="0.13">20GDC</text>
<text x="568.5" y="92.1" font-size="6.7" font-weight="bold" font-family='"Liberation Sans", sans-serif' text-anchor="start" fill="#222" color="#222" stroke-width="0.13">Fitted Data</text>
<text x="606.5" y="156.6" font-size="8.4" font-weight="bold" font-family='"Liberation Serif", serif' text-anchor="middle" fill="#222" color="#222" stroke-width="0.17">Z' (&#937;)</text>
<text x="533.6" y="84.5" font-size="9.2" font-weight="bold" font-family='"Liberation Serif", serif' text-anchor="middle" fill="#222" color="#222" stroke-width="0.18" transform="rotate(-90 533.6 84.5)">-Z'' (&#937;)</text>
<text x="414.2" y="35.3" font-size="18.2" font-weight="bold" font-family='"Liberation Sans", sans-serif' text-anchor="start" fill="#111" color="#111" stroke-width="0.36">(b)</text>
<text x="601" y="24.4" font-size="12.2" font-weight="bold" font-family='"Liberation Sans", sans-serif' text-anchor="start" fill="#111" color="#111" stroke-width="0.24">650&#176;C</text>
<circle cx="417.6" cy="55.5" r="3.8" fill="url(#gBk)"/>
<circle cx="417.6" cy="67" r="3.8" fill="url(#gOr)"/>
<path d="M414.82 74.08L423.22 78.7L414.82 83.32Z" fill="#0000ff"/>
<circle cx="417.6" cy="90.2" r="3.8" fill="url(#gGr)"/>
<path d="M407.4 101.4H428.5" stroke="#111" stroke-width="2"/>
<text x="427.9" y="58.7" font-size="8.8" font-weight="bold" font-family='"Liberation Sans", sans-serif' text-anchor="start" fill="#111" color="#111" stroke-width="0.18">5GDC</text>
<text x="430.4" y="70.2" font-size="8.8" font-weight="bold" font-family='"Liberation Sans", sans-serif' text-anchor="start" fill="#111" color="#111" stroke-width="0.18">10GDC</text>
<text x="430.4" y="81.9" font-size="8.8" font-weight="bold" font-family='"Liberation Sans", sans-serif' text-anchor="start" fill="#111" color="#111" stroke-width="0.18">15GDC</text>
<text x="430.4" y="93.4" font-size="8.8" font-weight="bold" font-family='"Liberation Sans", sans-serif' text-anchor="start" fill="#111" color="#111" stroke-width="0.18">20GDC</text>
<text x="430.4" y="104.6" font-size="8.8" font-weight="bold" font-family='"Liberation Sans", sans-serif' text-anchor="start" fill="#111" color="#111" stroke-width="0.18">Fitted Data</text>
<text x="537.4" y="275.9" font-size="13.6" font-weight="bold" font-family='"Liberation Serif", serif' text-anchor="middle" fill="#111" color="#111" stroke-width="0.27">Z' (&#937;)</text>
<text x="373.6" y="122.3" font-size="13.8" font-weight="bold" font-family='"Liberation Serif", serif' text-anchor="middle" fill="#111" color="#111" stroke-width="0.28" transform="rotate(-90 373.6 122.3)">-Z'' (&#937;)</text>
<rect x="57" y="298" width="270.3" height="217.5" fill="none" stroke="#111" stroke-width="2"/>
<path d="M57 515.5V519.5M90.79 515.5V519.5M124.58 515.5V519.5M158.36 515.5V519.5M192.15 515.5V519.5M225.94 515.5V519.5M259.73 515.5V519.5M293.51 515.5V519.5M327.3 515.5V519.5M73.89 515.5V517.9M107.68 515.5V517.9M141.47 515.5V517.9M175.26 515.5V517.9M209.04 515.5V517.9M242.83 515.5V517.9M276.62 515.5V517.9M310.41 515.5V517.9M57 515.5H53M57 488.31H53M57 461.12H53M57 433.94H53M57 406.75H53M57 379.56H53M57 352.38H53M57 325.19H53M57 298H53M57 501.91H54.6M57 474.72H54.6M57 447.53H54.6M57 420.34H54.6M57 393.16H54.6M57 365.97H54.6M57 338.78H54.6M57 311.59H54.6" stroke="#111" stroke-width="2" fill="none"/>
<text x="57" y="533.8" font-size="13" font-weight="bold" font-family='"Liberation Sans", sans-serif' text-anchor="middle" fill="#111" color="#111" stroke-width="0.26">0</text>
<text x="90.79" y="533.8" font-size="13" font-weight="bold" font-family='"Liberation Sans", sans-serif' text-anchor="middle" fill="#111" color="#111" stroke-width="0.26">200</text>
<text x="124.58" y="533.8" font-size="13" font-weight="bold" font-family='"Liberation Sans", sans-serif' text-anchor="middle" fill="#111" color="#111" stroke-width="0.26">400</text>
<text x="158.36" y="533.8" font-size="13" font-weight="bold" font-family='"Liberation Sans", sans-serif' text-anchor="middle" fill="#111" color="#111" stroke-width="0.26">600</text>
<text x="192.15" y="533.8" font-size="13" font-weight="bold" font-family='"Liberation Sans", sans-serif' text-anchor="middle" fill="#111" color="#111" stroke-width="0.26">800</text>
<text x="225.94" y="533.8" font-size="13" font-weight="bold" font-family='"Liberation Sans", sans-serif' text-anchor="middle" fill="#111" color="#111" stroke-width="0.26">1000</text>
<text x="259.73" y="533.8" font-size="13" font-weight="bold" font-family='"Liberation Sans", sans-serif' text-anchor="middle" fill="#111" color="#111" stroke-width="0.26">1200</text>
<text x="293.51" y="533.8" font-size="13" font-weight="bold" font-family='"Liberation Sans", sans-serif' text-anchor="middle" fill="#111" color="#111" stroke-width="0.26">1400</text>
<text x="327.3" y="533.8" font-size="13" font-weight="bold" font-family='"Liberation Sans", sans-serif' text-anchor="middle" fill="#111" color="#111" stroke-width="0.26">1600</text>
<text x="48.6" y="520.18" font-size="13" font-weight="bold" font-family='"Liberation Sans", sans-serif' text-anchor="end" fill="#111" color="#111" stroke-width="0.26">0</text>
<text x="48.6" y="492.99" font-size="13" font-weight="bold" font-family='"Liberation Sans", sans-serif' text-anchor="end" fill="#111" color="#111" stroke-width="0.26">200</text>
<text x="48.6" y="465.81" font-size="13" font-weight="bold" font-family='"Liberation Sans", sans-serif' text-anchor="end" fill="#111" color="#111" stroke-width="0.26">400</text>
<text x="48.6" y="438.62" font-size="13" font-weight="bold" font-family='"Liberation Sans", sans-serif' text-anchor="end" fill="#111" color="#111" stroke-width="0.26">600</text>
<text x="48.6" y="411.43" font-size="13" font-weight="bold" font-family='"Liberation Sans", sans-serif' text-anchor="end" fill="#111" color="#111" stroke-width="0.26">800</text>
<text x="48.6" y="384.24" font-size="13" font-weight="bold" font-family='"Liberation Sans", sans-serif' text-anchor="end" fill="#111" color="#111" stroke-width="0.26">1000</text>
<text x="48.6" y="357.06" font-size="13" font-weight="bold" font-family='"Liberation Sans", sans-serif' text-anchor="end" fill="#111" color="#111" stroke-width="0.26">1200</text>
<text x="48.6" y="329.87" font-size="13" font-weight="bold" font-family='"Liberation Sans", sans-serif' text-anchor="end" fill="#111" color="#111" stroke-width="0.26">1400</text>
<text x="48.6" y="302.68" font-size="13" font-weight="bold" font-family='"Liberation Sans", sans-serif' text-anchor="end" fill="#111" color="#111" stroke-width="0.26">1600</text>
<g clip-path="url(#cC)">
<circle cx="68.83" cy="515.23" r="3.4" fill="none" stroke="#555" stroke-width="1.5"/>
<circle cx="70.19" cy="514.47" r="3.4" fill="none" stroke="#555" stroke-width="1.5"/>
<circle cx="71.78" cy="514.28" r="3.4" fill="none" stroke="#555" stroke-width="1.5"/>
<circle cx="73.38" cy="514.28" r="3.4" fill="none" stroke="#555" stroke-width="1.5"/>
<circle cx="74.93" cy="513.98" r="3.4" fill="none" stroke="#555" stroke-width="1.5"/>
<circle cx="76.32" cy="513.18" r="3.4" fill="none" stroke="#555" stroke-width="1.5"/>
<circle cx="77.73" cy="512.44" r="3.4" fill="none" stroke="#555" stroke-width="1.5"/>
<circle cx="79.12" cy="511.65" r="3.4" fill="none" stroke="#555" stroke-width="1.5"/>
<circle cx="80.51" cy="510.85" r="3.4" fill="none" stroke="#555" stroke-width="1.5"/>
<circle cx="81.93" cy="510.12" r="3.4" fill="none" stroke="#555" stroke-width="1.5"/>
<circle cx="83.4" cy="509.49" r="3.4" fill="none" stroke="#555" stroke-width="1.5"/>
<circle cx="84.91" cy="508.96" r="3.4" fill="none" stroke="#555" stroke-width="1.5"/>
<circle cx="86.45" cy="508.51" r="3.4" fill="none" stroke="#555" stroke-width="1.5"/>
<circle cx="88.01" cy="508.19" r="3.4" fill="none" stroke="#555" stroke-width="1.5"/>
<circle cx="89.61" cy="508.03" r="3.4" fill="none" stroke="#555" stroke-width="1.5"/>
<circle cx="91.21" cy="508.05" r="3.4" fill="none" stroke="#555" stroke-width="1.5"/>
<circle cx="92.8" cy="508.19" r="3.4" fill="none" stroke="#555" stroke-width="1.5"/>
<circle cx="94.38" cy="508.43" r="3.4" fill="none" stroke="#555" stroke-width="1.5"/>
<circle cx="95.93" cy="508.83" r="3.4" fill="none" stroke="#555" stroke-width="1.5"/>
<circle cx="97.44" cy="509.35" r="3.4" fill="none" stroke="#555" stroke-width="1.5"/>
<circle cx="98.95" cy="509.89" r="3.4" fill="none" stroke="#555" stroke-width="1.5"/>
<circle cx="100.43" cy="510.49" r="3.4" fill="none" stroke="#555" stroke-width="1.5"/>
<circle cx="101.87" cy="511.18" r="3.4" fill="none" stroke="#555" stroke-width="1.5"/>
<circle cx="103.3" cy="511.91" r="3.4" fill="none" stroke="#555" stroke-width="1.5"/>
<circle cx="104.71" cy="512.67" r="3.4" fill="none" stroke="#555" stroke-width="1.5"/>
<circle cx="106.08" cy="513.49" r="3.4" fill="none" stroke="#555" stroke-width="1.5"/>
<circle cx="107.44" cy="514.33" r="3.4" fill="none" stroke="#555" stroke-width="1.5"/>
<circle cx="108.83" cy="515.13" r="3.4" fill="none" stroke="#555" stroke-width="1.5"/>
<path d="M85.38 510.9L89.98 515.5L85.38 520.1L80.78 515.5Z" fill="none" stroke="#12ec12" stroke-width="1.9"/>
<path d="M86.74 508.92L91.34 513.52L86.74 518.12L82.14 513.52Z" fill="none" stroke="#12ec12" stroke-width="1.9"/>
<path d="M88.43 507.23L93.03 511.83L88.43 516.43L83.83 511.83Z" fill="none" stroke="#12ec12" stroke-width="1.9"/>
<path d="M90.49 506.01L95.09 510.61L90.49 515.21L85.89 510.61Z" fill="none" stroke="#12ec12" stroke-width="1.9"/>
<path d="M92.75 505.21L97.35 509.81L92.75 514.41L88.15 509.81Z" fill="none" stroke="#12ec12" stroke-width="1.9"/>
<path d="M95.11 504.77L99.71 509.37L95.11 513.97L90.51 509.37Z" fill="none" stroke="#12ec12" stroke-width="1.9"/>
<path d="M97.5 504.65L102.1 509.25L97.5 513.85L92.9 509.25Z" fill="none" stroke="#12ec12" stroke-width="1.9"/>
<path d="M99.89 504.88L104.49 509.48L99.89 514.08L95.29 509.48Z" fill="none" stroke="#12ec12" stroke-width="1.9"/>
<path d="M102.22 505.44L106.82 510.04L102.22 514.64L97.62 510.04Z" fill="none" stroke="#12ec12" stroke-width="1.9"/>
<path d="M104.44 506.35L109.04 510.95L104.44 515.55L99.84 510.95Z" fill="none" stroke="#12ec12" stroke-width="1.9"/>
<path d="M106.5 507.58L111.1 512.18L106.5 516.78L101.9 512.18Z" fill="none" stroke="#12ec12" stroke-width="1.9"/>
<path d="M108.46 508.95L113.06 513.55L108.46 518.15L103.86 513.55Z" fill="none" stroke="#12ec12" stroke-width="1.9"/>
<path d="M110.05 509.54L114.65 514.14L110.05 518.74L105.45 514.14Z" fill="none" stroke="#12ec12" stroke-width="1.9"/>
<path d="M116.34 504.65L120.94 509.25L116.34 513.85L111.74 509.25Z" fill="none" stroke="#12ec12" stroke-width="1.9"/>
<path d="M123.23 500.6L127.83 505.2L123.23 509.8L118.63 505.2Z" fill="none" stroke="#12ec12" stroke-width="1.9"/>
<path d="M130.28 496.84L134.88 501.44L130.28 506.04L125.68 501.44Z" fill="none" stroke="#12ec12" stroke-width="1.9"/>
<path d="M137.56 493.51L142.16 498.11L137.56 502.71L132.96 498.11Z" fill="none" stroke="#12ec12" stroke-width="1.9"/>
<path d="M145.18 491.1L149.78 495.7L145.18 500.3L140.58 495.7Z" fill="none" stroke="#12ec12" stroke-width="1.9"/>
<path d="M152.99 489.39L157.59 493.99L152.99 498.59L148.39 493.99Z" fill="none" stroke="#12ec12" stroke-width="1.9"/>
<path d="M160.95 488.73L165.55 493.33L160.95 497.93L156.35 493.33Z" fill="none" stroke="#12ec12" stroke-width="1.9"/>
<path d="M168.81 490.14L173.41 494.74L168.81 499.34L164.21 494.74Z" fill="none" stroke="#12ec12" stroke-width="1.9"/>
<path d="M176.49 492.37L181.09 496.97L176.49 501.57L171.89 496.97Z" fill="none" stroke="#12ec12" stroke-width="1.9"/>
<path d="M183.7 495.81L188.3 500.41L183.7 505.01L179.1 500.41Z" fill="none" stroke="#12ec12" stroke-width="1.9"/>
<path d="M190.06 500.57L194.66 505.17L190.06 509.77L185.46 505.17Z" fill="none" stroke="#12ec12" stroke-width="1.9"/>
<path d="M194.36 507.31L198.96 511.91L194.36 516.51L189.76 511.91Z" fill="none" stroke="#12ec12" stroke-width="1.9"/>
<path d="M110.72 511.6L115.01 519.01L106.43 519.01Z" fill="none" stroke="#1f66e0" stroke-width="1.7" stroke-linejoin="miter"/>
<path d="M111.82 510.58L116.11 517.99L107.53 517.99Z" fill="none" stroke="#1f66e0" stroke-width="1.7" stroke-linejoin="miter"/>
<path d="M112.99 509.64L117.28 517.05L108.7 517.05Z" fill="none" stroke="#1f66e0" stroke-width="1.7" stroke-linejoin="miter"/>
<path d="M114.16 508.7L118.45 516.11L109.87 516.11Z" fill="none" stroke="#1f66e0" stroke-width="1.7" stroke-linejoin="miter"/>
<path d="M115.34 507.77L119.63 515.18L111.05 515.18Z" fill="none" stroke="#1f66e0" stroke-width="1.7" stroke-linejoin="miter"/>
<path d="M116.4 506.72L120.69 514.13L112.11 514.13Z" fill="none" stroke="#1f66e0" stroke-width="1.7" stroke-linejoin="miter"/>
<path d="M117.4 505.6L121.69 513.01L113.11 513.01Z" fill="none" stroke="#1f66e0" stroke-width="1.7" stroke-linejoin="miter"/>
<path d="M118.44 504.52L122.73 511.93L114.15 511.93Z" fill="none" stroke="#1f66e0" stroke-width="1.7" stroke-linejoin="miter"/>
<path d="M119.51 503.47L123.8 510.88L115.22 510.88Z" fill="none" stroke="#1f66e0" stroke-width="1.7" stroke-linejoin="miter"/>
<path d="M120.6 502.44L124.89 509.85L116.31 509.85Z" fill="none" stroke="#1f66e0" stroke-width="1.7" stroke-linejoin="miter"/>
<path d="M120.69 502.36L124.98 509.77L116.4 509.77Z" fill="none" stroke="#1f66e0" stroke-width="1.7" stroke-linejoin="miter"/>
<path d="M125.64 499.34L129.93 506.75L121.35 506.75Z" fill="none" stroke="#1f66e0" stroke-width="1.7" stroke-linejoin="miter"/>
<path d="M131.08 497.35L135.37 504.76L126.79 504.76Z" fill="none" stroke="#1f66e0" stroke-width="1.7" stroke-linejoin="miter"/>
<path d="M136.66 495.77L140.95 503.18L132.37 503.18Z" fill="none" stroke="#1f66e0" stroke-width="1.7" stroke-linejoin="miter"/>
<path d="M142.37 494.8L146.66 502.21L138.08 502.21Z" fill="none" stroke="#1f66e0" stroke-width="1.7" stroke-linejoin="miter"/>
<path d="M148.16 494.57L152.45 501.98L143.87 501.98Z" fill="none" stroke="#1f66e0" stroke-width="1.7" stroke-linejoin="miter"/>
<path d="M153.96 494.5L158.25 501.91L149.67 501.91Z" fill="none" stroke="#1f66e0" stroke-width="1.7" stroke-linejoin="miter"/>
<path d="M159.7 495.31L163.99 502.72L155.41 502.72Z" fill="none" stroke="#1f66e0" stroke-width="1.7" stroke-linejoin="miter"/>
<path d="M165.43 496.24L169.72 503.65L161.14 503.65Z" fill="none" stroke="#1f66e0" stroke-width="1.7" stroke-linejoin="miter"/>
<path d="M171.08 497.53L175.37 504.94L166.79 504.94Z" fill="none" stroke="#1f66e0" stroke-width="1.7" stroke-linejoin="miter"/>
<path d="M176.46 499.67L180.75 507.08L172.17 507.08Z" fill="none" stroke="#1f66e0" stroke-width="1.7" stroke-linejoin="miter"/>
<path d="M181.62 502.32L185.91 509.73L177.33 509.73Z" fill="none" stroke="#1f66e0" stroke-width="1.7" stroke-linejoin="miter"/>
<path d="M182.01 502.49L186.3 509.9L177.72 509.9Z" fill="none" stroke="#1f66e0" stroke-width="1.7" stroke-linejoin="miter"/>
<path d="M184.59 504.02L188.88 511.43L180.3 511.43Z" fill="none" stroke="#1f66e0" stroke-width="1.7" stroke-linejoin="miter"/>
<path d="M187 505.81L191.29 513.22L182.71 513.22Z" fill="none" stroke="#1f66e0" stroke-width="1.7" stroke-linejoin="miter"/>
<path d="M189.18 507.86L193.47 515.27L184.89 515.27Z" fill="none" stroke="#1f66e0" stroke-width="1.7" stroke-linejoin="miter"/>
<path d="M190.93 510.3L195.22 517.71L186.64 517.71Z" fill="none" stroke="#1f66e0" stroke-width="1.7" stroke-linejoin="miter"/>
<path d="M191.47 511.06L195.76 518.47L187.18 518.47Z" fill="none" stroke="#1f66e0" stroke-width="1.7" stroke-linejoin="miter"/>
<path d="M192.53 509.36L196.82 516.77L188.24 516.77Z" fill="none" stroke="#1f66e0" stroke-width="1.7" stroke-linejoin="miter"/>
<path d="M193.58 507.65L197.87 515.06L189.29 515.06Z" fill="none" stroke="#1f66e0" stroke-width="1.7" stroke-linejoin="miter"/>
<path d="M194.67 505.98L198.96 513.39L190.38 513.39Z" fill="none" stroke="#1f66e0" stroke-width="1.7" stroke-linejoin="miter"/>
<path d="M195.85 504.36L200.14 511.77L191.56 511.77Z" fill="none" stroke="#1f66e0" stroke-width="1.7" stroke-linejoin="miter"/>
<path d="M197 502.73L201.29 510.14L192.71 510.14Z" fill="none" stroke="#1f66e0" stroke-width="1.7" stroke-linejoin="miter"/>
<path d="M198.16 501.1L202.45 508.51L193.87 508.51Z" fill="none" stroke="#1f66e0" stroke-width="1.7" stroke-linejoin="miter"/>
<path d="M199.41 499.54L203.7 506.95L195.12 506.95Z" fill="none" stroke="#1f66e0" stroke-width="1.7" stroke-linejoin="miter"/>
<path d="M200.71 498.02L205 505.43L196.42 505.43Z" fill="none" stroke="#1f66e0" stroke-width="1.7" stroke-linejoin="miter"/>
<path d="M202.05 496.53L206.34 503.94L197.76 503.94Z" fill="none" stroke="#1f66e0" stroke-width="1.7" stroke-linejoin="miter"/>
<path d="M203.47 495.13L207.76 502.54L199.18 502.54Z" fill="none" stroke="#1f66e0" stroke-width="1.7" stroke-linejoin="miter"/>
<path d="M207.52 492.03L211.81 499.44L203.23 499.44Z" fill="none" stroke="#1f66e0" stroke-width="1.7" stroke-linejoin="miter"/>
<path d="M210.06 490.12L214.35 497.53L205.77 497.53Z" fill="none" stroke="#1f66e0" stroke-width="1.7" stroke-linejoin="miter"/>
<path d="M212.59 488.35L216.88 495.76L208.3 495.76Z" fill="none" stroke="#1f66e0" stroke-width="1.7" stroke-linejoin="miter"/>
<path d="M215.8 486.86L220.09 494.27L211.51 494.27Z" fill="none" stroke="#1f66e0" stroke-width="1.7" stroke-linejoin="miter"/>
<path d="M219.86 485.36L224.15 492.77L215.57 492.77Z" fill="none" stroke="#1f66e0" stroke-width="1.7" stroke-linejoin="miter"/>
<path d="M227.96 482.78L232.25 490.19L223.67 490.19Z" fill="none" stroke="#1f66e0" stroke-width="1.7" stroke-linejoin="miter"/>
<path d="M238.1 481.15L242.39 488.56L233.81 488.56Z" fill="none" stroke="#1f66e0" stroke-width="1.7" stroke-linejoin="miter"/>
<path d="M250.43 480.06L254.72 487.47L246.14 487.47Z" fill="none" stroke="#1f66e0" stroke-width="1.7" stroke-linejoin="miter"/>
<path d="M262.77 481.83L267.06 489.24L258.48 489.24Z" fill="none" stroke="#1f66e0" stroke-width="1.7" stroke-linejoin="miter"/>
<path d="M276.96 483.87L281.25 491.28L272.67 491.28Z" fill="none" stroke="#1f66e0" stroke-width="1.7" stroke-linejoin="miter"/>
<path d="M285.23 487.95L289.52 495.36L280.94 495.36Z" fill="none" stroke="#1f66e0" stroke-width="1.7" stroke-linejoin="miter"/>
<path d="M290.3 492.7L294.59 500.11L286.01 500.11Z" fill="none" stroke="#1f66e0" stroke-width="1.7" stroke-linejoin="miter"/>
<path d="M293.34 497.19L297.63 504.6L289.05 504.6Z" fill="none" stroke="#1f66e0" stroke-width="1.7" stroke-linejoin="miter"/>
<path d="M296.38 501.27L300.67 508.68L292.09 508.68Z" fill="none" stroke="#1f66e0" stroke-width="1.7" stroke-linejoin="miter"/>
<path d="M299.59 503.72L303.88 511.13L295.3 511.13Z" fill="none" stroke="#1f66e0" stroke-width="1.7" stroke-linejoin="miter"/>
<path d="M303.48 506.03L307.77 513.44L299.19 513.44Z" fill="none" stroke="#1f66e0" stroke-width="1.7" stroke-linejoin="miter"/>
</g>
<text x="71.6" y="324.3" font-size="18.4" font-weight="bold" font-family='"Liberation Sans", sans-serif' text-anchor="start" fill="#111" color="#111" stroke-width="0.37">(c)</text>
<circle cx="259.4" cy="320.5" r="3.4" fill="none" stroke="#555" stroke-width="1.6"/>
<path d="M259.4 336.3L263.9 340.8L259.4 345.3L254.9 340.8Z" fill="none" stroke="#12ec12" stroke-width="2"/>
<path d="M259.4 356.7L263.91 364.49L254.89 364.49Z" fill="none" stroke="#1f66e0" stroke-width="1.8" stroke-linejoin="miter"/>
<text x="280" y="325.7" font-size="14.4" font-weight="bold" font-family='"Liberation Sans", sans-serif' text-anchor="start" fill="#111" color="#111" stroke-width="0.29">450&#176;C</text>
<text x="280" y="346.3" font-size="14.4" font-weight="bold" font-family='"Liberation Sans", sans-serif' text-anchor="start" fill="#111" color="#111" stroke-width="0.29">400&#176;C</text>
<text x="280" y="365.8" font-size="14.4" font-weight="bold" font-family='"Liberation Sans", sans-serif' text-anchor="start" fill="#111" color="#111" stroke-width="0.29">350&#176;C</text>
<text x="191.4" y="555.7" font-size="13.3" font-weight="bold" font-family='"Liberation Sans", sans-serif' text-anchor="middle" fill="#111" color="#111" stroke-width="0.27">Z' (&#937;)</text>
<text x="13.4" y="406.5" font-size="13.5" font-weight="bold" font-family='"Liberation Sans", sans-serif' text-anchor="middle" fill="#111" color="#111" stroke-width="0.27" transform="rotate(-90 13.4 406.5)">-Z'' (&#937;)</text>
<rect x="401.2" y="296.6" width="274.1" height="220" fill="none" stroke="#111" stroke-width="1.9"/>
<path d="M401.2 516.6V520.6M451.04 516.6V520.6M500.87 516.6V520.6M550.71 516.6V520.6M600.55 516.6V520.6M650.38 516.6V520.6M426.12 516.6V519M475.95 516.6V519M525.79 516.6V519M575.63 516.6V519M625.46 516.6V519M401.2 516.6H397.2M401.2 466.6H397.2M401.2 416.6H397.2M401.2 366.6H397.2M401.2 316.6H397.2M401.2 491.6H398.8M401.2 441.6H398.8M401.2 391.6H398.8M401.2 341.6H398.8" stroke="#111" stroke-width="1.9" fill="none"/>
<text x="401.2" y="535.2" font-size="12.6" font-weight="bold" font-family='"Liberation Sans", sans-serif' text-anchor="middle" fill="#111" color="#111" stroke-width="0.25">0</text>
<text x="451.04" y="535.2" font-size="12.6" font-weight="bold" font-family='"Liberation Sans", sans-serif' text-anchor="middle" fill="#111" color="#111" stroke-width="0.25">40</text>
<text x="500.87" y="535.2" font-size="12.6" font-weight="bold" font-family='"Liberation Sans", sans-serif' text-anchor="middle" fill="#111" color="#111" stroke-width="0.25">80</text>
<text x="550.71" y="535.2" font-size="12.6" font-weight="bold" font-family='"Liberation Sans", sans-serif' text-anchor="middle" fill="#111" color="#111" stroke-width="0.25">120</text>
<text x="600.55" y="535.2" font-size="12.6" font-weight="bold" font-family='"Liberation Sans", sans-serif' text-anchor="middle" fill="#111" color="#111" stroke-width="0.25">160</text>
<text x="650.38" y="535.2" font-size="12.6" font-weight="bold" font-family='"Liberation Sans", sans-serif' text-anchor="middle" fill="#111" color="#111" stroke-width="0.25">200</text>
<text x="393.5" y="521.14" font-size="12.6" font-weight="bold" font-family='"Liberation Sans", sans-serif' text-anchor="end" fill="#111" color="#111" stroke-width="0.25">0</text>
<text x="393.5" y="471.14" font-size="12.6" font-weight="bold" font-family='"Liberation Sans", sans-serif' text-anchor="end" fill="#111" color="#111" stroke-width="0.25">50</text>
<text x="393.5" y="421.14" font-size="12.6" font-weight="bold" font-family='"Liberation Sans", sans-serif' text-anchor="end" fill="#111" color="#111" stroke-width="0.25">100</text>
<text x="393.5" y="371.14" font-size="12.6" font-weight="bold" font-family='"Liberation Sans", sans-serif' text-anchor="end" fill="#111" color="#111" stroke-width="0.25">150</text>
<text x="393.5" y="321.14" font-size="12.6" font-weight="bold" font-family='"Liberation Sans", sans-serif' text-anchor="end" fill="#111" color="#111" stroke-width="0.25">200</text>
<g clip-path="url(#cD)">
<circle cx="421.76" cy="516.3" r="3.5" fill="url(#gGrey)"/>
<circle cx="423.24" cy="514.97" r="3.5" fill="url(#gGrey)"/>
<circle cx="425.01" cy="514.06" r="3.5" fill="url(#gGrey)"/>
<circle cx="426.86" cy="513.29" r="3.5" fill="url(#gGrey)"/>
<circle cx="428.74" cy="512.62" r="3.5" fill="url(#gGrey)"/>
<circle cx="430.64" cy="511.97" r="3.5" fill="url(#gGrey)"/>
<circle cx="432.55" cy="511.39" r="3.5" fill="url(#gGrey)"/>
<circle cx="434.47" cy="510.85" r="3.5" fill="url(#gGrey)"/>
<circle cx="436.43" cy="510.43" r="3.5" fill="url(#gGrey)"/>
<circle cx="438.42" cy="510.24" r="3.5" fill="url(#gGrey)"/>
<circle cx="440.42" cy="510.2" r="3.5" fill="url(#gGrey)"/>
<circle cx="442.42" cy="510.27" r="3.5" fill="url(#gGrey)"/>
<circle cx="444.39" cy="510.57" r="3.5" fill="url(#gGrey)"/>
<circle cx="446.35" cy="511" r="3.5" fill="url(#gGrey)"/>
<circle cx="448.24" cy="511.63" r="3.5" fill="url(#gGrey)"/>
<circle cx="450.04" cy="512.5" r="3.5" fill="url(#gGrey)"/>
<circle cx="451.79" cy="513.46" r="3.5" fill="url(#gGrey)"/>
<circle cx="453.52" cy="514.47" r="3.5" fill="url(#gGrey)"/>
<circle cx="455.35" cy="515.28" r="3.5" fill="url(#gGrey)"/>
<circle cx="457.24" cy="515.93" r="3.5" fill="url(#gGrey)"/>
<path d="M429.63 511.26L438.43 516.1L429.63 520.94Z" fill="#fa3535"/>
<path d="M430.78 508.94L439.58 513.78L430.78 518.62Z" fill="#fa3535"/>
<path d="M432.51 507.01L441.31 511.85L432.51 516.69Z" fill="#fa3535"/>
<path d="M434.67 505.56L443.47 510.4L434.67 515.24Z" fill="#fa3535"/>
<path d="M437.06 504.54L445.86 509.38L437.06 514.22Z" fill="#fa3535"/>
<path d="M439.51 503.68L448.31 508.52L439.51 513.36Z" fill="#fa3535"/>
<path d="M441.99 502.89L450.79 507.73L441.99 512.57Z" fill="#fa3535"/>
<path d="M444.51 502.25L453.31 507.09L444.51 511.93Z" fill="#fa3535"/>
<path d="M447.05 501.71L455.85 506.55L447.05 511.39Z" fill="#fa3535"/>
<path d="M449.61 501.25L458.41 506.09L449.61 510.93Z" fill="#fa3535"/>
<path d="M452.19 500.96L460.99 505.8L452.19 510.64Z" fill="#fa3535"/>
<path d="M454.78 500.75L463.58 505.59L454.78 510.43Z" fill="#fa3535"/>
<path d="M457.38 500.66L466.18 505.5L457.38 510.34Z" fill="#fa3535"/>
<path d="M459.98 500.78L468.78 505.62L459.98 510.46Z" fill="#fa3535"/>
<path d="M462.55 501.11L471.35 505.95L462.55 510.79Z" fill="#fa3535"/>
<path d="M465.11 501.58L473.91 506.42L465.11 511.26Z" fill="#fa3535"/>
<path d="M467.64 502.17L476.44 507.01L467.64 511.85Z" fill="#fa3535"/>
<path d="M470.09 503.05L478.89 507.89L470.09 512.73Z" fill="#fa3535"/>
<path d="M472.42 504.19L481.22 509.03L472.42 513.87Z" fill="#fa3535"/>
<path d="M474.65 505.53L483.45 510.37L474.65 515.21Z" fill="#fa3535"/>
<path d="M476.69 507.14L485.49 511.98L476.69 516.82Z" fill="#fa3535"/>
<path d="M478.62 508.88L487.42 513.72L478.62 518.56Z" fill="#fa3535"/>
<path d="M480.59 510.58L489.39 515.42L480.59 520.26Z" fill="#fa3535"/>
<circle cx="447.8" cy="516" r="3.6" fill="url(#gDR)"/>
<circle cx="449.5" cy="514.96" r="3.6" fill="url(#gDR)"/>
<circle cx="451.29" cy="514.06" r="3.6" fill="url(#gDR)"/>
<circle cx="453.11" cy="513.23" r="3.6" fill="url(#gDR)"/>
<circle cx="454.94" cy="512.43" r="3.6" fill="url(#gDR)"/>
<circle cx="456.77" cy="511.61" r="3.6" fill="url(#gDR)"/>
<circle cx="462.25" cy="508.9" r="4" fill="url(#gDR)"/>
<circle cx="467.48" cy="506.7" r="4" fill="url(#gDR)"/>
<circle cx="472.59" cy="504.3" r="4" fill="url(#gDR)"/>
<circle cx="477.45" cy="502.2" r="4" fill="url(#gDR)"/>
<circle cx="482.06" cy="500.3" r="4" fill="url(#gDR)"/>
<circle cx="486.92" cy="498.8" r="4" fill="url(#gDR)"/>
<circle cx="492.77" cy="497" r="4" fill="url(#gDR)"/>
<circle cx="500.37" cy="496.3" r="4" fill="url(#gDR)"/>
<circle cx="509.47" cy="495.2" r="4" fill="url(#gDR)"/>
<circle cx="516.57" cy="496.8" r="4" fill="url(#gDR)"/>
<circle cx="522.8" cy="499.4" r="4" fill="url(#gDR)"/>
<circle cx="527.41" cy="501.6" r="4" fill="url(#gDR)"/>
<circle cx="531.52" cy="503.9" r="4" fill="url(#gDR)"/>
<circle cx="535.26" cy="506.4" r="4" fill="url(#gDR)"/>
<circle cx="538.5" cy="509.6" r="4" fill="url(#gDR)"/>
<circle cx="541.49" cy="512.7" r="4" fill="url(#gDR)"/>
<circle cx="544.48" cy="515" r="4" fill="url(#gDR)"/>
<path d="M473.57 513.16L480.83 513.16L477.2 519.1Z" fill="#ff1493"/>
<path d="M475.07 510.76L482.33 510.76L478.7 516.7Z" fill="#ff1493"/>
<path d="M477.31 508.96L484.57 508.96L480.94 514.9Z" fill="#ff1493"/>
<path d="M480.42 508.46L487.68 508.46L484.05 514.4Z" fill="#ff1493"/>
<path d="M483.54 508.26L490.8 508.26L487.17 514.2Z" fill="#ff1493"/>
<path d="M487.28 508.16L494.54 508.16L490.91 514.1Z" fill="#ff1493"/>
<path d="M491.01 508.76L498.27 508.76L494.64 514.7Z" fill="#ff1493"/>
<path d="M494.75 509.66L502.01 509.66L498.38 515.6Z" fill="#ff1493"/>
<path d="M497.87 510.06L505.13 510.06L501.5 516Z" fill="#ff1493"/>
<path d="M500.36 508.96L507.62 508.96L503.99 514.9Z" fill="#ff1493"/>
<path d="M502.85 507.36L510.11 507.36L506.48 513.3Z" fill="#ff1493"/>
<path d="M505.96 505.16L513.22 505.16L509.59 511.1Z" fill="#ff1493"/>
<path d="M508.58 502.36L515.84 502.36L512.21 508.3Z" fill="#ff1493"/>
<path d="M511.94 500.56L519.2 500.56L515.57 506.5Z" fill="#ff1493"/>
<path d="M515.06 499.06L522.32 499.06L518.69 505Z" fill="#ff1493"/>
<path d="M518.42 497.16L525.68 497.16L522.05 503.1Z" fill="#ff1493"/>
<path d="M522.04 495.16L529.3 495.16L525.67 501.1Z" fill="#ff1493"/>
<path d="M528.14 491.06L535.4 491.06L531.77 497Z" fill="#ff1493"/>
<path d="M536.24 487.56L543.5 487.56L539.87 493.5Z" fill="#ff1493"/>
<path d="M544.84 483.56L552.1 483.56L548.47 489.5Z" fill="#ff1493"/>
<path d="M556.3 480.26L563.56 480.26L559.93 486.2Z" fill="#ff1493"/>
<path d="M569.51 478.16L576.77 478.16L573.14 484.1Z" fill="#ff1493"/>
<path d="M583.83 478.86L591.09 478.86L587.46 484.8Z" fill="#ff1493"/>
<path d="M596.54 481.86L603.8 481.86L600.17 487.8Z" fill="#ff1493"/>
<path d="M604.76 486.46L612.02 486.46L608.39 492.4Z" fill="#ff1493"/>
<path d="M612.86 490.46L620.12 490.46L616.49 496.4Z" fill="#ff1493"/>
<path d="M617.47 495.16L624.73 495.16L621.1 501.1Z" fill="#ff1493"/>
<path d="M622.08 498.96L629.34 498.96L625.71 504.9Z" fill="#ff1493"/>
<path d="M625.07 501.96L632.33 501.96L628.7 507.9Z" fill="#ff1493"/>
<path d="M628.06 504.86L635.32 504.86L631.69 510.8Z" fill="#ff1493"/>
<path d="M630.31 507.86L637.57 507.86L633.94 513.8Z" fill="#ff1493"/>
<path d="M632.55 509.36L639.81 509.36L636.18 515.3Z" fill="#ff1493"/>
<path d="M634.79 510.06L642.05 510.06L638.42 516Z" fill="#ff1493"/>
<path d="M637.03 510.96L644.29 510.96L640.66 516.9Z" fill="#ff1493"/>
<path d="M639.28 511.56L646.54 511.56L642.91 517.5Z" fill="#ff1493"/>
<path d="M642.14 511.86L649.4 511.86L645.77 517.8Z" fill="#ff1493"/>
<path d="M655.6 511.86L662.86 511.86L659.23 517.8Z" fill="#ff1493"/>
</g>
<rect x="412.2" y="487" width="109.7" height="34.1" fill="none" stroke="#111" stroke-width="1.4"/>
<path d="M467.1 487.3L519.5 434.2" stroke="#111" stroke-width="1.6" fill="none"/>
<path d="M523.4 430.0L514.2 434.7L518.8 439.4Z" fill="#111"/>
<rect x="525.5" y="312.5" width="139.4" height="108" fill="#fff" stroke="#222" stroke-width="1.4"/>
<rect x="525.5" y="312.5" width="139.4" height="108" fill="none" stroke="#222" stroke-width="1.4"/>
<path d="M542.92 420.5V422.7M577.77 420.5V422.7M612.62 420.5V422.7M647.48 420.5V422.7M525.5 420.5V421.7M560.35 420.5V421.7M595.2 420.5V421.7M630.05 420.5V421.7M664.9 420.5V421.7M525.5 420.5H523.3M525.5 402.5H523.3M525.5 384.5H523.3M525.5 366.5H523.3M525.5 348.5H523.3M525.5 330.5H523.3M525.5 312.5H523.3" stroke="#222" stroke-width="1.4" fill="none"/>
<text x="542.92" y="429.6" font-size="7.6" font-weight="bold" font-family='"Liberation Sans", sans-serif' text-anchor="middle" fill="#111" color="#111" stroke-width="0.15">20</text>
<text x="577.77" y="429.6" font-size="7.6" font-weight="bold" font-family='"Liberation Sans", sans-serif' text-anchor="middle" fill="#111" color="#111" stroke-width="0.15">40</text>
<text x="612.62" y="429.6" font-size="7.6" font-weight="bold" font-family='"Liberation Sans", sans-serif' text-anchor="middle" fill="#111" color="#111" stroke-width="0.15">60</text>
<text x="647.48" y="429.6" font-size="7.6" font-weight="bold" font-family='"Liberation Sans", sans-serif' text-anchor="middle" fill="#111" color="#111" stroke-width="0.15">80</text>
<text x="522.6" y="423.24" font-size="7.6" font-weight="bold" font-family='"Liberation Sans", sans-serif' text-anchor="end" fill="#111" color="#111" stroke-width="0.15">0</text>
<text x="522.6" y="405.24" font-size="7.6" font-weight="bold" font-family='"Liberation Sans", sans-serif' text-anchor="end" fill="#111" color="#111" stroke-width="0.15">5</text>
<text x="522.6" y="387.24" font-size="7.6" font-weight="bold" font-family='"Liberation Sans", sans-serif' text-anchor="end" fill="#111" color="#111" stroke-width="0.15">10</text>
<text x="522.6" y="369.24" font-size="7.6" font-weight="bold" font-family='"Liberation Sans", sans-serif' text-anchor="end" fill="#111" color="#111" stroke-width="0.15">15</text>
<text x="522.6" y="351.24" font-size="7.6" font-weight="bold" font-family='"Liberation Sans", sans-serif' text-anchor="end" fill="#111" color="#111" stroke-width="0.15">20</text>
<text x="522.6" y="333.24" font-size="7.6" font-weight="bold" font-family='"Liberation Sans", sans-serif' text-anchor="end" fill="#111" color="#111" stroke-width="0.15">25</text>
<text x="522.6" y="315.24" font-size="7.6" font-weight="bold" font-family='"Liberation Sans", sans-serif' text-anchor="end" fill="#111" color="#111" stroke-width="0.15">30</text>
<clipPath id="cID"><rect x="525.5" y="312.5" width="139.4" height="108"/></clipPath>
<g clip-path="url(#cID)">
<circle cx="535.96" cy="419.78" r="1.3" fill="none" stroke="#1a1a9a" stroke-width="1.1"/>
<circle cx="536.84" cy="418.21" r="1.3" fill="none" stroke="#1a1a9a" stroke-width="1.1"/>
<circle cx="537.93" cy="416.78" r="1.3" fill="none" stroke="#1a1a9a" stroke-width="1.1"/>
<circle cx="539.09" cy="415.41" r="1.3" fill="none" stroke="#1a1a9a" stroke-width="1.1"/>
<circle cx="540.22" cy="414.01" r="1.3" fill="none" stroke="#1a1a9a" stroke-width="1.1"/>
<circle cx="541.31" cy="412.58" r="1.3" fill="none" stroke="#1a1a9a" stroke-width="1.1"/>
<circle cx="542.5" cy="411.23" r="1.3" fill="none" stroke="#1a1a9a" stroke-width="1.1"/>
<circle cx="543.85" cy="410.04" r="1.3" fill="none" stroke="#1a1a9a" stroke-width="1.1"/>
<circle cx="545.2" cy="408.84" r="1.3" fill="none" stroke="#1a1a9a" stroke-width="1.1"/>
<circle cx="546.45" cy="407.55" r="1.3" fill="none" stroke="#1a1a9a" stroke-width="1.1"/>
<circle cx="547.65" cy="406.21" r="1.3" fill="none" stroke="#1a1a9a" stroke-width="1.1"/>
<circle cx="548.84" cy="404.86" r="1.3" fill="none" stroke="#1a1a9a" stroke-width="1.1"/>
<circle cx="550.08" cy="403.55" r="1.3" fill="none" stroke="#1a1a9a" stroke-width="1.1"/>
<circle cx="551.39" cy="402.32" r="1.3" fill="none" stroke="#1a1a9a" stroke-width="1.1"/>
<circle cx="552.77" cy="401.17" r="1.3" fill="none" stroke="#1a1a9a" stroke-width="1.1"/>
<circle cx="554.21" cy="400.09" r="1.3" fill="none" stroke="#1a1a9a" stroke-width="1.1"/>
<circle cx="555.71" cy="399.08" r="1.3" fill="none" stroke="#1a1a9a" stroke-width="1.1"/>
<circle cx="557.25" cy="398.17" r="1.3" fill="none" stroke="#1a1a9a" stroke-width="1.1"/>
<circle cx="558.91" cy="397.47" r="1.3" fill="none" stroke="#1a1a9a" stroke-width="1.1"/>
<circle cx="560.68" cy="397.16" r="1.3" fill="none" stroke="#1a1a9a" stroke-width="1.1"/>
<circle cx="562.48" cy="397.1" r="1.3" fill="none" stroke="#1a1a9a" stroke-width="1.1"/>
<circle cx="564.28" cy="397.17" r="1.3" fill="none" stroke="#1a1a9a" stroke-width="1.1"/>
<circle cx="566.05" cy="397.45" r="1.3" fill="none" stroke="#1a1a9a" stroke-width="1.1"/>
<circle cx="567.75" cy="398.03" r="1.3" fill="none" stroke="#1a1a9a" stroke-width="1.1"/>
<circle cx="569.35" cy="398.86" r="1.3" fill="none" stroke="#1a1a9a" stroke-width="1.1"/>
<circle cx="570.85" cy="399.86" r="1.3" fill="none" stroke="#1a1a9a" stroke-width="1.1"/>
<circle cx="572.24" cy="401" r="1.3" fill="none" stroke="#1a1a9a" stroke-width="1.1"/>
<circle cx="573.53" cy="402.25" r="1.3" fill="none" stroke="#1a1a9a" stroke-width="1.1"/>
<circle cx="574.72" cy="403.61" r="1.3" fill="none" stroke="#1a1a9a" stroke-width="1.1"/>
<circle cx="575.84" cy="405.02" r="1.3" fill="none" stroke="#1a1a9a" stroke-width="1.1"/>
<circle cx="576.91" cy="406.46" r="1.3" fill="none" stroke="#1a1a9a" stroke-width="1.1"/>
<circle cx="577.96" cy="407.92" r="1.3" fill="none" stroke="#1a1a9a" stroke-width="1.1"/>
<circle cx="578.98" cy="409.41" r="1.3" fill="none" stroke="#1a1a9a" stroke-width="1.1"/>
<circle cx="579.96" cy="410.92" r="1.3" fill="none" stroke="#1a1a9a" stroke-width="1.1"/>
<circle cx="580.96" cy="412.42" r="1.3" fill="none" stroke="#1a1a9a" stroke-width="1.1"/>
<circle cx="582.05" cy="413.84" r="1.3" fill="none" stroke="#1a1a9a" stroke-width="1.1"/>
<circle cx="583.26" cy="415.18" r="1.3" fill="none" stroke="#1a1a9a" stroke-width="1.1"/>
<circle cx="584.52" cy="416.46" r="1.3" fill="none" stroke="#1a1a9a" stroke-width="1.1"/>
<circle cx="585.86" cy="417.66" r="1.3" fill="none" stroke="#1a1a9a" stroke-width="1.1"/>
<circle cx="587.4" cy="418.59" r="1.3" fill="none" stroke="#1a1a9a" stroke-width="1.1"/>
<path d="M550.61 417.25L555.21 419.78L550.61 422.31Z" fill="#fa3535"/>
<path d="M550.96 415.81L555.56 418.34L550.96 420.87Z" fill="#fa3535"/>
<path d="M551.48 414.37L556.08 416.9L551.48 419.43Z" fill="#fa3535"/>
<path d="M552.01 412.93L556.61 415.46L552.01 417.99Z" fill="#fa3535"/>
<path d="M553.92 410.77L558.52 413.3L553.92 415.83Z" fill="#fa3535"/>
<path d="M556.01 408.25L560.61 410.78L556.01 413.31Z" fill="#fa3535"/>
<path d="M560.02 403.21L564.62 405.74L560.02 408.27Z" fill="#fa3535"/>
<path d="M564.03 398.53L568.63 401.06L564.03 403.59Z" fill="#fa3535"/>
<path d="M568.04 393.85L572.64 396.38L568.04 398.91Z" fill="#fa3535"/>
<path d="M572.92 388.81L577.52 391.34L572.92 393.87Z" fill="#fa3535"/>
<path d="M576.92 384.49L581.52 387.02L576.92 389.55Z" fill="#fa3535"/>
<path d="M580.93 381.61L585.53 384.14L580.93 386.67Z" fill="#fa3535"/>
<path d="M585.29 379.81L589.89 382.34L585.29 384.87Z" fill="#fa3535"/>
<path d="M589.47 379.09L594.07 381.62L589.47 384.15Z" fill="#fa3535"/>
<path d="M595.4 380.17L600 382.7L595.4 385.23Z" fill="#fa3535"/>
<path d="M601.84 382.33L606.44 384.86L601.84 387.39Z" fill="#fa3535"/>
<path d="M607.42 387.37L612.02 389.9L607.42 392.43Z" fill="#fa3535"/>
<path d="M611.43 392.77L616.03 395.3L611.43 397.83Z" fill="#fa3535"/>
<path d="M614.56 399.97L619.16 402.5L614.56 405.03Z" fill="#fa3535"/>
<path d="M617 406.45L621.6 408.98L617 411.51Z" fill="#fa3535"/>
<path d="M618.22 409.69L622.82 412.22L618.22 414.75Z" fill="#fa3535"/>
<path d="M619.44 412.93L624.04 415.46L619.44 417.99Z" fill="#fa3535"/>
<path d="M620.66 415.09L625.26 417.62L620.66 420.15Z" fill="#fa3535"/>
<path d="M621.88 416.53L626.48 419.06L621.88 421.59Z" fill="#fa3535"/>
<circle cx="578.12" cy="418.7" r="2" fill="url(#gDR)"/>
<circle cx="579.69" cy="417.26" r="2" fill="url(#gDR)"/>
<circle cx="581.43" cy="415.46" r="2" fill="url(#gDR)"/>
<circle cx="583.35" cy="414.02" r="2" fill="url(#gDR)"/>
<circle cx="585.44" cy="412.94" r="2" fill="url(#gDR)"/>
<circle cx="587.36" cy="411.14" r="2" fill="url(#gDR)"/>
<circle cx="589.45" cy="408.98" r="2" fill="url(#gDR)"/>
<circle cx="591.37" cy="406.82" r="2" fill="url(#gDR)"/>
<circle cx="593.46" cy="404.3" r="2" fill="url(#gDR)"/>
<circle cx="595.72" cy="399.26" r="2.1" fill="url(#gDR)"/>
<circle cx="599.03" cy="395.3" r="2.1" fill="url(#gDR)"/>
<circle cx="601.47" cy="392.06" r="2.1" fill="url(#gDR)"/>
<circle cx="605.48" cy="391.34" r="2.1" fill="url(#gDR)"/>
<circle cx="608.79" cy="387.38" r="2.1" fill="url(#gDR)"/>
<circle cx="611.06" cy="380.18" r="2.1" fill="url(#gDR)"/>
<circle cx="615.94" cy="373.34" r="2.1" fill="url(#gDR)"/>
<circle cx="621.51" cy="364.34" r="2.1" fill="url(#gDR)"/>
<circle cx="628.83" cy="357.86" r="2.1" fill="url(#gDR)"/>
<circle cx="637.54" cy="349.94" r="2.1" fill="url(#gDR)"/>
<circle cx="647.65" cy="348.86" r="2.1" fill="url(#gDR)"/>
<circle cx="659.5" cy="343.82" r="2.1" fill="url(#gDR)"/>
<path d="M615.41 416.46L619.59 416.46L617.5 419.88Z" fill="#ff1493"/>
<path d="M620.99 404.94L625.17 404.94L623.08 408.36Z" fill="#ff1493"/>
<path d="M624.3 399.54L628.48 399.54L626.39 402.96Z" fill="#ff1493"/>
<path d="M627.96 398.1L632.14 398.1L630.05 401.52Z" fill="#ff1493"/>
<path d="M632.14 398.1L636.32 398.1L634.23 401.52Z" fill="#ff1493"/>
<path d="M634.93 398.82L639.11 398.82L637.02 402.24Z" fill="#ff1493"/>
<path d="M638.94 400.98L643.12 400.98L641.03 404.4Z" fill="#ff1493"/>
<path d="M641.9 403.86L646.08 403.86L643.99 407.28Z" fill="#ff1493"/>
<path d="M645.56 404.94L649.74 404.94L647.65 408.36Z" fill="#ff1493"/>
<path d="M648 403.86L652.18 403.86L650.09 407.28Z" fill="#ff1493"/>
<path d="M650.61 400.98L654.79 400.98L652.7 404.4Z" fill="#ff1493"/>
<path d="M654.97 395.58L659.15 395.58L657.06 399Z" fill="#ff1493"/>
<path d="M661.59 387.66L665.77 387.66L663.68 391.08Z" fill="#ff1493"/>
<path d="M662.81 372.9L666.99 372.9L664.9 376.32Z" fill="#ff1493"/>
</g>
<text x="569.6" y="367.3" font-size="6.4" font-weight="bold" font-family='"Liberation Sans", sans-serif' text-anchor="middle" fill="#222" color="#222" stroke-width="0.13">grain boundary</text>
<path d="M563 370.5L535.9 415.7M563 370.5L554.5 414.4M563 370.5L579.8 415.7M565.2 370.5L626.4 399" stroke="#222" stroke-width="0.9" fill="none"/>
<path d="M563 369.5L560.4 374.8L564.8 375.2Z M565 370.2L569 374.6L570.3 371Z" fill="#222"/>
<text x="595.5" y="443.7" font-size="8.6" font-weight="bold" font-family='"Liberation Sans", sans-serif' text-anchor="middle" fill="#222" color="#222" stroke-width="0.17">Z' (&#937;)</text>
<text x="511.5" y="366.7" font-size="8.7" font-weight="bold" font-family='"Liberation Sans", sans-serif' text-anchor="middle" fill="#222" color="#222" stroke-width="0.17" transform="rotate(-90 511.5 366.7)">-Z'' (&#937;)</text>
<text x="418.6" y="321" font-size="17.6" font-weight="bold" font-family='"Liberation Sans", sans-serif' text-anchor="start" fill="#111" color="#111" stroke-width="0.35">(d)</text>
<circle cx="425.4" cy="339.3" r="4.2" fill="url(#gGrey)"/>
<path d="M422.28 348.12L431.88 353.4L422.28 358.68Z" fill="#fa3535"/>
<circle cx="425.4" cy="367.4" r="4.2" fill="url(#gDR)"/>
<path d="M421.62 378.36L429.98 378.36L425.8 385.2Z" fill="#ff1493"/>
<text x="440" y="342.9" font-size="10.2" font-weight="bold" font-family='"Liberation Sans", sans-serif' text-anchor="start" fill="#111" color="#111" stroke-width="0.2">650&#176;C</text>
<text x="440" y="357" font-size="10.2" font-weight="bold" font-family='"Liberation Sans", sans-serif' text-anchor="start" fill="#111" color="#111" stroke-width="0.2">600&#176;C</text>
<text x="440" y="371" font-size="10.2" font-weight="bold" font-family='"Liberation Sans", sans-serif' text-anchor="start" fill="#111" color="#111" stroke-width="0.2">550&#176;C</text>
<text x="440" y="385" font-size="10.2" font-weight="bold" font-family='"Liberation Sans", sans-serif' text-anchor="start" fill="#111" color="#111" stroke-width="0.2">500&#176;C</text>
<text x="538" y="557.2" font-size="13.3" font-weight="bold" font-family='"Liberation Sans", sans-serif' text-anchor="middle" fill="#111" color="#111" stroke-width="0.27">Z' (&#937;)</text>
<text x="365.7" y="412.9" font-size="13.5" font-weight="bold" font-family='"Liberation Sans", sans-serif' text-anchor="middle" fill="#111" color="#111" stroke-width="0.27" transform="rotate(-90 365.7 412.9)">-Z'' (&#937;)</text>
</svg>
</body></html>
